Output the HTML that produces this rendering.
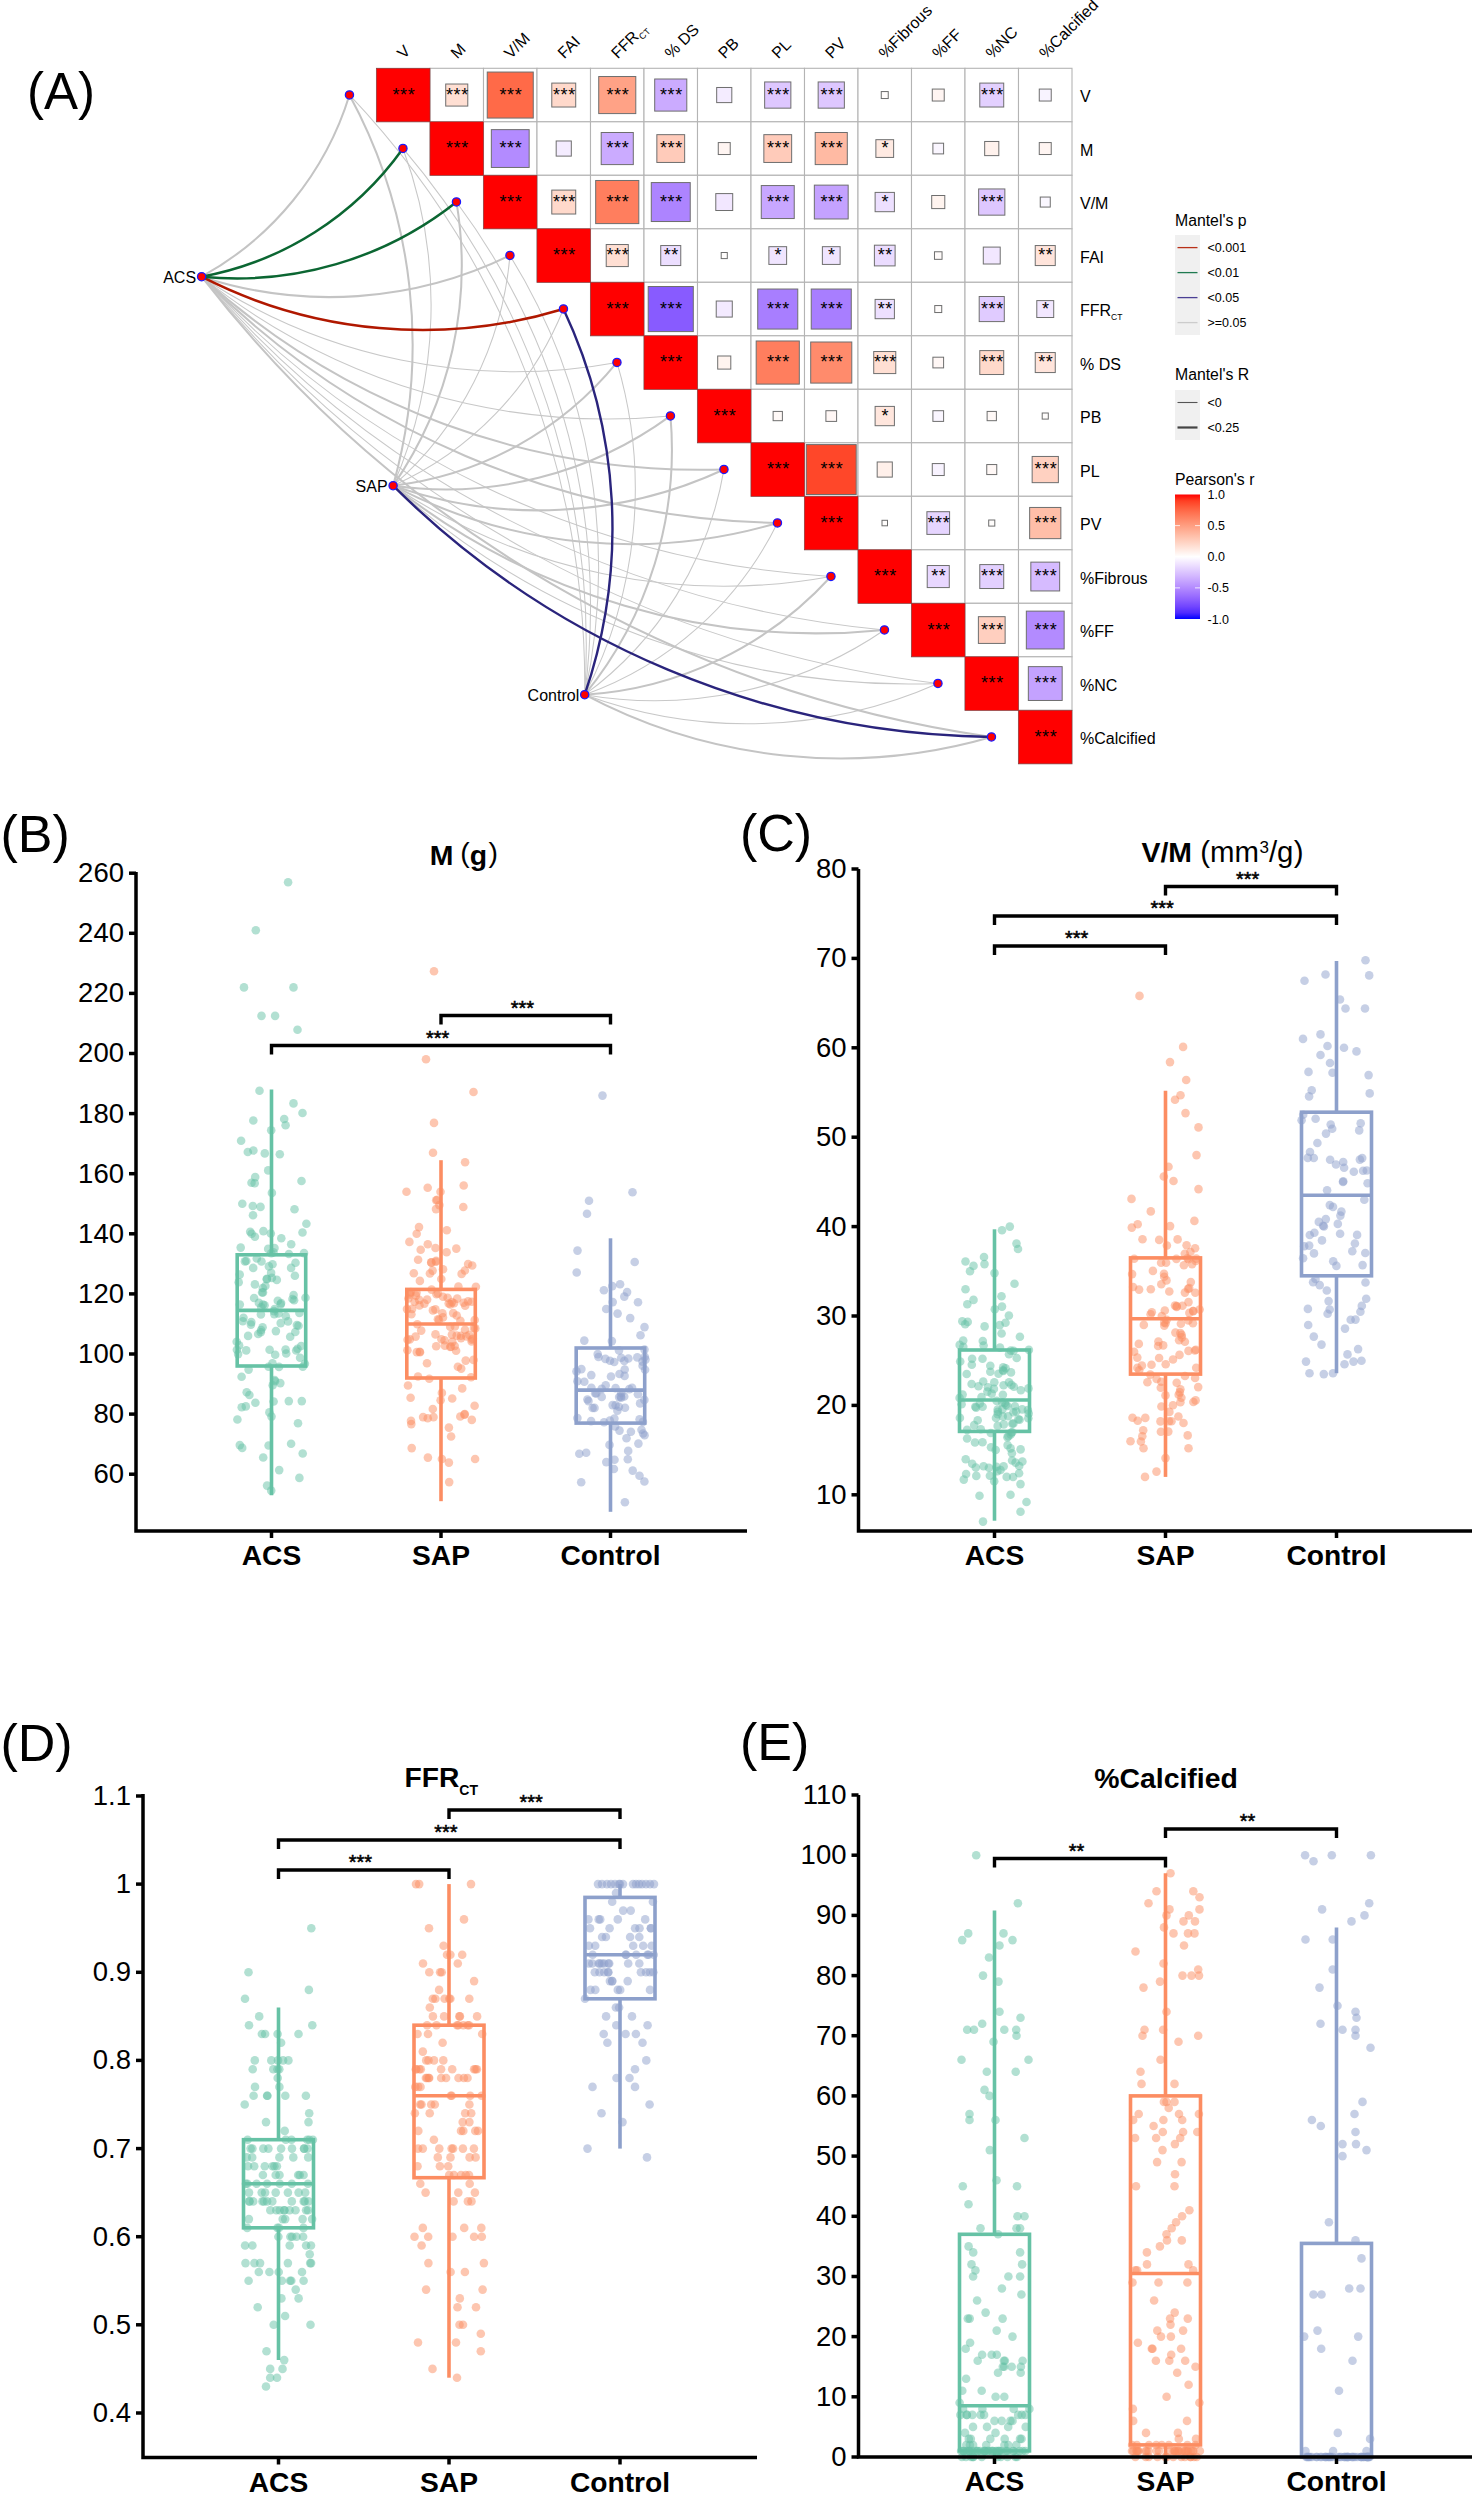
<!DOCTYPE html>
<html><head><meta charset="utf-8"><style>
html,body{margin:0;padding:0;background:#fff;width:1478px;height:2496px;overflow:hidden;}
svg{display:block;}
</style></head><body>
<svg width="1478" height="2496" viewBox="0 0 1478 2496">
<rect width="100%" height="100%" fill="#fff"/>
<g fill="none" stroke-linecap="butt">
<path d="M201.60,276.70 A564.49,564.49 0 0 0 616.95,362.45" stroke="#c8c8c8" stroke-width="1.05"/>
<path d="M201.60,276.70 A650.98,650.98 0 0 0 670.45,415.95" stroke="#c8c8c8" stroke-width="1.05"/>
<path d="M201.60,276.70 A927.82,927.82 0 0 0 830.95,576.45" stroke="#c8c8c8" stroke-width="1.05"/>
<path d="M201.60,276.70 A1023.29,1023.29 0 0 0 884.45,629.95" stroke="#c8c8c8" stroke-width="1.05"/>
<path d="M201.60,276.70 A1119.67,1119.67 0 0 0 937.95,683.45" stroke="#c8c8c8" stroke-width="1.05"/>
<path d="M393.10,485.70 A449.07,449.07 0 0 0 402.95,148.45" stroke="#c8c8c8" stroke-width="1.05"/>
<path d="M393.10,485.70 A343.67,343.67 0 0 0 509.95,255.45" stroke="#c8c8c8" stroke-width="1.05"/>
<path d="M393.10,485.70 A326.73,326.73 0 0 0 563.45,308.95" stroke="#c8c8c8" stroke-width="1.05"/>
<path d="M393.10,485.70 A595.16,595.16 0 0 0 830.95,576.45" stroke="#c8c8c8" stroke-width="1.05"/>
<path d="M393.10,485.70 A771.48,771.48 0 0 0 937.95,683.45" stroke="#c8c8c8" stroke-width="1.05"/>
<path d="M584.70,694.70 A857.48,857.48 0 0 0 349.45,94.95" stroke="#c8c8c8" stroke-width="1.05"/>
<path d="M584.70,694.70 A766.25,766.25 0 0 0 402.95,148.45" stroke="#c8c8c8" stroke-width="1.05"/>
<path d="M584.70,694.70 A677.70,677.70 0 0 0 456.45,201.95" stroke="#c8c8c8" stroke-width="1.05"/>
<path d="M584.70,694.70 A593.05,593.05 0 0 0 509.95,255.45" stroke="#c8c8c8" stroke-width="1.05"/>
<path d="M584.70,694.70 A444.30,444.30 0 0 0 616.95,362.45" stroke="#c8c8c8" stroke-width="1.05"/>
<path d="M584.70,694.70 A352.47,352.47 0 0 0 723.95,469.45" stroke="#c8c8c8" stroke-width="1.05"/>
<path d="M584.70,694.70 A343.62,343.62 0 0 0 777.45,522.95" stroke="#c8c8c8" stroke-width="1.05"/>
<path d="M584.70,694.70 A408.17,408.17 0 0 0 884.45,629.95" stroke="#c8c8c8" stroke-width="1.05"/>
<path d="M584.70,694.70 A470.41,470.41 0 0 0 937.95,683.45" stroke="#c8c8c8" stroke-width="1.05"/>
<path d="M201.60,276.70 A311.84,311.84 0 0 0 349.45,94.95" stroke="#c4c4c4" stroke-width="2.05"/>
<path d="M201.60,276.70 A411.39,411.39 0 0 0 509.95,255.45" stroke="#c4c4c4" stroke-width="2.05"/>
<path d="M201.60,276.70 A741.07,741.07 0 0 0 723.95,469.45" stroke="#c4c4c4" stroke-width="2.05"/>
<path d="M201.60,276.70 A833.60,833.60 0 0 0 777.45,522.95" stroke="#c4c4c4" stroke-width="2.05"/>
<path d="M201.60,276.70 A1216.75,1216.75 0 0 0 991.45,736.95" stroke="#c4c4c4" stroke-width="2.05"/>
<path d="M393.10,485.70 A523.32,523.32 0 0 0 349.45,94.95" stroke="#c4c4c4" stroke-width="2.05"/>
<path d="M393.10,485.70 A386.97,386.97 0 0 0 456.45,201.95" stroke="#c4c4c4" stroke-width="2.05"/>
<path d="M393.10,485.70 A340.12,340.12 0 0 0 616.95,362.45" stroke="#c4c4c4" stroke-width="2.05"/>
<path d="M393.10,485.70 A380.65,380.65 0 0 0 670.45,415.95" stroke="#c4c4c4" stroke-width="2.05"/>
<path d="M393.10,485.70 A440.89,440.89 0 0 0 723.95,469.45" stroke="#c4c4c4" stroke-width="2.05"/>
<path d="M393.10,485.70 A513.97,513.97 0 0 0 777.45,522.95" stroke="#c4c4c4" stroke-width="2.05"/>
<path d="M393.10,485.70 A681.59,681.59 0 0 0 884.45,629.95" stroke="#c4c4c4" stroke-width="2.05"/>
<path d="M584.70,694.70 A388.17,388.17 0 0 0 670.45,415.95" stroke="#c4c4c4" stroke-width="2.05"/>
<path d="M584.70,694.70 A363.59,363.59 0 0 0 830.95,576.45" stroke="#c4c4c4" stroke-width="2.05"/>
<path d="M584.70,694.70 A544.30,544.30 0 0 0 991.45,736.95" stroke="#c4c4c4" stroke-width="2.05"/>
<path d="M201.60,276.70 A483.53,483.53 0 0 0 563.45,308.95" stroke="#b01800" stroke-width="2.5"/>
<path d="M201.60,276.70 A317.74,317.74 0 0 0 402.95,148.45" stroke="#0b6632" stroke-width="2.5"/>
<path d="M201.60,276.70 A353.50,353.50 0 0 0 456.45,201.95" stroke="#0b6632" stroke-width="2.5"/>
<path d="M393.10,485.70 A863.77,863.77 0 0 0 991.45,736.95" stroke="#2a247c" stroke-width="2.4"/>
<path d="M584.70,694.70 A514.21,514.21 0 0 0 563.45,308.95" stroke="#2a247c" stroke-width="2.4"/>
</g>
<g>
<rect x="376.50" y="68.30" width="53.5" height="53.5" fill="#ffffff" stroke="#b4b4b4" stroke-width="1.1"/>
<rect x="430.00" y="68.30" width="53.5" height="53.5" fill="#ffffff" stroke="#b4b4b4" stroke-width="1.1"/>
<rect x="483.50" y="68.30" width="53.5" height="53.5" fill="#ffffff" stroke="#b4b4b4" stroke-width="1.1"/>
<rect x="537.00" y="68.30" width="53.5" height="53.5" fill="#ffffff" stroke="#b4b4b4" stroke-width="1.1"/>
<rect x="590.50" y="68.30" width="53.5" height="53.5" fill="#ffffff" stroke="#b4b4b4" stroke-width="1.1"/>
<rect x="644.00" y="68.30" width="53.5" height="53.5" fill="#ffffff" stroke="#b4b4b4" stroke-width="1.1"/>
<rect x="697.50" y="68.30" width="53.5" height="53.5" fill="#ffffff" stroke="#b4b4b4" stroke-width="1.1"/>
<rect x="751.00" y="68.30" width="53.5" height="53.5" fill="#ffffff" stroke="#b4b4b4" stroke-width="1.1"/>
<rect x="804.50" y="68.30" width="53.5" height="53.5" fill="#ffffff" stroke="#b4b4b4" stroke-width="1.1"/>
<rect x="858.00" y="68.30" width="53.5" height="53.5" fill="#ffffff" stroke="#b4b4b4" stroke-width="1.1"/>
<rect x="911.50" y="68.30" width="53.5" height="53.5" fill="#ffffff" stroke="#b4b4b4" stroke-width="1.1"/>
<rect x="965.00" y="68.30" width="53.5" height="53.5" fill="#ffffff" stroke="#b4b4b4" stroke-width="1.1"/>
<rect x="1018.50" y="68.30" width="53.5" height="53.5" fill="#ffffff" stroke="#b4b4b4" stroke-width="1.1"/>
<rect x="430.00" y="121.80" width="53.5" height="53.5" fill="#ffffff" stroke="#b4b4b4" stroke-width="1.1"/>
<rect x="483.50" y="121.80" width="53.5" height="53.5" fill="#ffffff" stroke="#b4b4b4" stroke-width="1.1"/>
<rect x="537.00" y="121.80" width="53.5" height="53.5" fill="#ffffff" stroke="#b4b4b4" stroke-width="1.1"/>
<rect x="590.50" y="121.80" width="53.5" height="53.5" fill="#ffffff" stroke="#b4b4b4" stroke-width="1.1"/>
<rect x="644.00" y="121.80" width="53.5" height="53.5" fill="#ffffff" stroke="#b4b4b4" stroke-width="1.1"/>
<rect x="697.50" y="121.80" width="53.5" height="53.5" fill="#ffffff" stroke="#b4b4b4" stroke-width="1.1"/>
<rect x="751.00" y="121.80" width="53.5" height="53.5" fill="#ffffff" stroke="#b4b4b4" stroke-width="1.1"/>
<rect x="804.50" y="121.80" width="53.5" height="53.5" fill="#ffffff" stroke="#b4b4b4" stroke-width="1.1"/>
<rect x="858.00" y="121.80" width="53.5" height="53.5" fill="#ffffff" stroke="#b4b4b4" stroke-width="1.1"/>
<rect x="911.50" y="121.80" width="53.5" height="53.5" fill="#ffffff" stroke="#b4b4b4" stroke-width="1.1"/>
<rect x="965.00" y="121.80" width="53.5" height="53.5" fill="#ffffff" stroke="#b4b4b4" stroke-width="1.1"/>
<rect x="1018.50" y="121.80" width="53.5" height="53.5" fill="#ffffff" stroke="#b4b4b4" stroke-width="1.1"/>
<rect x="483.50" y="175.30" width="53.5" height="53.5" fill="#ffffff" stroke="#b4b4b4" stroke-width="1.1"/>
<rect x="537.00" y="175.30" width="53.5" height="53.5" fill="#ffffff" stroke="#b4b4b4" stroke-width="1.1"/>
<rect x="590.50" y="175.30" width="53.5" height="53.5" fill="#ffffff" stroke="#b4b4b4" stroke-width="1.1"/>
<rect x="644.00" y="175.30" width="53.5" height="53.5" fill="#ffffff" stroke="#b4b4b4" stroke-width="1.1"/>
<rect x="697.50" y="175.30" width="53.5" height="53.5" fill="#ffffff" stroke="#b4b4b4" stroke-width="1.1"/>
<rect x="751.00" y="175.30" width="53.5" height="53.5" fill="#ffffff" stroke="#b4b4b4" stroke-width="1.1"/>
<rect x="804.50" y="175.30" width="53.5" height="53.5" fill="#ffffff" stroke="#b4b4b4" stroke-width="1.1"/>
<rect x="858.00" y="175.30" width="53.5" height="53.5" fill="#ffffff" stroke="#b4b4b4" stroke-width="1.1"/>
<rect x="911.50" y="175.30" width="53.5" height="53.5" fill="#ffffff" stroke="#b4b4b4" stroke-width="1.1"/>
<rect x="965.00" y="175.30" width="53.5" height="53.5" fill="#ffffff" stroke="#b4b4b4" stroke-width="1.1"/>
<rect x="1018.50" y="175.30" width="53.5" height="53.5" fill="#ffffff" stroke="#b4b4b4" stroke-width="1.1"/>
<rect x="537.00" y="228.80" width="53.5" height="53.5" fill="#ffffff" stroke="#b4b4b4" stroke-width="1.1"/>
<rect x="590.50" y="228.80" width="53.5" height="53.5" fill="#ffffff" stroke="#b4b4b4" stroke-width="1.1"/>
<rect x="644.00" y="228.80" width="53.5" height="53.5" fill="#ffffff" stroke="#b4b4b4" stroke-width="1.1"/>
<rect x="697.50" y="228.80" width="53.5" height="53.5" fill="#ffffff" stroke="#b4b4b4" stroke-width="1.1"/>
<rect x="751.00" y="228.80" width="53.5" height="53.5" fill="#ffffff" stroke="#b4b4b4" stroke-width="1.1"/>
<rect x="804.50" y="228.80" width="53.5" height="53.5" fill="#ffffff" stroke="#b4b4b4" stroke-width="1.1"/>
<rect x="858.00" y="228.80" width="53.5" height="53.5" fill="#ffffff" stroke="#b4b4b4" stroke-width="1.1"/>
<rect x="911.50" y="228.80" width="53.5" height="53.5" fill="#ffffff" stroke="#b4b4b4" stroke-width="1.1"/>
<rect x="965.00" y="228.80" width="53.5" height="53.5" fill="#ffffff" stroke="#b4b4b4" stroke-width="1.1"/>
<rect x="1018.50" y="228.80" width="53.5" height="53.5" fill="#ffffff" stroke="#b4b4b4" stroke-width="1.1"/>
<rect x="590.50" y="282.30" width="53.5" height="53.5" fill="#ffffff" stroke="#b4b4b4" stroke-width="1.1"/>
<rect x="644.00" y="282.30" width="53.5" height="53.5" fill="#ffffff" stroke="#b4b4b4" stroke-width="1.1"/>
<rect x="697.50" y="282.30" width="53.5" height="53.5" fill="#ffffff" stroke="#b4b4b4" stroke-width="1.1"/>
<rect x="751.00" y="282.30" width="53.5" height="53.5" fill="#ffffff" stroke="#b4b4b4" stroke-width="1.1"/>
<rect x="804.50" y="282.30" width="53.5" height="53.5" fill="#ffffff" stroke="#b4b4b4" stroke-width="1.1"/>
<rect x="858.00" y="282.30" width="53.5" height="53.5" fill="#ffffff" stroke="#b4b4b4" stroke-width="1.1"/>
<rect x="911.50" y="282.30" width="53.5" height="53.5" fill="#ffffff" stroke="#b4b4b4" stroke-width="1.1"/>
<rect x="965.00" y="282.30" width="53.5" height="53.5" fill="#ffffff" stroke="#b4b4b4" stroke-width="1.1"/>
<rect x="1018.50" y="282.30" width="53.5" height="53.5" fill="#ffffff" stroke="#b4b4b4" stroke-width="1.1"/>
<rect x="644.00" y="335.80" width="53.5" height="53.5" fill="#ffffff" stroke="#b4b4b4" stroke-width="1.1"/>
<rect x="697.50" y="335.80" width="53.5" height="53.5" fill="#ffffff" stroke="#b4b4b4" stroke-width="1.1"/>
<rect x="751.00" y="335.80" width="53.5" height="53.5" fill="#ffffff" stroke="#b4b4b4" stroke-width="1.1"/>
<rect x="804.50" y="335.80" width="53.5" height="53.5" fill="#ffffff" stroke="#b4b4b4" stroke-width="1.1"/>
<rect x="858.00" y="335.80" width="53.5" height="53.5" fill="#ffffff" stroke="#b4b4b4" stroke-width="1.1"/>
<rect x="911.50" y="335.80" width="53.5" height="53.5" fill="#ffffff" stroke="#b4b4b4" stroke-width="1.1"/>
<rect x="965.00" y="335.80" width="53.5" height="53.5" fill="#ffffff" stroke="#b4b4b4" stroke-width="1.1"/>
<rect x="1018.50" y="335.80" width="53.5" height="53.5" fill="#ffffff" stroke="#b4b4b4" stroke-width="1.1"/>
<rect x="697.50" y="389.30" width="53.5" height="53.5" fill="#ffffff" stroke="#b4b4b4" stroke-width="1.1"/>
<rect x="751.00" y="389.30" width="53.5" height="53.5" fill="#ffffff" stroke="#b4b4b4" stroke-width="1.1"/>
<rect x="804.50" y="389.30" width="53.5" height="53.5" fill="#ffffff" stroke="#b4b4b4" stroke-width="1.1"/>
<rect x="858.00" y="389.30" width="53.5" height="53.5" fill="#ffffff" stroke="#b4b4b4" stroke-width="1.1"/>
<rect x="911.50" y="389.30" width="53.5" height="53.5" fill="#ffffff" stroke="#b4b4b4" stroke-width="1.1"/>
<rect x="965.00" y="389.30" width="53.5" height="53.5" fill="#ffffff" stroke="#b4b4b4" stroke-width="1.1"/>
<rect x="1018.50" y="389.30" width="53.5" height="53.5" fill="#ffffff" stroke="#b4b4b4" stroke-width="1.1"/>
<rect x="751.00" y="442.80" width="53.5" height="53.5" fill="#ffffff" stroke="#b4b4b4" stroke-width="1.1"/>
<rect x="804.50" y="442.80" width="53.5" height="53.5" fill="#ffffff" stroke="#b4b4b4" stroke-width="1.1"/>
<rect x="858.00" y="442.80" width="53.5" height="53.5" fill="#ffffff" stroke="#b4b4b4" stroke-width="1.1"/>
<rect x="911.50" y="442.80" width="53.5" height="53.5" fill="#ffffff" stroke="#b4b4b4" stroke-width="1.1"/>
<rect x="965.00" y="442.80" width="53.5" height="53.5" fill="#ffffff" stroke="#b4b4b4" stroke-width="1.1"/>
<rect x="1018.50" y="442.80" width="53.5" height="53.5" fill="#ffffff" stroke="#b4b4b4" stroke-width="1.1"/>
<rect x="804.50" y="496.30" width="53.5" height="53.5" fill="#ffffff" stroke="#b4b4b4" stroke-width="1.1"/>
<rect x="858.00" y="496.30" width="53.5" height="53.5" fill="#ffffff" stroke="#b4b4b4" stroke-width="1.1"/>
<rect x="911.50" y="496.30" width="53.5" height="53.5" fill="#ffffff" stroke="#b4b4b4" stroke-width="1.1"/>
<rect x="965.00" y="496.30" width="53.5" height="53.5" fill="#ffffff" stroke="#b4b4b4" stroke-width="1.1"/>
<rect x="1018.50" y="496.30" width="53.5" height="53.5" fill="#ffffff" stroke="#b4b4b4" stroke-width="1.1"/>
<rect x="858.00" y="549.80" width="53.5" height="53.5" fill="#ffffff" stroke="#b4b4b4" stroke-width="1.1"/>
<rect x="911.50" y="549.80" width="53.5" height="53.5" fill="#ffffff" stroke="#b4b4b4" stroke-width="1.1"/>
<rect x="965.00" y="549.80" width="53.5" height="53.5" fill="#ffffff" stroke="#b4b4b4" stroke-width="1.1"/>
<rect x="1018.50" y="549.80" width="53.5" height="53.5" fill="#ffffff" stroke="#b4b4b4" stroke-width="1.1"/>
<rect x="911.50" y="603.30" width="53.5" height="53.5" fill="#ffffff" stroke="#b4b4b4" stroke-width="1.1"/>
<rect x="965.00" y="603.30" width="53.5" height="53.5" fill="#ffffff" stroke="#b4b4b4" stroke-width="1.1"/>
<rect x="1018.50" y="603.30" width="53.5" height="53.5" fill="#ffffff" stroke="#b4b4b4" stroke-width="1.1"/>
<rect x="965.00" y="656.80" width="53.5" height="53.5" fill="#ffffff" stroke="#b4b4b4" stroke-width="1.1"/>
<rect x="1018.50" y="656.80" width="53.5" height="53.5" fill="#ffffff" stroke="#b4b4b4" stroke-width="1.1"/>
<rect x="1018.50" y="710.30" width="53.5" height="53.5" fill="#ffffff" stroke="#b4b4b4" stroke-width="1.1"/>
<rect x="376.50" y="68.30" width="53.5" height="53.5" fill="#ff0000" stroke="#8a3a3a" stroke-width="0.6"/>
<rect x="445.72" y="84.02" width="22.06" height="22.06" fill="#ffdfd3" stroke="#6e6e6e" stroke-width="1"/>
<rect x="487.24" y="72.04" width="46.02" height="46.02" fill="#ff6a48" stroke="#6e6e6e" stroke-width="1"/>
<rect x="551.79" y="83.09" width="23.93" height="23.93" fill="#ffd9cb" stroke="#6e6e6e" stroke-width="1"/>
<rect x="598.72" y="76.52" width="37.07" height="37.07" fill="#ffa286" stroke="#6e6e6e" stroke-width="1"/>
<rect x="654.70" y="79.00" width="32.10" height="32.10" fill="#cbabff" stroke="#6e6e6e" stroke-width="1"/>
<rect x="716.68" y="87.48" width="15.13" height="15.13" fill="#f4ecff" stroke="#6e6e6e" stroke-width="1"/>
<rect x="764.65" y="81.95" width="26.21" height="26.21" fill="#dec7ff" stroke="#6e6e6e" stroke-width="1"/>
<rect x="818.15" y="81.95" width="26.21" height="26.21" fill="#dec7ff" stroke="#6e6e6e" stroke-width="1"/>
<rect x="881.26" y="91.56" width="6.98" height="6.98" fill="#fffcfb" stroke="#6e6e6e" stroke-width="1"/>
<rect x="932.27" y="89.07" width="11.96" height="11.96" fill="#fff5f2" stroke="#6e6e6e" stroke-width="1"/>
<rect x="979.79" y="83.09" width="23.93" height="23.93" fill="#e3d0ff" stroke="#6e6e6e" stroke-width="1"/>
<rect x="1039.27" y="89.07" width="11.96" height="11.96" fill="#f8f3ff" stroke="#6e6e6e" stroke-width="1"/>
<rect x="430.00" y="121.80" width="53.5" height="53.5" fill="#ff0000" stroke="#8a3a3a" stroke-width="0.6"/>
<rect x="491.33" y="129.63" width="37.83" height="37.83" fill="#b38bff" stroke="#6e6e6e" stroke-width="1"/>
<rect x="556.18" y="140.98" width="15.13" height="15.13" fill="#f4ecff" stroke="#6e6e6e" stroke-width="1"/>
<rect x="601.20" y="132.50" width="32.10" height="32.10" fill="#cbabff" stroke="#6e6e6e" stroke-width="1"/>
<rect x="656.85" y="134.65" width="27.80" height="27.80" fill="#ffcbba" stroke="#6e6e6e" stroke-width="1"/>
<rect x="718.27" y="142.57" width="11.96" height="11.96" fill="#fff5f2" stroke="#6e6e6e" stroke-width="1"/>
<rect x="763.85" y="134.65" width="27.80" height="27.80" fill="#ffcbba" stroke="#6e6e6e" stroke-width="1"/>
<rect x="815.20" y="132.50" width="32.10" height="32.10" fill="#ffbaa3" stroke="#6e6e6e" stroke-width="1"/>
<rect x="875.88" y="139.68" width="17.74" height="17.74" fill="#ffeae2" stroke="#6e6e6e" stroke-width="1"/>
<rect x="932.90" y="143.20" width="10.70" height="10.70" fill="#faf6ff" stroke="#6e6e6e" stroke-width="1"/>
<rect x="984.67" y="141.47" width="14.15" height="14.15" fill="#fff2ed" stroke="#6e6e6e" stroke-width="1"/>
<rect x="1039.27" y="142.57" width="11.96" height="11.96" fill="#fff5f2" stroke="#6e6e6e" stroke-width="1"/>
<rect x="483.50" y="175.30" width="53.5" height="53.5" fill="#ff0000" stroke="#8a3a3a" stroke-width="0.6"/>
<rect x="551.79" y="190.09" width="23.93" height="23.93" fill="#ffd9cb" stroke="#6e6e6e" stroke-width="1"/>
<rect x="595.68" y="180.48" width="43.13" height="43.13" fill="#ff7e5e" stroke="#6e6e6e" stroke-width="1"/>
<rect x="651.28" y="182.58" width="38.95" height="38.95" fill="#ad84ff" stroke="#6e6e6e" stroke-width="1"/>
<rect x="715.79" y="193.59" width="16.92" height="16.92" fill="#f2e7ff" stroke="#6e6e6e" stroke-width="1"/>
<rect x="761.26" y="185.56" width="32.98" height="32.98" fill="#c8a7ff" stroke="#6e6e6e" stroke-width="1"/>
<rect x="814.33" y="185.13" width="33.84" height="33.84" fill="#c4a2ff" stroke="#6e6e6e" stroke-width="1"/>
<rect x="875.11" y="192.41" width="19.29" height="19.29" fill="#ede0ff" stroke="#6e6e6e" stroke-width="1"/>
<rect x="931.70" y="195.50" width="13.10" height="13.10" fill="#fff4ef" stroke="#6e6e6e" stroke-width="1"/>
<rect x="978.65" y="188.95" width="26.21" height="26.21" fill="#dec7ff" stroke="#6e6e6e" stroke-width="1"/>
<rect x="1040.25" y="197.05" width="10.01" height="10.01" fill="#faf7ff" stroke="#6e6e6e" stroke-width="1"/>
<rect x="537.00" y="228.80" width="53.5" height="53.5" fill="#ff0000" stroke="#8a3a3a" stroke-width="0.6"/>
<rect x="606.22" y="244.52" width="22.06" height="22.06" fill="#ffdfd3" stroke="#6e6e6e" stroke-width="1"/>
<rect x="660.74" y="245.54" width="20.02" height="20.02" fill="#ecdeff" stroke="#6e6e6e" stroke-width="1"/>
<rect x="721.20" y="252.50" width="6.10" height="6.10" fill="#fffdfc" stroke="#6e6e6e" stroke-width="1"/>
<rect x="768.88" y="246.68" width="17.74" height="17.74" fill="#f0e5ff" stroke="#6e6e6e" stroke-width="1"/>
<rect x="822.38" y="246.68" width="17.74" height="17.74" fill="#f0e5ff" stroke="#6e6e6e" stroke-width="1"/>
<rect x="874.39" y="245.19" width="20.72" height="20.72" fill="#ebdcff" stroke="#6e6e6e" stroke-width="1"/>
<rect x="934.47" y="251.77" width="7.57" height="7.57" fill="#fffbfa" stroke="#6e6e6e" stroke-width="1"/>
<rect x="983.29" y="247.09" width="16.92" height="16.92" fill="#f2e7ff" stroke="#6e6e6e" stroke-width="1"/>
<rect x="1035.24" y="245.54" width="20.02" height="20.02" fill="#ffe4db" stroke="#6e6e6e" stroke-width="1"/>
<rect x="590.50" y="282.30" width="53.5" height="53.5" fill="#ff0000" stroke="#8a3a3a" stroke-width="0.6"/>
<rect x="648.21" y="286.51" width="45.08" height="45.08" fill="#885bff" stroke="#6e6e6e" stroke-width="1"/>
<rect x="716.23" y="301.03" width="16.05" height="16.05" fill="#f3eaff" stroke="#6e6e6e" stroke-width="1"/>
<rect x="757.73" y="289.03" width="40.04" height="40.04" fill="#a87eff" stroke="#6e6e6e" stroke-width="1"/>
<rect x="811.23" y="289.03" width="40.04" height="40.04" fill="#a87eff" stroke="#6e6e6e" stroke-width="1"/>
<rect x="875.11" y="299.41" width="19.29" height="19.29" fill="#ede0ff" stroke="#6e6e6e" stroke-width="1"/>
<rect x="934.76" y="305.56" width="6.98" height="6.98" fill="#fffcfb" stroke="#6e6e6e" stroke-width="1"/>
<rect x="979.20" y="296.50" width="25.09" height="25.09" fill="#e0cbff" stroke="#6e6e6e" stroke-width="1"/>
<rect x="1036.79" y="300.59" width="16.92" height="16.92" fill="#f2e7ff" stroke="#6e6e6e" stroke-width="1"/>
<rect x="644.00" y="335.80" width="53.5" height="53.5" fill="#ff0000" stroke="#8a3a3a" stroke-width="0.6"/>
<rect x="717.70" y="356.00" width="13.10" height="13.10" fill="#fff4ef" stroke="#6e6e6e" stroke-width="1"/>
<rect x="756.18" y="340.98" width="43.13" height="43.13" fill="#ff7e5e" stroke="#6e6e6e" stroke-width="1"/>
<rect x="810.70" y="342.00" width="41.09" height="41.09" fill="#ff8b6c" stroke="#6e6e6e" stroke-width="1"/>
<rect x="873.72" y="351.52" width="22.06" height="22.06" fill="#ffdfd3" stroke="#6e6e6e" stroke-width="1"/>
<rect x="932.90" y="357.20" width="10.70" height="10.70" fill="#fff7f5" stroke="#6e6e6e" stroke-width="1"/>
<rect x="979.79" y="350.59" width="23.93" height="23.93" fill="#ffd9cb" stroke="#6e6e6e" stroke-width="1"/>
<rect x="1035.24" y="352.54" width="20.02" height="20.02" fill="#ffe4db" stroke="#6e6e6e" stroke-width="1"/>
<rect x="697.50" y="389.30" width="53.5" height="53.5" fill="#ff0000" stroke="#8a3a3a" stroke-width="0.6"/>
<rect x="773.12" y="411.42" width="9.27" height="9.27" fill="#fff9f7" stroke="#6e6e6e" stroke-width="1"/>
<rect x="825.90" y="410.70" width="10.70" height="10.70" fill="#fff7f5" stroke="#6e6e6e" stroke-width="1"/>
<rect x="875.11" y="406.41" width="19.29" height="19.29" fill="#ffe6dd" stroke="#6e6e6e" stroke-width="1"/>
<rect x="932.90" y="410.70" width="10.70" height="10.70" fill="#faf6ff" stroke="#6e6e6e" stroke-width="1"/>
<rect x="987.12" y="411.42" width="9.27" height="9.27" fill="#fff9f7" stroke="#6e6e6e" stroke-width="1"/>
<rect x="1042.20" y="413.00" width="6.10" height="6.10" fill="#fffdfc" stroke="#6e6e6e" stroke-width="1"/>
<rect x="751.00" y="442.80" width="53.5" height="53.5" fill="#ff0000" stroke="#8a3a3a" stroke-width="0.6"/>
<rect x="806.30" y="444.60" width="49.90" height="49.90" fill="#ff4729" stroke="#6e6e6e" stroke-width="1"/>
<rect x="877.18" y="461.98" width="15.13" height="15.13" fill="#fff0ea" stroke="#6e6e6e" stroke-width="1"/>
<rect x="932.27" y="463.57" width="11.96" height="11.96" fill="#f8f3ff" stroke="#6e6e6e" stroke-width="1"/>
<rect x="986.75" y="464.55" width="10.01" height="10.01" fill="#fff8f6" stroke="#6e6e6e" stroke-width="1"/>
<rect x="1032.15" y="456.45" width="26.21" height="26.21" fill="#ffd1c1" stroke="#6e6e6e" stroke-width="1"/>
<rect x="804.50" y="496.30" width="53.5" height="53.5" fill="#ff0000" stroke="#8a3a3a" stroke-width="0.6"/>
<rect x="882.00" y="520.30" width="5.50" height="5.50" fill="#fffdfc" stroke="#6e6e6e" stroke-width="1"/>
<rect x="926.90" y="511.70" width="22.70" height="22.70" fill="#e6d5ff" stroke="#6e6e6e" stroke-width="1"/>
<rect x="988.70" y="520.00" width="6.10" height="6.10" fill="#fffdfc" stroke="#6e6e6e" stroke-width="1"/>
<rect x="1029.65" y="507.45" width="31.20" height="31.20" fill="#ffbea8" stroke="#6e6e6e" stroke-width="1"/>
<rect x="858.00" y="549.80" width="53.5" height="53.5" fill="#ff0000" stroke="#8a3a3a" stroke-width="0.6"/>
<rect x="927.22" y="565.52" width="22.06" height="22.06" fill="#e8d7ff" stroke="#6e6e6e" stroke-width="1"/>
<rect x="979.79" y="564.59" width="23.93" height="23.93" fill="#e3d0ff" stroke="#6e6e6e" stroke-width="1"/>
<rect x="1030.84" y="562.14" width="28.81" height="28.81" fill="#d6bbff" stroke="#6e6e6e" stroke-width="1"/>
<rect x="911.50" y="603.30" width="53.5" height="53.5" fill="#ff0000" stroke="#8a3a3a" stroke-width="0.6"/>
<rect x="978.38" y="616.67" width="26.75" height="26.75" fill="#ffcfbf" stroke="#6e6e6e" stroke-width="1"/>
<rect x="1026.33" y="611.13" width="37.83" height="37.83" fill="#b38bff" stroke="#6e6e6e" stroke-width="1"/>
<rect x="965.00" y="656.80" width="53.5" height="53.5" fill="#ff0000" stroke="#8a3a3a" stroke-width="0.6"/>
<rect x="1028.33" y="666.63" width="33.84" height="33.84" fill="#c4a2ff" stroke="#6e6e6e" stroke-width="1"/>
<rect x="1018.50" y="710.30" width="53.5" height="53.5" fill="#ff0000" stroke="#8a3a3a" stroke-width="0.6"/>
</g>
<g font-family='"Liberation Sans", sans-serif' font-size="18" fill="#000" text-anchor="middle">
<text x="403.85" y="100.85" letter-spacing="0.6">***</text>
<text x="457.35" y="100.85" letter-spacing="0.6">***</text>
<text x="510.85" y="100.85" letter-spacing="0.6">***</text>
<text x="564.35" y="100.85" letter-spacing="0.6">***</text>
<text x="617.85" y="100.85" letter-spacing="0.6">***</text>
<text x="671.35" y="100.85" letter-spacing="0.6">***</text>
<text x="778.35" y="100.85" letter-spacing="0.6">***</text>
<text x="831.85" y="100.85" letter-spacing="0.6">***</text>
<text x="992.35" y="100.85" letter-spacing="0.6">***</text>
<text x="457.35" y="154.35" letter-spacing="0.6">***</text>
<text x="510.85" y="154.35" letter-spacing="0.6">***</text>
<text x="617.85" y="154.35" letter-spacing="0.6">***</text>
<text x="671.35" y="154.35" letter-spacing="0.6">***</text>
<text x="778.35" y="154.35" letter-spacing="0.6">***</text>
<text x="831.85" y="154.35" letter-spacing="0.6">***</text>
<text x="885.35" y="154.35" letter-spacing="0.6">*</text>
<text x="510.85" y="207.85" letter-spacing="0.6">***</text>
<text x="564.35" y="207.85" letter-spacing="0.6">***</text>
<text x="617.85" y="207.85" letter-spacing="0.6">***</text>
<text x="671.35" y="207.85" letter-spacing="0.6">***</text>
<text x="778.35" y="207.85" letter-spacing="0.6">***</text>
<text x="831.85" y="207.85" letter-spacing="0.6">***</text>
<text x="885.35" y="207.85" letter-spacing="0.6">*</text>
<text x="992.35" y="207.85" letter-spacing="0.6">***</text>
<text x="564.35" y="261.35" letter-spacing="0.6">***</text>
<text x="617.85" y="261.35" letter-spacing="0.6">***</text>
<text x="671.35" y="261.35" letter-spacing="0.6">**</text>
<text x="778.35" y="261.35" letter-spacing="0.6">*</text>
<text x="831.85" y="261.35" letter-spacing="0.6">*</text>
<text x="885.35" y="261.35" letter-spacing="0.6">**</text>
<text x="1045.85" y="261.35" letter-spacing="0.6">**</text>
<text x="617.85" y="314.85" letter-spacing="0.6">***</text>
<text x="671.35" y="314.85" letter-spacing="0.6">***</text>
<text x="778.35" y="314.85" letter-spacing="0.6">***</text>
<text x="831.85" y="314.85" letter-spacing="0.6">***</text>
<text x="885.35" y="314.85" letter-spacing="0.6">**</text>
<text x="992.35" y="314.85" letter-spacing="0.6">***</text>
<text x="1045.85" y="314.85" letter-spacing="0.6">*</text>
<text x="671.35" y="368.35" letter-spacing="0.6">***</text>
<text x="778.35" y="368.35" letter-spacing="0.6">***</text>
<text x="831.85" y="368.35" letter-spacing="0.6">***</text>
<text x="885.35" y="368.35" letter-spacing="0.6">***</text>
<text x="992.35" y="368.35" letter-spacing="0.6">***</text>
<text x="1045.85" y="368.35" letter-spacing="0.6">**</text>
<text x="724.85" y="421.85" letter-spacing="0.6">***</text>
<text x="885.35" y="421.85" letter-spacing="0.6">*</text>
<text x="778.35" y="475.35" letter-spacing="0.6">***</text>
<text x="831.85" y="475.35" letter-spacing="0.6">***</text>
<text x="1045.85" y="475.35" letter-spacing="0.6">***</text>
<text x="831.85" y="528.85" letter-spacing="0.6">***</text>
<text x="938.85" y="528.85" letter-spacing="0.6">***</text>
<text x="1045.85" y="528.85" letter-spacing="0.6">***</text>
<text x="885.35" y="582.35" letter-spacing="0.6">***</text>
<text x="938.85" y="582.35" letter-spacing="0.6">**</text>
<text x="992.35" y="582.35" letter-spacing="0.6">***</text>
<text x="1045.85" y="582.35" letter-spacing="0.6">***</text>
<text x="938.85" y="635.85" letter-spacing="0.6">***</text>
<text x="992.35" y="635.85" letter-spacing="0.6">***</text>
<text x="1045.85" y="635.85" letter-spacing="0.6">***</text>
<text x="992.35" y="689.35" letter-spacing="0.6">***</text>
<text x="1045.85" y="689.35" letter-spacing="0.6">***</text>
<text x="1045.85" y="742.85" letter-spacing="0.6">***</text>
</g>
<circle cx="201.6" cy="276.7" r="4.1" fill="#ff0000" stroke="#1a1aff" stroke-width="1.3"/>
<circle cx="393.1" cy="485.7" r="4.1" fill="#ff0000" stroke="#1a1aff" stroke-width="1.3"/>
<circle cx="584.7" cy="694.7" r="4.1" fill="#ff0000" stroke="#1a1aff" stroke-width="1.3"/>
<circle cx="349.45" cy="94.95" r="4.1" fill="#ff0000" stroke="#1a1aff" stroke-width="1.3"/>
<circle cx="402.95" cy="148.45" r="4.1" fill="#ff0000" stroke="#1a1aff" stroke-width="1.3"/>
<circle cx="456.45" cy="201.95" r="4.1" fill="#ff0000" stroke="#1a1aff" stroke-width="1.3"/>
<circle cx="509.95" cy="255.45" r="4.1" fill="#ff0000" stroke="#1a1aff" stroke-width="1.3"/>
<circle cx="563.45" cy="308.95" r="4.1" fill="#ff0000" stroke="#1a1aff" stroke-width="1.3"/>
<circle cx="616.95" cy="362.45" r="4.1" fill="#ff0000" stroke="#1a1aff" stroke-width="1.3"/>
<circle cx="670.45" cy="415.95" r="4.1" fill="#ff0000" stroke="#1a1aff" stroke-width="1.3"/>
<circle cx="723.95" cy="469.45" r="4.1" fill="#ff0000" stroke="#1a1aff" stroke-width="1.3"/>
<circle cx="777.45" cy="522.95" r="4.1" fill="#ff0000" stroke="#1a1aff" stroke-width="1.3"/>
<circle cx="830.95" cy="576.45" r="4.1" fill="#ff0000" stroke="#1a1aff" stroke-width="1.3"/>
<circle cx="884.45" cy="629.95" r="4.1" fill="#ff0000" stroke="#1a1aff" stroke-width="1.3"/>
<circle cx="937.95" cy="683.45" r="4.1" fill="#ff0000" stroke="#1a1aff" stroke-width="1.3"/>
<circle cx="991.45" cy="736.95" r="4.1" fill="#ff0000" stroke="#1a1aff" stroke-width="1.3"/>
<g font-family='"Liberation Sans", sans-serif' font-size="16" fill="#000">
<text x="196.1" y="282.5" text-anchor="end">ACS</text>
<text x="387.6" y="491.5" text-anchor="end">SAP</text>
<text x="579.2" y="700.5" text-anchor="end">Control</text>
<text x="1080" y="102.35">V</text>
<text x="1080" y="155.85">M</text>
<text x="1080" y="209.35">V/M</text>
<text x="1080" y="262.85">FAI</text>
<text x="1080" y="316.35">FFR<tspan font-size="8.5" dy="3.5">CT</tspan></text>
<text x="1080" y="369.85">% DS</text>
<text x="1080" y="423.35">PB</text>
<text x="1080" y="476.85">PL</text>
<text x="1080" y="530.35">PV</text>
<text x="1080" y="583.85">%Fibrous</text>
<text x="1080" y="637.35">%FF</text>
<text x="1080" y="690.85">%NC</text>
<text x="1080" y="744.35">%Calcified</text>
<text transform="translate(403.75,59.5) rotate(-45)">V</text>
<text transform="translate(457.25,59.5) rotate(-45)">M</text>
<text transform="translate(510.75,59.5) rotate(-45)">V/M</text>
<text transform="translate(564.25,59.5) rotate(-45)">FAI</text>
<text transform="translate(617.75,59.5) rotate(-45)">FFR<tspan font-size="9" dy="4">CT</tspan></text>
<text transform="translate(671.25,59.5) rotate(-45)">% DS</text>
<text transform="translate(724.75,59.5) rotate(-45)">PB</text>
<text transform="translate(778.25,59.5) rotate(-45)">PL</text>
<text transform="translate(831.75,59.5) rotate(-45)">PV</text>
<text transform="translate(885.25,59.5) rotate(-45)">%Fibrous</text>
<text transform="translate(938.75,59.5) rotate(-45)">%FF</text>
<text transform="translate(992.25,59.5) rotate(-45)">%NC</text>
<text transform="translate(1045.75,59.5) rotate(-45)">%Calcified</text>
</g>
<text x="27" y="109" font-family='"Liberation Sans", sans-serif' font-size="51" fill="#000">(A)</text>
<g font-family='"Liberation Sans", sans-serif' fill="#000">
<text x="1175" y="225.8" font-size="15.8">Mantel's p</text>
<rect x="1175" y="235" width="25" height="100" fill="#f0f0f0"/>
<line x1="1177.5" y1="247.6" x2="1197.5" y2="247.6" stroke="#b83018" stroke-width="1.3"/>
<text x="1207.5" y="252.1" font-size="12.5">&lt;0.001</text>
<line x1="1177.5" y1="272.6" x2="1197.5" y2="272.6" stroke="#1f7a50" stroke-width="1.3"/>
<text x="1207.5" y="277.1" font-size="12.5">&lt;0.01</text>
<line x1="1177.5" y1="297.6" x2="1197.5" y2="297.6" stroke="#4a3f94" stroke-width="1.3"/>
<text x="1207.5" y="302.1" font-size="12.5">&lt;0.05</text>
<line x1="1177.5" y1="322.6" x2="1197.5" y2="322.6" stroke="#cccccc" stroke-width="1.3"/>
<text x="1207.5" y="327.1" font-size="12.5">&gt;=0.05</text>
<text x="1175" y="380.3" font-size="15.8">Mantel's R</text>
<rect x="1175" y="390" width="25" height="50" fill="#f0f0f0"/>
<line x1="1177.5" y1="402.5" x2="1197.5" y2="402.5" stroke="#555" stroke-width="1.1"/>
<text x="1207.5" y="407" font-size="12.5">&lt;0</text>
<line x1="1177.5" y1="427.5" x2="1197.5" y2="427.5" stroke="#444" stroke-width="2.2"/>
<text x="1207.5" y="432" font-size="12.5">&lt;0.25</text>
<text x="1175" y="484.5" font-size="15.8">Pearson's r</text>
</g>
<defs><linearGradient id="cb" x1="0" y1="0" x2="0" y2="1"><stop offset="0.000" stop-color="#ff0000"/><stop offset="0.050" stop-color="#ff3e22"/><stop offset="0.100" stop-color="#ff5b3a"/><stop offset="0.150" stop-color="#ff7352"/><stop offset="0.200" stop-color="#ff8969"/><stop offset="0.250" stop-color="#ff9e81"/><stop offset="0.300" stop-color="#ffb299"/><stop offset="0.350" stop-color="#ffc6b2"/><stop offset="0.400" stop-color="#ffd9cb"/><stop offset="0.450" stop-color="#ffece5"/><stop offset="0.500" stop-color="#ffffff"/><stop offset="0.550" stop-color="#f2e7ff"/><stop offset="0.600" stop-color="#e3d0ff"/><stop offset="0.650" stop-color="#d4b9ff"/><stop offset="0.700" stop-color="#c4a2ff"/><stop offset="0.750" stop-color="#b38bff"/><stop offset="0.800" stop-color="#a074ff"/><stop offset="0.850" stop-color="#8a5dff"/><stop offset="0.900" stop-color="#7145ff"/><stop offset="0.950" stop-color="#502bff"/><stop offset="1.000" stop-color="#0000ff"/></linearGradient></defs>
<rect x="1175" y="494.5" width="25" height="124.5" fill="url(#cb)"/>
<text x="1207.5" y="499.0" font-size="12.5" font-family='"Liberation Sans", sans-serif'>1.0</text>
<line x1="1175" y1="525.625" x2="1180" y2="525.625" stroke="#fff" stroke-width="0.8"/><line x1="1195" y1="525.625" x2="1200" y2="525.625" stroke="#fff" stroke-width="0.8"/>
<text x="1207.5" y="530.125" font-size="12.5" font-family='"Liberation Sans", sans-serif'>0.5</text>
<line x1="1175" y1="556.75" x2="1180" y2="556.75" stroke="#fff" stroke-width="0.8"/><line x1="1195" y1="556.75" x2="1200" y2="556.75" stroke="#fff" stroke-width="0.8"/>
<text x="1207.5" y="561.25" font-size="12.5" font-family='"Liberation Sans", sans-serif'>0.0</text>
<line x1="1175" y1="587.875" x2="1180" y2="587.875" stroke="#fff" stroke-width="0.8"/><line x1="1195" y1="587.875" x2="1200" y2="587.875" stroke="#fff" stroke-width="0.8"/>
<text x="1207.5" y="592.375" font-size="12.5" font-family='"Liberation Sans", sans-serif'>-0.5</text>
<text x="1207.5" y="623.5" font-size="12.5" font-family='"Liberation Sans", sans-serif'>-1.0</text>
<text x="0.5" y="851.5" font-family='"Liberation Sans", sans-serif' font-size="52" fill="#000">(B)</text>
<text x="429.7" y="865.2" font-family='"Liberation Sans", sans-serif' font-size="28.4" font-weight="bold">M <tspan font-weight="normal" dx="-1" dy="-3.5">(</tspan><tspan dy="3.5">g</tspan><tspan font-weight="normal" dx="1.5" dy="-3.5">)</tspan></text>
<g>
<circle cx="271.2" cy="1130.2" r="4.3" fill="#66c2a5" fill-opacity="0.5"/>
<circle cx="258.2" cy="1334.0" r="4.3" fill="#66c2a5" fill-opacity="0.5"/>
<circle cx="246.2" cy="1350.4" r="4.3" fill="#66c2a5" fill-opacity="0.5"/>
<circle cx="274.1" cy="1311.1" r="4.3" fill="#66c2a5" fill-opacity="0.5"/>
<circle cx="290.2" cy="1336.8" r="4.3" fill="#66c2a5" fill-opacity="0.5"/>
<circle cx="275.2" cy="1354.7" r="4.3" fill="#66c2a5" fill-opacity="0.5"/>
<circle cx="254.9" cy="1284.4" r="4.3" fill="#66c2a5" fill-opacity="0.5"/>
<circle cx="294.9" cy="1275.7" r="4.3" fill="#66c2a5" fill-opacity="0.5"/>
<circle cx="273.6" cy="1401.5" r="4.3" fill="#66c2a5" fill-opacity="0.5"/>
<circle cx="272.7" cy="1385.2" r="4.3" fill="#66c2a5" fill-opacity="0.5"/>
<circle cx="285.6" cy="1349.6" r="4.3" fill="#66c2a5" fill-opacity="0.5"/>
<circle cx="304.0" cy="1253.1" r="4.3" fill="#66c2a5" fill-opacity="0.5"/>
<circle cx="272.5" cy="1264.2" r="4.3" fill="#66c2a5" fill-opacity="0.5"/>
<circle cx="298.0" cy="1423.2" r="4.3" fill="#66c2a5" fill-opacity="0.5"/>
<circle cx="245.8" cy="1406.4" r="4.3" fill="#66c2a5" fill-opacity="0.5"/>
<circle cx="240.7" cy="1247.6" r="4.3" fill="#66c2a5" fill-opacity="0.5"/>
<circle cx="253.4" cy="1150.5" r="4.3" fill="#66c2a5" fill-opacity="0.5"/>
<circle cx="299.4" cy="1313.0" r="4.3" fill="#66c2a5" fill-opacity="0.5"/>
<circle cx="302.8" cy="1366.8" r="4.3" fill="#66c2a5" fill-opacity="0.5"/>
<circle cx="252.8" cy="1206.0" r="4.3" fill="#66c2a5" fill-opacity="0.5"/>
<circle cx="248.1" cy="1335.9" r="4.3" fill="#66c2a5" fill-opacity="0.5"/>
<circle cx="268.2" cy="1248.9" r="4.3" fill="#66c2a5" fill-opacity="0.5"/>
<circle cx="264.8" cy="1153.4" r="4.3" fill="#66c2a5" fill-opacity="0.5"/>
<circle cx="256.8" cy="1258.5" r="4.3" fill="#66c2a5" fill-opacity="0.5"/>
<circle cx="280.6" cy="1304.4" r="4.3" fill="#66c2a5" fill-opacity="0.5"/>
<circle cx="274.5" cy="1248.1" r="4.3" fill="#66c2a5" fill-opacity="0.5"/>
<circle cx="272.5" cy="1363.4" r="4.3" fill="#66c2a5" fill-opacity="0.5"/>
<circle cx="296.9" cy="1325.1" r="4.3" fill="#66c2a5" fill-opacity="0.5"/>
<circle cx="300.1" cy="1357.7" r="4.3" fill="#66c2a5" fill-opacity="0.5"/>
<circle cx="262.6" cy="1327.3" r="4.3" fill="#66c2a5" fill-opacity="0.5"/>
<circle cx="296.2" cy="1350.5" r="4.3" fill="#66c2a5" fill-opacity="0.5"/>
<circle cx="298.5" cy="1325.7" r="4.3" fill="#66c2a5" fill-opacity="0.5"/>
<circle cx="236.7" cy="1341.8" r="4.3" fill="#66c2a5" fill-opacity="0.5"/>
<circle cx="281.1" cy="1303.1" r="4.3" fill="#66c2a5" fill-opacity="0.5"/>
<circle cx="264.6" cy="1305.2" r="4.3" fill="#66c2a5" fill-opacity="0.5"/>
<circle cx="265.4" cy="1286.0" r="4.3" fill="#66c2a5" fill-opacity="0.5"/>
<circle cx="268.2" cy="1170.4" r="4.3" fill="#66c2a5" fill-opacity="0.5"/>
<circle cx="239.8" cy="1445.1" r="4.3" fill="#66c2a5" fill-opacity="0.5"/>
<circle cx="251.5" cy="1182.8" r="4.3" fill="#66c2a5" fill-opacity="0.5"/>
<circle cx="261.1" cy="1330.0" r="4.3" fill="#66c2a5" fill-opacity="0.5"/>
<circle cx="271.5" cy="1416.6" r="4.3" fill="#66c2a5" fill-opacity="0.5"/>
<circle cx="250.9" cy="1324.6" r="4.3" fill="#66c2a5" fill-opacity="0.5"/>
<circle cx="258.9" cy="1302.9" r="4.3" fill="#66c2a5" fill-opacity="0.5"/>
<circle cx="294.5" cy="1209.3" r="4.3" fill="#66c2a5" fill-opacity="0.5"/>
<circle cx="301.8" cy="1401.1" r="4.3" fill="#66c2a5" fill-opacity="0.5"/>
<circle cx="262.1" cy="1292.5" r="4.3" fill="#66c2a5" fill-opacity="0.5"/>
<circle cx="277.8" cy="1300.7" r="4.3" fill="#66c2a5" fill-opacity="0.5"/>
<circle cx="263.2" cy="1457.5" r="4.3" fill="#66c2a5" fill-opacity="0.5"/>
<circle cx="269.4" cy="1412.4" r="4.3" fill="#66c2a5" fill-opacity="0.5"/>
<circle cx="246.3" cy="1261.0" r="4.3" fill="#66c2a5" fill-opacity="0.5"/>
<circle cx="273.4" cy="1252.4" r="4.3" fill="#66c2a5" fill-opacity="0.5"/>
<circle cx="260.5" cy="1206.9" r="4.3" fill="#66c2a5" fill-opacity="0.5"/>
<circle cx="268.9" cy="1266.4" r="4.3" fill="#66c2a5" fill-opacity="0.5"/>
<circle cx="271.9" cy="1277.9" r="4.3" fill="#66c2a5" fill-opacity="0.5"/>
<circle cx="294.1" cy="1300.3" r="4.3" fill="#66c2a5" fill-opacity="0.5"/>
<circle cx="271.9" cy="1192.9" r="4.3" fill="#66c2a5" fill-opacity="0.5"/>
<circle cx="275.1" cy="1381.3" r="4.3" fill="#66c2a5" fill-opacity="0.5"/>
<circle cx="251.3" cy="1322.1" r="4.3" fill="#66c2a5" fill-opacity="0.5"/>
<circle cx="266.9" cy="1278.7" r="4.3" fill="#66c2a5" fill-opacity="0.5"/>
<circle cx="242.2" cy="1447.9" r="4.3" fill="#66c2a5" fill-opacity="0.5"/>
<circle cx="301.5" cy="1181.0" r="4.3" fill="#66c2a5" fill-opacity="0.5"/>
<circle cx="241.6" cy="1376.7" r="4.3" fill="#66c2a5" fill-opacity="0.5"/>
<circle cx="285.8" cy="1316.3" r="4.3" fill="#66c2a5" fill-opacity="0.5"/>
<circle cx="274.6" cy="1380.1" r="4.3" fill="#66c2a5" fill-opacity="0.5"/>
<circle cx="238.1" cy="1354.1" r="4.3" fill="#66c2a5" fill-opacity="0.5"/>
<circle cx="247.8" cy="1152.0" r="4.3" fill="#66c2a5" fill-opacity="0.5"/>
<circle cx="255.4" cy="1402.8" r="4.3" fill="#66c2a5" fill-opacity="0.5"/>
<circle cx="301.2" cy="1346.0" r="4.3" fill="#66c2a5" fill-opacity="0.5"/>
<circle cx="253.2" cy="1267.9" r="4.3" fill="#66c2a5" fill-opacity="0.5"/>
<circle cx="271.1" cy="1272.9" r="4.3" fill="#66c2a5" fill-opacity="0.5"/>
<circle cx="261.5" cy="1261.5" r="4.3" fill="#66c2a5" fill-opacity="0.5"/>
<circle cx="276.8" cy="1279.9" r="4.3" fill="#66c2a5" fill-opacity="0.5"/>
<circle cx="255.2" cy="1177.1" r="4.3" fill="#66c2a5" fill-opacity="0.5"/>
<circle cx="253.0" cy="1215.2" r="4.3" fill="#66c2a5" fill-opacity="0.5"/>
<circle cx="244.9" cy="1261.4" r="4.3" fill="#66c2a5" fill-opacity="0.5"/>
<circle cx="268.6" cy="1366.8" r="4.3" fill="#66c2a5" fill-opacity="0.5"/>
<circle cx="248.6" cy="1369.6" r="4.3" fill="#66c2a5" fill-opacity="0.5"/>
<circle cx="299.4" cy="1477.9" r="4.3" fill="#66c2a5" fill-opacity="0.5"/>
<circle cx="271.2" cy="1253.3" r="4.3" fill="#66c2a5" fill-opacity="0.5"/>
<circle cx="279.2" cy="1470.1" r="4.3" fill="#66c2a5" fill-opacity="0.5"/>
<circle cx="263.4" cy="1231.1" r="4.3" fill="#66c2a5" fill-opacity="0.5"/>
<circle cx="284.2" cy="1119.0" r="4.3" fill="#66c2a5" fill-opacity="0.5"/>
<circle cx="288.8" cy="1401.1" r="4.3" fill="#66c2a5" fill-opacity="0.5"/>
<circle cx="279.0" cy="1366.9" r="4.3" fill="#66c2a5" fill-opacity="0.5"/>
<circle cx="236.9" cy="1349.7" r="4.3" fill="#66c2a5" fill-opacity="0.5"/>
<circle cx="254.9" cy="1236.8" r="4.3" fill="#66c2a5" fill-opacity="0.5"/>
<circle cx="280.3" cy="1383.1" r="4.3" fill="#66c2a5" fill-opacity="0.5"/>
<circle cx="242.8" cy="1321.2" r="4.3" fill="#66c2a5" fill-opacity="0.5"/>
<circle cx="286.2" cy="1353.5" r="4.3" fill="#66c2a5" fill-opacity="0.5"/>
<circle cx="275.9" cy="1331.1" r="4.3" fill="#66c2a5" fill-opacity="0.5"/>
<circle cx="254.7" cy="1183.3" r="4.3" fill="#66c2a5" fill-opacity="0.5"/>
<circle cx="246.7" cy="1392.3" r="4.3" fill="#66c2a5" fill-opacity="0.5"/>
<circle cx="263.0" cy="1304.5" r="4.3" fill="#66c2a5" fill-opacity="0.5"/>
<circle cx="262.8" cy="1288.0" r="4.3" fill="#66c2a5" fill-opacity="0.5"/>
<circle cx="270.8" cy="1233.5" r="4.3" fill="#66c2a5" fill-opacity="0.5"/>
<circle cx="237.4" cy="1419.5" r="4.3" fill="#66c2a5" fill-opacity="0.5"/>
<circle cx="242.3" cy="1203.8" r="4.3" fill="#66c2a5" fill-opacity="0.5"/>
<circle cx="239.7" cy="1274.6" r="4.3" fill="#66c2a5" fill-opacity="0.5"/>
<circle cx="250.2" cy="1231.7" r="4.3" fill="#66c2a5" fill-opacity="0.5"/>
<circle cx="239.8" cy="1304.5" r="4.3" fill="#66c2a5" fill-opacity="0.5"/>
<circle cx="302.7" cy="1453.5" r="4.3" fill="#66c2a5" fill-opacity="0.5"/>
<circle cx="304.9" cy="1363.8" r="4.3" fill="#66c2a5" fill-opacity="0.5"/>
<circle cx="281.3" cy="1238.2" r="4.3" fill="#66c2a5" fill-opacity="0.5"/>
<circle cx="261.3" cy="1307.4" r="4.3" fill="#66c2a5" fill-opacity="0.5"/>
<circle cx="260.9" cy="1314.4" r="4.3" fill="#66c2a5" fill-opacity="0.5"/>
<circle cx="285.6" cy="1125.3" r="4.3" fill="#66c2a5" fill-opacity="0.5"/>
<circle cx="278.5" cy="1313.5" r="4.3" fill="#66c2a5" fill-opacity="0.5"/>
<circle cx="267.1" cy="1485.6" r="4.3" fill="#66c2a5" fill-opacity="0.5"/>
<circle cx="271.2" cy="1490.6" r="4.3" fill="#66c2a5" fill-opacity="0.5"/>
<circle cx="302.5" cy="1232.5" r="4.3" fill="#66c2a5" fill-opacity="0.5"/>
<circle cx="295.3" cy="1332.0" r="4.3" fill="#66c2a5" fill-opacity="0.5"/>
<circle cx="295.5" cy="1262.7" r="4.3" fill="#66c2a5" fill-opacity="0.5"/>
<circle cx="291.1" cy="1267.9" r="4.3" fill="#66c2a5" fill-opacity="0.5"/>
<circle cx="243.5" cy="1317.8" r="4.3" fill="#66c2a5" fill-opacity="0.5"/>
<circle cx="288.9" cy="1254.0" r="4.3" fill="#66c2a5" fill-opacity="0.5"/>
<circle cx="254.1" cy="1298.0" r="4.3" fill="#66c2a5" fill-opacity="0.5"/>
<circle cx="291.1" cy="1443.8" r="4.3" fill="#66c2a5" fill-opacity="0.5"/>
<circle cx="263.0" cy="1292.4" r="4.3" fill="#66c2a5" fill-opacity="0.5"/>
<circle cx="293.6" cy="1295.1" r="4.3" fill="#66c2a5" fill-opacity="0.5"/>
<circle cx="253.3" cy="1120.5" r="4.3" fill="#66c2a5" fill-opacity="0.5"/>
<circle cx="241.7" cy="1407.2" r="4.3" fill="#66c2a5" fill-opacity="0.5"/>
<circle cx="274.6" cy="1309.0" r="4.3" fill="#66c2a5" fill-opacity="0.5"/>
<circle cx="239.1" cy="1345.4" r="4.3" fill="#66c2a5" fill-opacity="0.5"/>
<circle cx="288.1" cy="1321.4" r="4.3" fill="#66c2a5" fill-opacity="0.5"/>
<circle cx="241.1" cy="1140.7" r="4.3" fill="#66c2a5" fill-opacity="0.5"/>
<circle cx="266.8" cy="1279.2" r="4.3" fill="#66c2a5" fill-opacity="0.5"/>
<circle cx="297.5" cy="1348.7" r="4.3" fill="#66c2a5" fill-opacity="0.5"/>
<circle cx="305.5" cy="1297.7" r="4.3" fill="#66c2a5" fill-opacity="0.5"/>
<circle cx="291.2" cy="1244.2" r="4.3" fill="#66c2a5" fill-opacity="0.5"/>
<circle cx="249.4" cy="1395.0" r="4.3" fill="#66c2a5" fill-opacity="0.5"/>
<circle cx="260.8" cy="1332.2" r="4.3" fill="#66c2a5" fill-opacity="0.5"/>
<circle cx="279.8" cy="1154.2" r="4.3" fill="#66c2a5" fill-opacity="0.5"/>
<circle cx="251.6" cy="1233.8" r="4.3" fill="#66c2a5" fill-opacity="0.5"/>
<circle cx="274.3" cy="1314.1" r="4.3" fill="#66c2a5" fill-opacity="0.5"/>
<circle cx="269.6" cy="1349.8" r="4.3" fill="#66c2a5" fill-opacity="0.5"/>
<circle cx="280.7" cy="1323.1" r="4.3" fill="#66c2a5" fill-opacity="0.5"/>
<circle cx="268.6" cy="1445.5" r="4.3" fill="#66c2a5" fill-opacity="0.5"/>
<circle cx="306.4" cy="1223.7" r="4.3" fill="#66c2a5" fill-opacity="0.5"/>
<circle cx="238.7" cy="1282.3" r="4.3" fill="#66c2a5" fill-opacity="0.5"/>
<circle cx="292.5" cy="1299.0" r="4.3" fill="#66c2a5" fill-opacity="0.5"/>
<circle cx="288.1" cy="882.2" r="4.3" fill="#66c2a5" fill-opacity="0.5"/>
<circle cx="255.8" cy="930.3" r="4.3" fill="#66c2a5" fill-opacity="0.5"/>
<circle cx="244.0" cy="987.4" r="4.3" fill="#66c2a5" fill-opacity="0.5"/>
<circle cx="293.5" cy="987.4" r="4.3" fill="#66c2a5" fill-opacity="0.5"/>
<circle cx="261.5" cy="1015.9" r="4.3" fill="#66c2a5" fill-opacity="0.5"/>
<circle cx="275.1" cy="1015.9" r="4.3" fill="#66c2a5" fill-opacity="0.5"/>
<circle cx="297.5" cy="1029.8" r="4.3" fill="#66c2a5" fill-opacity="0.5"/>
<circle cx="259.5" cy="1090.8" r="4.3" fill="#66c2a5" fill-opacity="0.5"/>
<circle cx="293.5" cy="1103.4" r="4.3" fill="#66c2a5" fill-opacity="0.5"/>
<circle cx="302.5" cy="1113.0" r="4.3" fill="#66c2a5" fill-opacity="0.5"/>
<circle cx="439.0" cy="1319.9" r="4.3" fill="#fc8d62" fill-opacity="0.5"/>
<circle cx="449.2" cy="1482.1" r="4.3" fill="#fc8d62" fill-opacity="0.5"/>
<circle cx="460.9" cy="1335.7" r="4.3" fill="#fc8d62" fill-opacity="0.5"/>
<circle cx="472.2" cy="1265.5" r="4.3" fill="#fc8d62" fill-opacity="0.5"/>
<circle cx="451.0" cy="1346.6" r="4.3" fill="#fc8d62" fill-opacity="0.5"/>
<circle cx="452.2" cy="1398.5" r="4.3" fill="#fc8d62" fill-opacity="0.5"/>
<circle cx="465.1" cy="1162.3" r="4.3" fill="#fc8d62" fill-opacity="0.5"/>
<circle cx="431.4" cy="1262.6" r="4.3" fill="#fc8d62" fill-opacity="0.5"/>
<circle cx="454.7" cy="1346.0" r="4.3" fill="#fc8d62" fill-opacity="0.5"/>
<circle cx="452.0" cy="1302.1" r="4.3" fill="#fc8d62" fill-opacity="0.5"/>
<circle cx="468.1" cy="1264.0" r="4.3" fill="#fc8d62" fill-opacity="0.5"/>
<circle cx="475.1" cy="1459.0" r="4.3" fill="#fc8d62" fill-opacity="0.5"/>
<circle cx="432.9" cy="1310.4" r="4.3" fill="#fc8d62" fill-opacity="0.5"/>
<circle cx="432.6" cy="1270.6" r="4.3" fill="#fc8d62" fill-opacity="0.5"/>
<circle cx="436.2" cy="1200.3" r="4.3" fill="#fc8d62" fill-opacity="0.5"/>
<circle cx="446.8" cy="1230.3" r="4.3" fill="#fc8d62" fill-opacity="0.5"/>
<circle cx="460.3" cy="1416.5" r="4.3" fill="#fc8d62" fill-opacity="0.5"/>
<circle cx="432.8" cy="1409.0" r="4.3" fill="#fc8d62" fill-opacity="0.5"/>
<circle cx="471.6" cy="1341.4" r="4.3" fill="#fc8d62" fill-opacity="0.5"/>
<circle cx="421.2" cy="1330.6" r="4.3" fill="#fc8d62" fill-opacity="0.5"/>
<circle cx="468.1" cy="1301.4" r="4.3" fill="#fc8d62" fill-opacity="0.5"/>
<circle cx="411.7" cy="1448.1" r="4.3" fill="#fc8d62" fill-opacity="0.5"/>
<circle cx="419.7" cy="1351.8" r="4.3" fill="#fc8d62" fill-opacity="0.5"/>
<circle cx="469.2" cy="1334.9" r="4.3" fill="#fc8d62" fill-opacity="0.5"/>
<circle cx="420.0" cy="1352.2" r="4.3" fill="#fc8d62" fill-opacity="0.5"/>
<circle cx="436.5" cy="1294.2" r="4.3" fill="#fc8d62" fill-opacity="0.5"/>
<circle cx="444.6" cy="1340.2" r="4.3" fill="#fc8d62" fill-opacity="0.5"/>
<circle cx="438.0" cy="1293.5" r="4.3" fill="#fc8d62" fill-opacity="0.5"/>
<circle cx="450.4" cy="1304.4" r="4.3" fill="#fc8d62" fill-opacity="0.5"/>
<circle cx="456.1" cy="1350.8" r="4.3" fill="#fc8d62" fill-opacity="0.5"/>
<circle cx="436.2" cy="1346.2" r="4.3" fill="#fc8d62" fill-opacity="0.5"/>
<circle cx="463.3" cy="1207.0" r="4.3" fill="#fc8d62" fill-opacity="0.5"/>
<circle cx="471.8" cy="1419.9" r="4.3" fill="#fc8d62" fill-opacity="0.5"/>
<circle cx="440.6" cy="1400.3" r="4.3" fill="#fc8d62" fill-opacity="0.5"/>
<circle cx="443.0" cy="1317.4" r="4.3" fill="#fc8d62" fill-opacity="0.5"/>
<circle cx="419.0" cy="1227.1" r="4.3" fill="#fc8d62" fill-opacity="0.5"/>
<circle cx="452.3" cy="1341.9" r="4.3" fill="#fc8d62" fill-opacity="0.5"/>
<circle cx="464.8" cy="1414.1" r="4.3" fill="#fc8d62" fill-opacity="0.5"/>
<circle cx="450.2" cy="1326.7" r="4.3" fill="#fc8d62" fill-opacity="0.5"/>
<circle cx="448.9" cy="1427.6" r="4.3" fill="#fc8d62" fill-opacity="0.5"/>
<circle cx="433.5" cy="1417.1" r="4.3" fill="#fc8d62" fill-opacity="0.5"/>
<circle cx="443.0" cy="1296.8" r="4.3" fill="#fc8d62" fill-opacity="0.5"/>
<circle cx="474.6" cy="1405.7" r="4.3" fill="#fc8d62" fill-opacity="0.5"/>
<circle cx="458.4" cy="1286.6" r="4.3" fill="#fc8d62" fill-opacity="0.5"/>
<circle cx="443.0" cy="1269.2" r="4.3" fill="#fc8d62" fill-opacity="0.5"/>
<circle cx="465.0" cy="1329.7" r="4.3" fill="#fc8d62" fill-opacity="0.5"/>
<circle cx="461.2" cy="1368.6" r="4.3" fill="#fc8d62" fill-opacity="0.5"/>
<circle cx="431.6" cy="1289.6" r="4.3" fill="#fc8d62" fill-opacity="0.5"/>
<circle cx="411.3" cy="1424.1" r="4.3" fill="#fc8d62" fill-opacity="0.5"/>
<circle cx="408.4" cy="1298.5" r="4.3" fill="#fc8d62" fill-opacity="0.5"/>
<circle cx="409.4" cy="1241.9" r="4.3" fill="#fc8d62" fill-opacity="0.5"/>
<circle cx="456.7" cy="1315.5" r="4.3" fill="#fc8d62" fill-opacity="0.5"/>
<circle cx="453.2" cy="1313.1" r="4.3" fill="#fc8d62" fill-opacity="0.5"/>
<circle cx="462.2" cy="1388.4" r="4.3" fill="#fc8d62" fill-opacity="0.5"/>
<circle cx="464.4" cy="1414.6" r="4.3" fill="#fc8d62" fill-opacity="0.5"/>
<circle cx="435.4" cy="1309.4" r="4.3" fill="#fc8d62" fill-opacity="0.5"/>
<circle cx="427.7" cy="1418.3" r="4.3" fill="#fc8d62" fill-opacity="0.5"/>
<circle cx="441.9" cy="1459.0" r="4.3" fill="#fc8d62" fill-opacity="0.5"/>
<circle cx="471.1" cy="1377.3" r="4.3" fill="#fc8d62" fill-opacity="0.5"/>
<circle cx="472.8" cy="1338.8" r="4.3" fill="#fc8d62" fill-opacity="0.5"/>
<circle cx="429.9" cy="1273.5" r="4.3" fill="#fc8d62" fill-opacity="0.5"/>
<circle cx="461.0" cy="1338.1" r="4.3" fill="#fc8d62" fill-opacity="0.5"/>
<circle cx="408.0" cy="1385.5" r="4.3" fill="#fc8d62" fill-opacity="0.5"/>
<circle cx="407.0" cy="1309.1" r="4.3" fill="#fc8d62" fill-opacity="0.5"/>
<circle cx="466.4" cy="1336.4" r="4.3" fill="#fc8d62" fill-opacity="0.5"/>
<circle cx="410.1" cy="1294.8" r="4.3" fill="#fc8d62" fill-opacity="0.5"/>
<circle cx="418.0" cy="1376.5" r="4.3" fill="#fc8d62" fill-opacity="0.5"/>
<circle cx="450.2" cy="1346.9" r="4.3" fill="#fc8d62" fill-opacity="0.5"/>
<circle cx="416.5" cy="1292.7" r="4.3" fill="#fc8d62" fill-opacity="0.5"/>
<circle cx="473.9" cy="1328.0" r="4.3" fill="#fc8d62" fill-opacity="0.5"/>
<circle cx="448.9" cy="1462.6" r="4.3" fill="#fc8d62" fill-opacity="0.5"/>
<circle cx="423.1" cy="1417.1" r="4.3" fill="#fc8d62" fill-opacity="0.5"/>
<circle cx="461.6" cy="1273.9" r="4.3" fill="#fc8d62" fill-opacity="0.5"/>
<circle cx="475.3" cy="1328.4" r="4.3" fill="#fc8d62" fill-opacity="0.5"/>
<circle cx="475.9" cy="1286.8" r="4.3" fill="#fc8d62" fill-opacity="0.5"/>
<circle cx="416.8" cy="1352.1" r="4.3" fill="#fc8d62" fill-opacity="0.5"/>
<circle cx="409.8" cy="1339.4" r="4.3" fill="#fc8d62" fill-opacity="0.5"/>
<circle cx="436.0" cy="1209.1" r="4.3" fill="#fc8d62" fill-opacity="0.5"/>
<circle cx="439.4" cy="1205.1" r="4.3" fill="#fc8d62" fill-opacity="0.5"/>
<circle cx="415.6" cy="1336.6" r="4.3" fill="#fc8d62" fill-opacity="0.5"/>
<circle cx="419.2" cy="1299.9" r="4.3" fill="#fc8d62" fill-opacity="0.5"/>
<circle cx="464.9" cy="1270.5" r="4.3" fill="#fc8d62" fill-opacity="0.5"/>
<circle cx="427.1" cy="1299.6" r="4.3" fill="#fc8d62" fill-opacity="0.5"/>
<circle cx="463.7" cy="1185.5" r="4.3" fill="#fc8d62" fill-opacity="0.5"/>
<circle cx="454.0" cy="1303.2" r="4.3" fill="#fc8d62" fill-opacity="0.5"/>
<circle cx="407.4" cy="1350.2" r="4.3" fill="#fc8d62" fill-opacity="0.5"/>
<circle cx="412.1" cy="1308.9" r="4.3" fill="#fc8d62" fill-opacity="0.5"/>
<circle cx="442.4" cy="1313.2" r="4.3" fill="#fc8d62" fill-opacity="0.5"/>
<circle cx="419.5" cy="1305.4" r="4.3" fill="#fc8d62" fill-opacity="0.5"/>
<circle cx="436.1" cy="1260.9" r="4.3" fill="#fc8d62" fill-opacity="0.5"/>
<circle cx="411.4" cy="1314.2" r="4.3" fill="#fc8d62" fill-opacity="0.5"/>
<circle cx="424.4" cy="1303.6" r="4.3" fill="#fc8d62" fill-opacity="0.5"/>
<circle cx="444.8" cy="1345.6" r="4.3" fill="#fc8d62" fill-opacity="0.5"/>
<circle cx="454.9" cy="1326.5" r="4.3" fill="#fc8d62" fill-opacity="0.5"/>
<circle cx="418.1" cy="1259.8" r="4.3" fill="#fc8d62" fill-opacity="0.5"/>
<circle cx="416.7" cy="1233.8" r="4.3" fill="#fc8d62" fill-opacity="0.5"/>
<circle cx="473.5" cy="1359.9" r="4.3" fill="#fc8d62" fill-opacity="0.5"/>
<circle cx="440.5" cy="1191.8" r="4.3" fill="#fc8d62" fill-opacity="0.5"/>
<circle cx="465.2" cy="1305.7" r="4.3" fill="#fc8d62" fill-opacity="0.5"/>
<circle cx="413.8" cy="1273.3" r="4.3" fill="#fc8d62" fill-opacity="0.5"/>
<circle cx="417.3" cy="1324.3" r="4.3" fill="#fc8d62" fill-opacity="0.5"/>
<circle cx="437.9" cy="1319.3" r="4.3" fill="#fc8d62" fill-opacity="0.5"/>
<circle cx="474.7" cy="1320.0" r="4.3" fill="#fc8d62" fill-opacity="0.5"/>
<circle cx="457.2" cy="1298.6" r="4.3" fill="#fc8d62" fill-opacity="0.5"/>
<circle cx="407.6" cy="1339.8" r="4.3" fill="#fc8d62" fill-opacity="0.5"/>
<circle cx="447.6" cy="1297.7" r="4.3" fill="#fc8d62" fill-opacity="0.5"/>
<circle cx="463.7" cy="1302.8" r="4.3" fill="#fc8d62" fill-opacity="0.5"/>
<circle cx="465.7" cy="1360.6" r="4.3" fill="#fc8d62" fill-opacity="0.5"/>
<circle cx="435.5" cy="1334.4" r="4.3" fill="#fc8d62" fill-opacity="0.5"/>
<circle cx="457.9" cy="1366.7" r="4.3" fill="#fc8d62" fill-opacity="0.5"/>
<circle cx="415.9" cy="1295.6" r="4.3" fill="#fc8d62" fill-opacity="0.5"/>
<circle cx="419.9" cy="1280.9" r="4.3" fill="#fc8d62" fill-opacity="0.5"/>
<circle cx="456.3" cy="1248.6" r="4.3" fill="#fc8d62" fill-opacity="0.5"/>
<circle cx="471.9" cy="1339.6" r="4.3" fill="#fc8d62" fill-opacity="0.5"/>
<circle cx="471.8" cy="1301.8" r="4.3" fill="#fc8d62" fill-opacity="0.5"/>
<circle cx="409.7" cy="1293.3" r="4.3" fill="#fc8d62" fill-opacity="0.5"/>
<circle cx="431.2" cy="1262.4" r="4.3" fill="#fc8d62" fill-opacity="0.5"/>
<circle cx="414.6" cy="1301.7" r="4.3" fill="#fc8d62" fill-opacity="0.5"/>
<circle cx="411.0" cy="1420.9" r="4.3" fill="#fc8d62" fill-opacity="0.5"/>
<circle cx="410.8" cy="1292.0" r="4.3" fill="#fc8d62" fill-opacity="0.5"/>
<circle cx="437.2" cy="1199.9" r="4.3" fill="#fc8d62" fill-opacity="0.5"/>
<circle cx="448.7" cy="1303.5" r="4.3" fill="#fc8d62" fill-opacity="0.5"/>
<circle cx="460.4" cy="1320.7" r="4.3" fill="#fc8d62" fill-opacity="0.5"/>
<circle cx="451.1" cy="1436.5" r="4.3" fill="#fc8d62" fill-opacity="0.5"/>
<circle cx="451.9" cy="1334.6" r="4.3" fill="#fc8d62" fill-opacity="0.5"/>
<circle cx="429.3" cy="1378.7" r="4.3" fill="#fc8d62" fill-opacity="0.5"/>
<circle cx="441.3" cy="1279.0" r="4.3" fill="#fc8d62" fill-opacity="0.5"/>
<circle cx="435.9" cy="1261.7" r="4.3" fill="#fc8d62" fill-opacity="0.5"/>
<circle cx="446.6" cy="1252.2" r="4.3" fill="#fc8d62" fill-opacity="0.5"/>
<circle cx="441.9" cy="1392.9" r="4.3" fill="#fc8d62" fill-opacity="0.5"/>
<circle cx="456.7" cy="1335.6" r="4.3" fill="#fc8d62" fill-opacity="0.5"/>
<circle cx="410.6" cy="1397.8" r="4.3" fill="#fc8d62" fill-opacity="0.5"/>
<circle cx="427.0" cy="1363.3" r="4.3" fill="#fc8d62" fill-opacity="0.5"/>
<circle cx="427.8" cy="1244.3" r="4.3" fill="#fc8d62" fill-opacity="0.5"/>
<circle cx="427.9" cy="1457.6" r="4.3" fill="#fc8d62" fill-opacity="0.5"/>
<circle cx="420.7" cy="1249.7" r="4.3" fill="#fc8d62" fill-opacity="0.5"/>
<circle cx="427.7" cy="1187.8" r="4.3" fill="#fc8d62" fill-opacity="0.5"/>
<circle cx="435.5" cy="1248.0" r="4.3" fill="#fc8d62" fill-opacity="0.5"/>
<circle cx="406.5" cy="1191.7" r="4.3" fill="#fc8d62" fill-opacity="0.5"/>
<circle cx="441.4" cy="1339.2" r="4.3" fill="#fc8d62" fill-opacity="0.5"/>
<circle cx="434.0" cy="971.2" r="4.3" fill="#fc8d62" fill-opacity="0.5"/>
<circle cx="426.0" cy="1059.2" r="4.3" fill="#fc8d62" fill-opacity="0.5"/>
<circle cx="473.5" cy="1092.0" r="4.3" fill="#fc8d62" fill-opacity="0.5"/>
<circle cx="434.0" cy="1122.9" r="4.3" fill="#fc8d62" fill-opacity="0.5"/>
<circle cx="433.0" cy="1152.7" r="4.3" fill="#fc8d62" fill-opacity="0.5"/>
<circle cx="615.6" cy="1388.1" r="4.3" fill="#8da0cb" fill-opacity="0.5"/>
<circle cx="624.9" cy="1502.2" r="4.3" fill="#8da0cb" fill-opacity="0.5"/>
<circle cx="624.2" cy="1396.5" r="4.3" fill="#8da0cb" fill-opacity="0.5"/>
<circle cx="587.4" cy="1399.5" r="4.3" fill="#8da0cb" fill-opacity="0.5"/>
<circle cx="581.2" cy="1482.2" r="4.3" fill="#8da0cb" fill-opacity="0.5"/>
<circle cx="640.1" cy="1403.4" r="4.3" fill="#8da0cb" fill-opacity="0.5"/>
<circle cx="628.2" cy="1450.9" r="4.3" fill="#8da0cb" fill-opacity="0.5"/>
<circle cx="584.3" cy="1381.7" r="4.3" fill="#8da0cb" fill-opacity="0.5"/>
<circle cx="614.5" cy="1459.8" r="4.3" fill="#8da0cb" fill-opacity="0.5"/>
<circle cx="591.3" cy="1375.1" r="4.3" fill="#8da0cb" fill-opacity="0.5"/>
<circle cx="645.5" cy="1359.6" r="4.3" fill="#8da0cb" fill-opacity="0.5"/>
<circle cx="606.3" cy="1462.1" r="4.3" fill="#8da0cb" fill-opacity="0.5"/>
<circle cx="604.1" cy="1422.2" r="4.3" fill="#8da0cb" fill-opacity="0.5"/>
<circle cx="609.5" cy="1444.9" r="4.3" fill="#8da0cb" fill-opacity="0.5"/>
<circle cx="638.4" cy="1443.6" r="4.3" fill="#8da0cb" fill-opacity="0.5"/>
<circle cx="579.3" cy="1453.8" r="4.3" fill="#8da0cb" fill-opacity="0.5"/>
<circle cx="611.9" cy="1341.1" r="4.3" fill="#8da0cb" fill-opacity="0.5"/>
<circle cx="620.1" cy="1284.3" r="4.3" fill="#8da0cb" fill-opacity="0.5"/>
<circle cx="627.1" cy="1292.1" r="4.3" fill="#8da0cb" fill-opacity="0.5"/>
<circle cx="641.5" cy="1429.7" r="4.3" fill="#8da0cb" fill-opacity="0.5"/>
<circle cx="644.4" cy="1399.9" r="4.3" fill="#8da0cb" fill-opacity="0.5"/>
<circle cx="637.3" cy="1357.4" r="4.3" fill="#8da0cb" fill-opacity="0.5"/>
<circle cx="576.5" cy="1371.4" r="4.3" fill="#8da0cb" fill-opacity="0.5"/>
<circle cx="615.6" cy="1405.3" r="4.3" fill="#8da0cb" fill-opacity="0.5"/>
<circle cx="614.2" cy="1362.0" r="4.3" fill="#8da0cb" fill-opacity="0.5"/>
<circle cx="581.4" cy="1369.1" r="4.3" fill="#8da0cb" fill-opacity="0.5"/>
<circle cx="621.2" cy="1357.7" r="4.3" fill="#8da0cb" fill-opacity="0.5"/>
<circle cx="632.1" cy="1387.9" r="4.3" fill="#8da0cb" fill-opacity="0.5"/>
<circle cx="642.5" cy="1361.6" r="4.3" fill="#8da0cb" fill-opacity="0.5"/>
<circle cx="639.5" cy="1475.7" r="4.3" fill="#8da0cb" fill-opacity="0.5"/>
<circle cx="644.5" cy="1349.6" r="4.3" fill="#8da0cb" fill-opacity="0.5"/>
<circle cx="621.3" cy="1392.9" r="4.3" fill="#8da0cb" fill-opacity="0.5"/>
<circle cx="624.6" cy="1375.9" r="4.3" fill="#8da0cb" fill-opacity="0.5"/>
<circle cx="591.1" cy="1421.1" r="4.3" fill="#8da0cb" fill-opacity="0.5"/>
<circle cx="597.7" cy="1354.1" r="4.3" fill="#8da0cb" fill-opacity="0.5"/>
<circle cx="628.4" cy="1358.5" r="4.3" fill="#8da0cb" fill-opacity="0.5"/>
<circle cx="630.9" cy="1431.7" r="4.3" fill="#8da0cb" fill-opacity="0.5"/>
<circle cx="605.7" cy="1385.2" r="4.3" fill="#8da0cb" fill-opacity="0.5"/>
<circle cx="610.0" cy="1360.8" r="4.3" fill="#8da0cb" fill-opacity="0.5"/>
<circle cx="612.3" cy="1286.1" r="4.3" fill="#8da0cb" fill-opacity="0.5"/>
<circle cx="630.2" cy="1318.1" r="4.3" fill="#8da0cb" fill-opacity="0.5"/>
<circle cx="592.6" cy="1408.0" r="4.3" fill="#8da0cb" fill-opacity="0.5"/>
<circle cx="619.5" cy="1374.0" r="4.3" fill="#8da0cb" fill-opacity="0.5"/>
<circle cx="644.6" cy="1435.2" r="4.3" fill="#8da0cb" fill-opacity="0.5"/>
<circle cx="601.7" cy="1396.9" r="4.3" fill="#8da0cb" fill-opacity="0.5"/>
<circle cx="576.7" cy="1272.5" r="4.3" fill="#8da0cb" fill-opacity="0.5"/>
<circle cx="611.0" cy="1376.5" r="4.3" fill="#8da0cb" fill-opacity="0.5"/>
<circle cx="637.9" cy="1394.2" r="4.3" fill="#8da0cb" fill-opacity="0.5"/>
<circle cx="642.6" cy="1365.7" r="4.3" fill="#8da0cb" fill-opacity="0.5"/>
<circle cx="619.1" cy="1397.1" r="4.3" fill="#8da0cb" fill-opacity="0.5"/>
<circle cx="586.2" cy="1452.8" r="4.3" fill="#8da0cb" fill-opacity="0.5"/>
<circle cx="645.1" cy="1369.7" r="4.3" fill="#8da0cb" fill-opacity="0.5"/>
<circle cx="617.4" cy="1410.7" r="4.3" fill="#8da0cb" fill-opacity="0.5"/>
<circle cx="612.7" cy="1302.1" r="4.3" fill="#8da0cb" fill-opacity="0.5"/>
<circle cx="642.9" cy="1421.9" r="4.3" fill="#8da0cb" fill-opacity="0.5"/>
<circle cx="598.5" cy="1357.0" r="4.3" fill="#8da0cb" fill-opacity="0.5"/>
<circle cx="609.9" cy="1420.6" r="4.3" fill="#8da0cb" fill-opacity="0.5"/>
<circle cx="596.3" cy="1393.5" r="4.3" fill="#8da0cb" fill-opacity="0.5"/>
<circle cx="644.5" cy="1327.1" r="4.3" fill="#8da0cb" fill-opacity="0.5"/>
<circle cx="624.3" cy="1296.6" r="4.3" fill="#8da0cb" fill-opacity="0.5"/>
<circle cx="624.7" cy="1369.5" r="4.3" fill="#8da0cb" fill-opacity="0.5"/>
<circle cx="621.2" cy="1397.7" r="4.3" fill="#8da0cb" fill-opacity="0.5"/>
<circle cx="615.1" cy="1426.4" r="4.3" fill="#8da0cb" fill-opacity="0.5"/>
<circle cx="620.8" cy="1396.4" r="4.3" fill="#8da0cb" fill-opacity="0.5"/>
<circle cx="584.3" cy="1340.6" r="4.3" fill="#8da0cb" fill-opacity="0.5"/>
<circle cx="595.2" cy="1393.2" r="4.3" fill="#8da0cb" fill-opacity="0.5"/>
<circle cx="613.9" cy="1469.0" r="4.3" fill="#8da0cb" fill-opacity="0.5"/>
<circle cx="577.5" cy="1250.6" r="4.3" fill="#8da0cb" fill-opacity="0.5"/>
<circle cx="619.0" cy="1350.4" r="4.3" fill="#8da0cb" fill-opacity="0.5"/>
<circle cx="614.4" cy="1418.6" r="4.3" fill="#8da0cb" fill-opacity="0.5"/>
<circle cx="601.7" cy="1388.9" r="4.3" fill="#8da0cb" fill-opacity="0.5"/>
<circle cx="594.5" cy="1407.9" r="4.3" fill="#8da0cb" fill-opacity="0.5"/>
<circle cx="617.6" cy="1313.6" r="4.3" fill="#8da0cb" fill-opacity="0.5"/>
<circle cx="634.7" cy="1262.0" r="4.3" fill="#8da0cb" fill-opacity="0.5"/>
<circle cx="619.5" cy="1430.6" r="4.3" fill="#8da0cb" fill-opacity="0.5"/>
<circle cx="603.9" cy="1290.3" r="4.3" fill="#8da0cb" fill-opacity="0.5"/>
<circle cx="629.3" cy="1389.1" r="4.3" fill="#8da0cb" fill-opacity="0.5"/>
<circle cx="626.5" cy="1438.2" r="4.3" fill="#8da0cb" fill-opacity="0.5"/>
<circle cx="644.8" cy="1356.8" r="4.3" fill="#8da0cb" fill-opacity="0.5"/>
<circle cx="591.4" cy="1387.8" r="4.3" fill="#8da0cb" fill-opacity="0.5"/>
<circle cx="605.4" cy="1358.9" r="4.3" fill="#8da0cb" fill-opacity="0.5"/>
<circle cx="644.4" cy="1481.5" r="4.3" fill="#8da0cb" fill-opacity="0.5"/>
<circle cx="640.5" cy="1335.3" r="4.3" fill="#8da0cb" fill-opacity="0.5"/>
<circle cx="577.4" cy="1381.3" r="4.3" fill="#8da0cb" fill-opacity="0.5"/>
<circle cx="588.5" cy="1401.1" r="4.3" fill="#8da0cb" fill-opacity="0.5"/>
<circle cx="638.0" cy="1302.2" r="4.3" fill="#8da0cb" fill-opacity="0.5"/>
<circle cx="577.4" cy="1418.1" r="4.3" fill="#8da0cb" fill-opacity="0.5"/>
<circle cx="625.0" cy="1407.8" r="4.3" fill="#8da0cb" fill-opacity="0.5"/>
<circle cx="606.2" cy="1309.0" r="4.3" fill="#8da0cb" fill-opacity="0.5"/>
<circle cx="632.7" cy="1470.6" r="4.3" fill="#8da0cb" fill-opacity="0.5"/>
<circle cx="612.6" cy="1405.1" r="4.3" fill="#8da0cb" fill-opacity="0.5"/>
<circle cx="627.8" cy="1459.2" r="4.3" fill="#8da0cb" fill-opacity="0.5"/>
<circle cx="643.1" cy="1433.5" r="4.3" fill="#8da0cb" fill-opacity="0.5"/>
<circle cx="639.6" cy="1419.3" r="4.3" fill="#8da0cb" fill-opacity="0.5"/>
<circle cx="624.3" cy="1360.9" r="4.3" fill="#8da0cb" fill-opacity="0.5"/>
<circle cx="618.9" cy="1406.8" r="4.3" fill="#8da0cb" fill-opacity="0.5"/>
<circle cx="602.5" cy="1095.6" r="4.3" fill="#8da0cb" fill-opacity="0.5"/>
<circle cx="589.0" cy="1200.7" r="4.3" fill="#8da0cb" fill-opacity="0.5"/>
<circle cx="587.0" cy="1213.7" r="4.3" fill="#8da0cb" fill-opacity="0.5"/>
<circle cx="632.5" cy="1192.3" r="4.3" fill="#8da0cb" fill-opacity="0.5"/>
</g>
<g stroke="#66c2a5" stroke-width="3.6" fill="none">
<line x1="271.5" y1="1089.6" x2="271.5" y2="1254.8"/>
<line x1="271.5" y1="1366.0" x2="271.5" y2="1495.2"/>
<rect x="237.2" y="1254.8" width="68.5" height="111.2"/>
<line x1="237.2" y1="1310.4" x2="305.8" y2="1310.4"/>
</g>
<g stroke="#fc8d62" stroke-width="3.6" fill="none">
<line x1="441" y1="1160.2" x2="441" y2="1289.4"/>
<line x1="441" y1="1378.0" x2="441" y2="1501.2"/>
<rect x="406.8" y="1289.4" width="68.5" height="88.6"/>
<line x1="406.8" y1="1324.0" x2="475.2" y2="1324.0"/>
</g>
<g stroke="#8da0cb" stroke-width="3.6" fill="none">
<line x1="610.5" y1="1238.3" x2="610.5" y2="1348.0"/>
<line x1="610.5" y1="1423.1" x2="610.5" y2="1511.8"/>
<rect x="576.2" y="1348.0" width="68.5" height="75.1"/>
<line x1="576.2" y1="1390.1" x2="644.8" y2="1390.1"/>
</g>
<g stroke="#000" stroke-width="3.5" fill="none">
<path d="M136,872 L136,1531 L747,1531"/>
<line x1="129" y1="1474.2" x2="136" y2="1474.2"/>
<line x1="129" y1="1414.1" x2="136" y2="1414.1"/>
<line x1="129" y1="1354.0" x2="136" y2="1354.0"/>
<line x1="129" y1="1293.9" x2="136" y2="1293.9"/>
<line x1="129" y1="1233.8" x2="136" y2="1233.8"/>
<line x1="129" y1="1173.7" x2="136" y2="1173.7"/>
<line x1="129" y1="1113.6" x2="136" y2="1113.6"/>
<line x1="129" y1="1053.5" x2="136" y2="1053.5"/>
<line x1="129" y1="993.4" x2="136" y2="993.4"/>
<line x1="129" y1="933.3" x2="136" y2="933.3"/>
<line x1="129" y1="873.2" x2="136" y2="873.2"/>
<line x1="271.5" y1="1531" x2="271.5" y2="1538"/>
<line x1="441" y1="1531" x2="441" y2="1538"/>
<line x1="610.5" y1="1531" x2="610.5" y2="1538"/>
</g>
<g font-family='"Liberation Sans", sans-serif' font-size="27.5" fill="#000" text-anchor="end">
<text x="124" y="1483.1">60</text>
<text x="124" y="1423.0">80</text>
<text x="124" y="1362.9">100</text>
<text x="124" y="1302.8">120</text>
<text x="124" y="1242.7">140</text>
<text x="124" y="1182.6">160</text>
<text x="124" y="1122.5">180</text>
<text x="124" y="1062.4">200</text>
<text x="124" y="1002.3">220</text>
<text x="124" y="942.2">240</text>
<text x="124" y="882.1">260</text>
</g>
<g font-family='"Liberation Sans", sans-serif' font-size="28.2" font-weight="bold" fill="#000" text-anchor="middle">
<text x="271.5" y="1565">ACS</text>
<text x="441" y="1565">SAP</text>
<text x="610.5" y="1565">Control</text>
</g>
<path d="M441,1024.5 L441,1015.5 L610.5,1015.5 L610.5,1024.5" stroke="#000" stroke-width="3.4" fill="none"/>
<text x="522.35" y="1014.5" font-family='"Liberation Sans", sans-serif' font-size="20" text-anchor="middle" fill="#000" stroke="#000" stroke-width="0.5">***</text>
<path d="M271.5,1054.5 L271.5,1045.5 L610.5,1045.5 L610.5,1054.5" stroke="#000" stroke-width="3.4" fill="none"/>
<text x="437.6" y="1044.5" font-family='"Liberation Sans", sans-serif' font-size="20" text-anchor="middle" fill="#000" stroke="#000" stroke-width="0.5">***</text>
<text x="740" y="851" font-family='"Liberation Sans", sans-serif' font-size="52" fill="#000">(C)</text>
<text x="1141.5" y="861.5" font-family='"Liberation Sans", sans-serif' font-size="28.4" font-weight="bold">V/M<tspan font-weight="normal" font-size="29.4"> (mm</tspan><tspan font-weight="normal" font-size="17" dy="-8.5" dx="0.5">3</tspan><tspan font-weight="normal" font-size="29.4" dy="8.5">/g</tspan><tspan font-weight="normal" font-size="29.4" dx="0.4">)</tspan></text>
<g>
<circle cx="967.7" cy="1321.9" r="4.3" fill="#66c2a5" fill-opacity="0.5"/>
<circle cx="1010.8" cy="1350.6" r="4.3" fill="#66c2a5" fill-opacity="0.5"/>
<circle cx="963.3" cy="1346.7" r="4.3" fill="#66c2a5" fill-opacity="0.5"/>
<circle cx="1007.6" cy="1445.1" r="4.3" fill="#66c2a5" fill-opacity="0.5"/>
<circle cx="1012.3" cy="1423.7" r="4.3" fill="#66c2a5" fill-opacity="0.5"/>
<circle cx="1020.6" cy="1449.4" r="4.3" fill="#66c2a5" fill-opacity="0.5"/>
<circle cx="1003.0" cy="1370.2" r="4.3" fill="#66c2a5" fill-opacity="0.5"/>
<circle cx="1013.1" cy="1477.0" r="4.3" fill="#66c2a5" fill-opacity="0.5"/>
<circle cx="963.2" cy="1340.6" r="4.3" fill="#66c2a5" fill-opacity="0.5"/>
<circle cx="994.2" cy="1481.2" r="4.3" fill="#66c2a5" fill-opacity="0.5"/>
<circle cx="1008.9" cy="1315.5" r="4.3" fill="#66c2a5" fill-opacity="0.5"/>
<circle cx="1013.4" cy="1412.3" r="4.3" fill="#66c2a5" fill-opacity="0.5"/>
<circle cx="999.7" cy="1325.1" r="4.3" fill="#66c2a5" fill-opacity="0.5"/>
<circle cx="981.5" cy="1397.1" r="4.3" fill="#66c2a5" fill-opacity="0.5"/>
<circle cx="1012.1" cy="1460.5" r="4.3" fill="#66c2a5" fill-opacity="0.5"/>
<circle cx="1011.4" cy="1432.5" r="4.3" fill="#66c2a5" fill-opacity="0.5"/>
<circle cx="1000.0" cy="1347.6" r="4.3" fill="#66c2a5" fill-opacity="0.5"/>
<circle cx="959.9" cy="1417.9" r="4.3" fill="#66c2a5" fill-opacity="0.5"/>
<circle cx="997.8" cy="1411.8" r="4.3" fill="#66c2a5" fill-opacity="0.5"/>
<circle cx="991.0" cy="1447.2" r="4.3" fill="#66c2a5" fill-opacity="0.5"/>
<circle cx="1005.9" cy="1405.0" r="4.3" fill="#66c2a5" fill-opacity="0.5"/>
<circle cx="1011.0" cy="1372.4" r="4.3" fill="#66c2a5" fill-opacity="0.5"/>
<circle cx="1020.8" cy="1390.3" r="4.3" fill="#66c2a5" fill-opacity="0.5"/>
<circle cx="1028.5" cy="1388.4" r="4.3" fill="#66c2a5" fill-opacity="0.5"/>
<circle cx="1002.0" cy="1306.6" r="4.3" fill="#66c2a5" fill-opacity="0.5"/>
<circle cx="1022.2" cy="1409.4" r="4.3" fill="#66c2a5" fill-opacity="0.5"/>
<circle cx="997.7" cy="1409.5" r="4.3" fill="#66c2a5" fill-opacity="0.5"/>
<circle cx="961.6" cy="1404.3" r="4.3" fill="#66c2a5" fill-opacity="0.5"/>
<circle cx="972.1" cy="1358.7" r="4.3" fill="#66c2a5" fill-opacity="0.5"/>
<circle cx="987.4" cy="1391.6" r="4.3" fill="#66c2a5" fill-opacity="0.5"/>
<circle cx="1028.7" cy="1413.5" r="4.3" fill="#66c2a5" fill-opacity="0.5"/>
<circle cx="962.3" cy="1321.2" r="4.3" fill="#66c2a5" fill-opacity="0.5"/>
<circle cx="966.7" cy="1374.0" r="4.3" fill="#66c2a5" fill-opacity="0.5"/>
<circle cx="1016.2" cy="1411.5" r="4.3" fill="#66c2a5" fill-opacity="0.5"/>
<circle cx="1007.4" cy="1437.3" r="4.3" fill="#66c2a5" fill-opacity="0.5"/>
<circle cx="984.6" cy="1326.4" r="4.3" fill="#66c2a5" fill-opacity="0.5"/>
<circle cx="982.5" cy="1442.2" r="4.3" fill="#66c2a5" fill-opacity="0.5"/>
<circle cx="1002.9" cy="1394.8" r="4.3" fill="#66c2a5" fill-opacity="0.5"/>
<circle cx="1003.2" cy="1367.2" r="4.3" fill="#66c2a5" fill-opacity="0.5"/>
<circle cx="1001.6" cy="1333.5" r="4.3" fill="#66c2a5" fill-opacity="0.5"/>
<circle cx="997.7" cy="1414.2" r="4.3" fill="#66c2a5" fill-opacity="0.5"/>
<circle cx="994.8" cy="1309.2" r="4.3" fill="#66c2a5" fill-opacity="0.5"/>
<circle cx="982.8" cy="1341.0" r="4.3" fill="#66c2a5" fill-opacity="0.5"/>
<circle cx="1018.3" cy="1419.3" r="4.3" fill="#66c2a5" fill-opacity="0.5"/>
<circle cx="971.6" cy="1384.0" r="4.3" fill="#66c2a5" fill-opacity="0.5"/>
<circle cx="1002.7" cy="1416.4" r="4.3" fill="#66c2a5" fill-opacity="0.5"/>
<circle cx="1012.2" cy="1432.3" r="4.3" fill="#66c2a5" fill-opacity="0.5"/>
<circle cx="974.2" cy="1425.1" r="4.3" fill="#66c2a5" fill-opacity="0.5"/>
<circle cx="1003.4" cy="1371.0" r="4.3" fill="#66c2a5" fill-opacity="0.5"/>
<circle cx="1005.5" cy="1322.8" r="4.3" fill="#66c2a5" fill-opacity="0.5"/>
<circle cx="959.6" cy="1397.9" r="4.3" fill="#66c2a5" fill-opacity="0.5"/>
<circle cx="1004.8" cy="1403.0" r="4.3" fill="#66c2a5" fill-opacity="0.5"/>
<circle cx="990.3" cy="1371.7" r="4.3" fill="#66c2a5" fill-opacity="0.5"/>
<circle cx="1009.0" cy="1354.3" r="4.3" fill="#66c2a5" fill-opacity="0.5"/>
<circle cx="991.7" cy="1393.6" r="4.3" fill="#66c2a5" fill-opacity="0.5"/>
<circle cx="979.8" cy="1403.5" r="4.3" fill="#66c2a5" fill-opacity="0.5"/>
<circle cx="1019.1" cy="1473.3" r="4.3" fill="#66c2a5" fill-opacity="0.5"/>
<circle cx="997.7" cy="1425.9" r="4.3" fill="#66c2a5" fill-opacity="0.5"/>
<circle cx="1016.7" cy="1358.0" r="4.3" fill="#66c2a5" fill-opacity="0.5"/>
<circle cx="1019.6" cy="1419.8" r="4.3" fill="#66c2a5" fill-opacity="0.5"/>
<circle cx="971.8" cy="1364.8" r="4.3" fill="#66c2a5" fill-opacity="0.5"/>
<circle cx="1003.8" cy="1424.4" r="4.3" fill="#66c2a5" fill-opacity="0.5"/>
<circle cx="1006.7" cy="1476.9" r="4.3" fill="#66c2a5" fill-opacity="0.5"/>
<circle cx="1003.6" cy="1466.4" r="4.3" fill="#66c2a5" fill-opacity="0.5"/>
<circle cx="989.9" cy="1475.7" r="4.3" fill="#66c2a5" fill-opacity="0.5"/>
<circle cx="962.6" cy="1394.6" r="4.3" fill="#66c2a5" fill-opacity="0.5"/>
<circle cx="990.8" cy="1433.0" r="4.3" fill="#66c2a5" fill-opacity="0.5"/>
<circle cx="1013.4" cy="1423.5" r="4.3" fill="#66c2a5" fill-opacity="0.5"/>
<circle cx="994.3" cy="1382.2" r="4.3" fill="#66c2a5" fill-opacity="0.5"/>
<circle cx="993.9" cy="1388.9" r="4.3" fill="#66c2a5" fill-opacity="0.5"/>
<circle cx="1028.3" cy="1418.3" r="4.3" fill="#66c2a5" fill-opacity="0.5"/>
<circle cx="977.7" cy="1420.2" r="4.3" fill="#66c2a5" fill-opacity="0.5"/>
<circle cx="976.1" cy="1407.6" r="4.3" fill="#66c2a5" fill-opacity="0.5"/>
<circle cx="983.2" cy="1381.5" r="4.3" fill="#66c2a5" fill-opacity="0.5"/>
<circle cx="990.3" cy="1365.8" r="4.3" fill="#66c2a5" fill-opacity="0.5"/>
<circle cx="988.0" cy="1387.2" r="4.3" fill="#66c2a5" fill-opacity="0.5"/>
<circle cx="959.7" cy="1344.9" r="4.3" fill="#66c2a5" fill-opacity="0.5"/>
<circle cx="996.4" cy="1466.8" r="4.3" fill="#66c2a5" fill-opacity="0.5"/>
<circle cx="975.8" cy="1467.5" r="4.3" fill="#66c2a5" fill-opacity="0.5"/>
<circle cx="996.7" cy="1400.9" r="4.3" fill="#66c2a5" fill-opacity="0.5"/>
<circle cx="972.2" cy="1463.8" r="4.3" fill="#66c2a5" fill-opacity="0.5"/>
<circle cx="1009.0" cy="1382.3" r="4.3" fill="#66c2a5" fill-opacity="0.5"/>
<circle cx="998.5" cy="1373.8" r="4.3" fill="#66c2a5" fill-opacity="0.5"/>
<circle cx="1007.4" cy="1406.0" r="4.3" fill="#66c2a5" fill-opacity="0.5"/>
<circle cx="963.8" cy="1479.6" r="4.3" fill="#66c2a5" fill-opacity="0.5"/>
<circle cx="976.3" cy="1475.9" r="4.3" fill="#66c2a5" fill-opacity="0.5"/>
<circle cx="997.4" cy="1471.1" r="4.3" fill="#66c2a5" fill-opacity="0.5"/>
<circle cx="983.6" cy="1345.5" r="4.3" fill="#66c2a5" fill-opacity="0.5"/>
<circle cx="1003.6" cy="1385.2" r="4.3" fill="#66c2a5" fill-opacity="0.5"/>
<circle cx="1019.9" cy="1336.8" r="4.3" fill="#66c2a5" fill-opacity="0.5"/>
<circle cx="978.5" cy="1386.3" r="4.3" fill="#66c2a5" fill-opacity="0.5"/>
<circle cx="982.5" cy="1358.7" r="4.3" fill="#66c2a5" fill-opacity="0.5"/>
<circle cx="967.1" cy="1438.5" r="4.3" fill="#66c2a5" fill-opacity="0.5"/>
<circle cx="967.1" cy="1429.9" r="4.3" fill="#66c2a5" fill-opacity="0.5"/>
<circle cx="975.3" cy="1406.7" r="4.3" fill="#66c2a5" fill-opacity="0.5"/>
<circle cx="1013.9" cy="1386.8" r="4.3" fill="#66c2a5" fill-opacity="0.5"/>
<circle cx="1002.1" cy="1402.5" r="4.3" fill="#66c2a5" fill-opacity="0.5"/>
<circle cx="982.6" cy="1406.8" r="4.3" fill="#66c2a5" fill-opacity="0.5"/>
<circle cx="1005.6" cy="1368.3" r="4.3" fill="#66c2a5" fill-opacity="0.5"/>
<circle cx="996.0" cy="1418.0" r="4.3" fill="#66c2a5" fill-opacity="0.5"/>
<circle cx="1010.7" cy="1434.5" r="4.3" fill="#66c2a5" fill-opacity="0.5"/>
<circle cx="1015.6" cy="1462.6" r="4.3" fill="#66c2a5" fill-opacity="0.5"/>
<circle cx="995.7" cy="1450.0" r="4.3" fill="#66c2a5" fill-opacity="0.5"/>
<circle cx="983.6" cy="1466.3" r="4.3" fill="#66c2a5" fill-opacity="0.5"/>
<circle cx="1013.6" cy="1350.8" r="4.3" fill="#66c2a5" fill-opacity="0.5"/>
<circle cx="1022.4" cy="1461.5" r="4.3" fill="#66c2a5" fill-opacity="0.5"/>
<circle cx="965.2" cy="1324.3" r="4.3" fill="#66c2a5" fill-opacity="0.5"/>
<circle cx="975.0" cy="1442.5" r="4.3" fill="#66c2a5" fill-opacity="0.5"/>
<circle cx="1010.6" cy="1448.4" r="4.3" fill="#66c2a5" fill-opacity="0.5"/>
<circle cx="1019.2" cy="1466.0" r="4.3" fill="#66c2a5" fill-opacity="0.5"/>
<circle cx="965.7" cy="1459.3" r="4.3" fill="#66c2a5" fill-opacity="0.5"/>
<circle cx="980.8" cy="1429.2" r="4.3" fill="#66c2a5" fill-opacity="0.5"/>
<circle cx="1014.9" cy="1406.2" r="4.3" fill="#66c2a5" fill-opacity="0.5"/>
<circle cx="1011.4" cy="1384.9" r="4.3" fill="#66c2a5" fill-opacity="0.5"/>
<circle cx="966.1" cy="1474.0" r="4.3" fill="#66c2a5" fill-opacity="0.5"/>
<circle cx="1011.9" cy="1453.3" r="4.3" fill="#66c2a5" fill-opacity="0.5"/>
<circle cx="988.9" cy="1467.7" r="4.3" fill="#66c2a5" fill-opacity="0.5"/>
<circle cx="967.3" cy="1304.3" r="4.3" fill="#66c2a5" fill-opacity="0.5"/>
<circle cx="1008.4" cy="1436.3" r="4.3" fill="#66c2a5" fill-opacity="0.5"/>
<circle cx="1008.1" cy="1416.3" r="4.3" fill="#66c2a5" fill-opacity="0.5"/>
<circle cx="1027.9" cy="1410.0" r="4.3" fill="#66c2a5" fill-opacity="0.5"/>
<circle cx="1000.5" cy="1470.0" r="4.3" fill="#66c2a5" fill-opacity="0.5"/>
<circle cx="1002.4" cy="1409.4" r="4.3" fill="#66c2a5" fill-opacity="0.5"/>
<circle cx="960.2" cy="1361.5" r="4.3" fill="#66c2a5" fill-opacity="0.5"/>
<circle cx="1028.9" cy="1349.9" r="4.3" fill="#66c2a5" fill-opacity="0.5"/>
<circle cx="1009.8" cy="1226.6" r="4.3" fill="#66c2a5" fill-opacity="0.5"/>
<circle cx="1002.0" cy="1230.2" r="4.3" fill="#66c2a5" fill-opacity="0.5"/>
<circle cx="1016.5" cy="1243.6" r="4.3" fill="#66c2a5" fill-opacity="0.5"/>
<circle cx="1018.0" cy="1249.0" r="4.3" fill="#66c2a5" fill-opacity="0.5"/>
<circle cx="965.5" cy="1261.5" r="4.3" fill="#66c2a5" fill-opacity="0.5"/>
<circle cx="984.0" cy="1257.0" r="4.3" fill="#66c2a5" fill-opacity="0.5"/>
<circle cx="973.5" cy="1265.9" r="4.3" fill="#66c2a5" fill-opacity="0.5"/>
<circle cx="984.5" cy="1264.1" r="4.3" fill="#66c2a5" fill-opacity="0.5"/>
<circle cx="970.0" cy="1271.3" r="4.3" fill="#66c2a5" fill-opacity="0.5"/>
<circle cx="994.5" cy="1273.1" r="4.3" fill="#66c2a5" fill-opacity="0.5"/>
<circle cx="1014.5" cy="1283.8" r="4.3" fill="#66c2a5" fill-opacity="0.5"/>
<circle cx="965.5" cy="1289.2" r="4.3" fill="#66c2a5" fill-opacity="0.5"/>
<circle cx="1001.5" cy="1296.3" r="4.3" fill="#66c2a5" fill-opacity="0.5"/>
<circle cx="973.5" cy="1299.9" r="4.3" fill="#66c2a5" fill-opacity="0.5"/>
<circle cx="983.0" cy="1521.6" r="4.3" fill="#66c2a5" fill-opacity="0.5"/>
<circle cx="1020.5" cy="1511.8" r="4.3" fill="#66c2a5" fill-opacity="0.5"/>
<circle cx="1026.5" cy="1502.0" r="4.3" fill="#66c2a5" fill-opacity="0.5"/>
<circle cx="979.5" cy="1495.7" r="4.3" fill="#66c2a5" fill-opacity="0.5"/>
<circle cx="1010.5" cy="1494.8" r="4.3" fill="#66c2a5" fill-opacity="0.5"/>
<circle cx="1020.5" cy="1484.1" r="4.3" fill="#66c2a5" fill-opacity="0.5"/>
<circle cx="1188.5" cy="1350.9" r="4.3" fill="#fc8d62" fill-opacity="0.5"/>
<circle cx="1183.5" cy="1423.0" r="4.3" fill="#fc8d62" fill-opacity="0.5"/>
<circle cx="1195.1" cy="1248.3" r="4.3" fill="#fc8d62" fill-opacity="0.5"/>
<circle cx="1180.4" cy="1389.3" r="4.3" fill="#fc8d62" fill-opacity="0.5"/>
<circle cx="1160.8" cy="1387.7" r="4.3" fill="#fc8d62" fill-opacity="0.5"/>
<circle cx="1169.4" cy="1411.9" r="4.3" fill="#fc8d62" fill-opacity="0.5"/>
<circle cx="1152.9" cy="1270.9" r="4.3" fill="#fc8d62" fill-opacity="0.5"/>
<circle cx="1150.8" cy="1211.4" r="4.3" fill="#fc8d62" fill-opacity="0.5"/>
<circle cx="1193.1" cy="1311.0" r="4.3" fill="#fc8d62" fill-opacity="0.5"/>
<circle cx="1199.6" cy="1309.5" r="4.3" fill="#fc8d62" fill-opacity="0.5"/>
<circle cx="1183.9" cy="1265.2" r="4.3" fill="#fc8d62" fill-opacity="0.5"/>
<circle cx="1161.1" cy="1262.7" r="4.3" fill="#fc8d62" fill-opacity="0.5"/>
<circle cx="1195.8" cy="1261.0" r="4.3" fill="#fc8d62" fill-opacity="0.5"/>
<circle cx="1139.2" cy="1370.3" r="4.3" fill="#fc8d62" fill-opacity="0.5"/>
<circle cx="1188.6" cy="1259.2" r="4.3" fill="#fc8d62" fill-opacity="0.5"/>
<circle cx="1150.6" cy="1314.2" r="4.3" fill="#fc8d62" fill-opacity="0.5"/>
<circle cx="1138.8" cy="1343.9" r="4.3" fill="#fc8d62" fill-opacity="0.5"/>
<circle cx="1194.4" cy="1220.9" r="4.3" fill="#fc8d62" fill-opacity="0.5"/>
<circle cx="1176.8" cy="1306.1" r="4.3" fill="#fc8d62" fill-opacity="0.5"/>
<circle cx="1195.3" cy="1292.8" r="4.3" fill="#fc8d62" fill-opacity="0.5"/>
<circle cx="1169.0" cy="1421.3" r="4.3" fill="#fc8d62" fill-opacity="0.5"/>
<circle cx="1184.9" cy="1341.8" r="4.3" fill="#fc8d62" fill-opacity="0.5"/>
<circle cx="1142.3" cy="1436.3" r="4.3" fill="#fc8d62" fill-opacity="0.5"/>
<circle cx="1186.6" cy="1245.3" r="4.3" fill="#fc8d62" fill-opacity="0.5"/>
<circle cx="1168.3" cy="1431.6" r="4.3" fill="#fc8d62" fill-opacity="0.5"/>
<circle cx="1179.1" cy="1340.3" r="4.3" fill="#fc8d62" fill-opacity="0.5"/>
<circle cx="1137.7" cy="1420.7" r="4.3" fill="#fc8d62" fill-opacity="0.5"/>
<circle cx="1171.5" cy="1421.2" r="4.3" fill="#fc8d62" fill-opacity="0.5"/>
<circle cx="1160.5" cy="1421.4" r="4.3" fill="#fc8d62" fill-opacity="0.5"/>
<circle cx="1164.8" cy="1310.5" r="4.3" fill="#fc8d62" fill-opacity="0.5"/>
<circle cx="1147.4" cy="1382.2" r="4.3" fill="#fc8d62" fill-opacity="0.5"/>
<circle cx="1161.4" cy="1406.5" r="4.3" fill="#fc8d62" fill-opacity="0.5"/>
<circle cx="1161.3" cy="1284.2" r="4.3" fill="#fc8d62" fill-opacity="0.5"/>
<circle cx="1178.4" cy="1416.5" r="4.3" fill="#fc8d62" fill-opacity="0.5"/>
<circle cx="1194.9" cy="1350.5" r="4.3" fill="#fc8d62" fill-opacity="0.5"/>
<circle cx="1137.3" cy="1357.6" r="4.3" fill="#fc8d62" fill-opacity="0.5"/>
<circle cx="1164.3" cy="1325.6" r="4.3" fill="#fc8d62" fill-opacity="0.5"/>
<circle cx="1181.6" cy="1334.9" r="4.3" fill="#fc8d62" fill-opacity="0.5"/>
<circle cx="1137.4" cy="1367.9" r="4.3" fill="#fc8d62" fill-opacity="0.5"/>
<circle cx="1161.3" cy="1381.8" r="4.3" fill="#fc8d62" fill-opacity="0.5"/>
<circle cx="1187.4" cy="1258.2" r="4.3" fill="#fc8d62" fill-opacity="0.5"/>
<circle cx="1184.8" cy="1253.8" r="4.3" fill="#fc8d62" fill-opacity="0.5"/>
<circle cx="1130.5" cy="1441.3" r="4.3" fill="#fc8d62" fill-opacity="0.5"/>
<circle cx="1143.2" cy="1430.3" r="4.3" fill="#fc8d62" fill-opacity="0.5"/>
<circle cx="1175.0" cy="1305.6" r="4.3" fill="#fc8d62" fill-opacity="0.5"/>
<circle cx="1143.8" cy="1324.9" r="4.3" fill="#fc8d62" fill-opacity="0.5"/>
<circle cx="1179.8" cy="1392.4" r="4.3" fill="#fc8d62" fill-opacity="0.5"/>
<circle cx="1188.1" cy="1288.9" r="4.3" fill="#fc8d62" fill-opacity="0.5"/>
<circle cx="1188.4" cy="1320.4" r="4.3" fill="#fc8d62" fill-opacity="0.5"/>
<circle cx="1176.7" cy="1382.7" r="4.3" fill="#fc8d62" fill-opacity="0.5"/>
<circle cx="1133.1" cy="1287.0" r="4.3" fill="#fc8d62" fill-opacity="0.5"/>
<circle cx="1137.7" cy="1224.3" r="4.3" fill="#fc8d62" fill-opacity="0.5"/>
<circle cx="1159.2" cy="1239.9" r="4.3" fill="#fc8d62" fill-opacity="0.5"/>
<circle cx="1173.0" cy="1359.5" r="4.3" fill="#fc8d62" fill-opacity="0.5"/>
<circle cx="1181.8" cy="1337.4" r="4.3" fill="#fc8d62" fill-opacity="0.5"/>
<circle cx="1175.4" cy="1332.6" r="4.3" fill="#fc8d62" fill-opacity="0.5"/>
<circle cx="1165.5" cy="1395.4" r="4.3" fill="#fc8d62" fill-opacity="0.5"/>
<circle cx="1180.9" cy="1323.7" r="4.3" fill="#fc8d62" fill-opacity="0.5"/>
<circle cx="1196.2" cy="1367.7" r="4.3" fill="#fc8d62" fill-opacity="0.5"/>
<circle cx="1192.9" cy="1323.2" r="4.3" fill="#fc8d62" fill-opacity="0.5"/>
<circle cx="1166.5" cy="1280.4" r="4.3" fill="#fc8d62" fill-opacity="0.5"/>
<circle cx="1173.0" cy="1405.3" r="4.3" fill="#fc8d62" fill-opacity="0.5"/>
<circle cx="1198.2" cy="1387.1" r="4.3" fill="#fc8d62" fill-opacity="0.5"/>
<circle cx="1170.1" cy="1226.1" r="4.3" fill="#fc8d62" fill-opacity="0.5"/>
<circle cx="1141.9" cy="1365.6" r="4.3" fill="#fc8d62" fill-opacity="0.5"/>
<circle cx="1161.8" cy="1316.1" r="4.3" fill="#fc8d62" fill-opacity="0.5"/>
<circle cx="1131.8" cy="1227.6" r="4.3" fill="#fc8d62" fill-opacity="0.5"/>
<circle cx="1195.1" cy="1378.0" r="4.3" fill="#fc8d62" fill-opacity="0.5"/>
<circle cx="1190.4" cy="1252.0" r="4.3" fill="#fc8d62" fill-opacity="0.5"/>
<circle cx="1195.6" cy="1400.4" r="4.3" fill="#fc8d62" fill-opacity="0.5"/>
<circle cx="1166.9" cy="1245.5" r="4.3" fill="#fc8d62" fill-opacity="0.5"/>
<circle cx="1180.4" cy="1402.3" r="4.3" fill="#fc8d62" fill-opacity="0.5"/>
<circle cx="1195.9" cy="1349.7" r="4.3" fill="#fc8d62" fill-opacity="0.5"/>
<circle cx="1134.1" cy="1351.7" r="4.3" fill="#fc8d62" fill-opacity="0.5"/>
<circle cx="1181.4" cy="1397.7" r="4.3" fill="#fc8d62" fill-opacity="0.5"/>
<circle cx="1180.4" cy="1333.1" r="4.3" fill="#fc8d62" fill-opacity="0.5"/>
<circle cx="1158.4" cy="1341.6" r="4.3" fill="#fc8d62" fill-opacity="0.5"/>
<circle cx="1134.2" cy="1258.8" r="4.3" fill="#fc8d62" fill-opacity="0.5"/>
<circle cx="1145.3" cy="1417.9" r="4.3" fill="#fc8d62" fill-opacity="0.5"/>
<circle cx="1182.5" cy="1305.8" r="4.3" fill="#fc8d62" fill-opacity="0.5"/>
<circle cx="1176.4" cy="1258.9" r="4.3" fill="#fc8d62" fill-opacity="0.5"/>
<circle cx="1150.8" cy="1289.3" r="4.3" fill="#fc8d62" fill-opacity="0.5"/>
<circle cx="1132.1" cy="1274.1" r="4.3" fill="#fc8d62" fill-opacity="0.5"/>
<circle cx="1169.3" cy="1291.5" r="4.3" fill="#fc8d62" fill-opacity="0.5"/>
<circle cx="1164.2" cy="1276.7" r="4.3" fill="#fc8d62" fill-opacity="0.5"/>
<circle cx="1160.9" cy="1431.8" r="4.3" fill="#fc8d62" fill-opacity="0.5"/>
<circle cx="1189.4" cy="1312.9" r="4.3" fill="#fc8d62" fill-opacity="0.5"/>
<circle cx="1156.6" cy="1379.0" r="4.3" fill="#fc8d62" fill-opacity="0.5"/>
<circle cx="1187.7" cy="1435.4" r="4.3" fill="#fc8d62" fill-opacity="0.5"/>
<circle cx="1164.0" cy="1273.7" r="4.3" fill="#fc8d62" fill-opacity="0.5"/>
<circle cx="1151.8" cy="1312.3" r="4.3" fill="#fc8d62" fill-opacity="0.5"/>
<circle cx="1193.3" cy="1311.1" r="4.3" fill="#fc8d62" fill-opacity="0.5"/>
<circle cx="1166.1" cy="1262.7" r="4.3" fill="#fc8d62" fill-opacity="0.5"/>
<circle cx="1165.6" cy="1323.2" r="4.3" fill="#fc8d62" fill-opacity="0.5"/>
<circle cx="1192.1" cy="1264.1" r="4.3" fill="#fc8d62" fill-opacity="0.5"/>
<circle cx="1150.3" cy="1374.6" r="4.3" fill="#fc8d62" fill-opacity="0.5"/>
<circle cx="1193.4" cy="1402.0" r="4.3" fill="#fc8d62" fill-opacity="0.5"/>
<circle cx="1178.7" cy="1394.7" r="4.3" fill="#fc8d62" fill-opacity="0.5"/>
<circle cx="1188.5" cy="1302.1" r="4.3" fill="#fc8d62" fill-opacity="0.5"/>
<circle cx="1159.1" cy="1358.0" r="4.3" fill="#fc8d62" fill-opacity="0.5"/>
<circle cx="1132.5" cy="1417.7" r="4.3" fill="#fc8d62" fill-opacity="0.5"/>
<circle cx="1165.7" cy="1364.3" r="4.3" fill="#fc8d62" fill-opacity="0.5"/>
<circle cx="1176.6" cy="1306.9" r="4.3" fill="#fc8d62" fill-opacity="0.5"/>
<circle cx="1139.1" cy="1289.6" r="4.3" fill="#fc8d62" fill-opacity="0.5"/>
<circle cx="1151.5" cy="1364.8" r="4.3" fill="#fc8d62" fill-opacity="0.5"/>
<circle cx="1196.3" cy="1258.6" r="4.3" fill="#fc8d62" fill-opacity="0.5"/>
<circle cx="1177.6" cy="1239.4" r="4.3" fill="#fc8d62" fill-opacity="0.5"/>
<circle cx="1190.8" cy="1282.1" r="4.3" fill="#fc8d62" fill-opacity="0.5"/>
<circle cx="1166.7" cy="1319.8" r="4.3" fill="#fc8d62" fill-opacity="0.5"/>
<circle cx="1140.9" cy="1441.5" r="4.3" fill="#fc8d62" fill-opacity="0.5"/>
<circle cx="1179.5" cy="1354.9" r="4.3" fill="#fc8d62" fill-opacity="0.5"/>
<circle cx="1158.1" cy="1346.0" r="4.3" fill="#fc8d62" fill-opacity="0.5"/>
<circle cx="1189.2" cy="1288.1" r="4.3" fill="#fc8d62" fill-opacity="0.5"/>
<circle cx="1164.2" cy="1322.4" r="4.3" fill="#fc8d62" fill-opacity="0.5"/>
<circle cx="1185.0" cy="1376.0" r="4.3" fill="#fc8d62" fill-opacity="0.5"/>
<circle cx="1184.9" cy="1292.6" r="4.3" fill="#fc8d62" fill-opacity="0.5"/>
<circle cx="1163.2" cy="1345.4" r="4.3" fill="#fc8d62" fill-opacity="0.5"/>
<circle cx="1142.5" cy="1239.3" r="4.3" fill="#fc8d62" fill-opacity="0.5"/>
<circle cx="1139.5" cy="995.9" r="4.3" fill="#fc8d62" fill-opacity="0.5"/>
<circle cx="1183.1" cy="1046.9" r="4.3" fill="#fc8d62" fill-opacity="0.5"/>
<circle cx="1170.0" cy="1062.1" r="4.3" fill="#fc8d62" fill-opacity="0.5"/>
<circle cx="1186.2" cy="1080.0" r="4.3" fill="#fc8d62" fill-opacity="0.5"/>
<circle cx="1180.5" cy="1095.2" r="4.3" fill="#fc8d62" fill-opacity="0.5"/>
<circle cx="1175.0" cy="1099.7" r="4.3" fill="#fc8d62" fill-opacity="0.5"/>
<circle cx="1185.5" cy="1113.1" r="4.3" fill="#fc8d62" fill-opacity="0.5"/>
<circle cx="1198.5" cy="1127.4" r="4.3" fill="#fc8d62" fill-opacity="0.5"/>
<circle cx="1196.5" cy="1155.1" r="4.3" fill="#fc8d62" fill-opacity="0.5"/>
<circle cx="1168.5" cy="1166.7" r="4.3" fill="#fc8d62" fill-opacity="0.5"/>
<circle cx="1163.8" cy="1176.5" r="4.3" fill="#fc8d62" fill-opacity="0.5"/>
<circle cx="1173.5" cy="1181.0" r="4.3" fill="#fc8d62" fill-opacity="0.5"/>
<circle cx="1198.5" cy="1189.1" r="4.3" fill="#fc8d62" fill-opacity="0.5"/>
<circle cx="1131.5" cy="1198.9" r="4.3" fill="#fc8d62" fill-opacity="0.5"/>
<circle cx="1145.0" cy="1476.9" r="4.3" fill="#fc8d62" fill-opacity="0.5"/>
<circle cx="1156.5" cy="1471.6" r="4.3" fill="#fc8d62" fill-opacity="0.5"/>
<circle cx="1165.5" cy="1458.1" r="4.3" fill="#fc8d62" fill-opacity="0.5"/>
<circle cx="1143.5" cy="1448.3" r="4.3" fill="#fc8d62" fill-opacity="0.5"/>
<circle cx="1188.5" cy="1448.3" r="4.3" fill="#fc8d62" fill-opacity="0.5"/>
<circle cx="1340.4" cy="1215.6" r="4.3" fill="#8da0cb" fill-opacity="0.5"/>
<circle cx="1366.8" cy="1170.5" r="4.3" fill="#8da0cb" fill-opacity="0.5"/>
<circle cx="1314.0" cy="1253.4" r="4.3" fill="#8da0cb" fill-opacity="0.5"/>
<circle cx="1309.1" cy="1096.4" r="4.3" fill="#8da0cb" fill-opacity="0.5"/>
<circle cx="1337.8" cy="1223.9" r="4.3" fill="#8da0cb" fill-opacity="0.5"/>
<circle cx="1319.7" cy="1285.1" r="4.3" fill="#8da0cb" fill-opacity="0.5"/>
<circle cx="1303.1" cy="1258.3" r="4.3" fill="#8da0cb" fill-opacity="0.5"/>
<circle cx="1323.1" cy="1225.7" r="4.3" fill="#8da0cb" fill-opacity="0.5"/>
<circle cx="1330.1" cy="1159.7" r="4.3" fill="#8da0cb" fill-opacity="0.5"/>
<circle cx="1359.9" cy="1159.6" r="4.3" fill="#8da0cb" fill-opacity="0.5"/>
<circle cx="1341.4" cy="1211.6" r="4.3" fill="#8da0cb" fill-opacity="0.5"/>
<circle cx="1328.6" cy="1301.1" r="4.3" fill="#8da0cb" fill-opacity="0.5"/>
<circle cx="1329.7" cy="1309.5" r="4.3" fill="#8da0cb" fill-opacity="0.5"/>
<circle cx="1303.2" cy="1114.7" r="4.3" fill="#8da0cb" fill-opacity="0.5"/>
<circle cx="1369.7" cy="1093.4" r="4.3" fill="#8da0cb" fill-opacity="0.5"/>
<circle cx="1365.3" cy="1253.0" r="4.3" fill="#8da0cb" fill-opacity="0.5"/>
<circle cx="1326.8" cy="1290.5" r="4.3" fill="#8da0cb" fill-opacity="0.5"/>
<circle cx="1336.4" cy="1265.9" r="4.3" fill="#8da0cb" fill-opacity="0.5"/>
<circle cx="1365.5" cy="1282.5" r="4.3" fill="#8da0cb" fill-opacity="0.5"/>
<circle cx="1359.2" cy="1130.4" r="4.3" fill="#8da0cb" fill-opacity="0.5"/>
<circle cx="1327.6" cy="1313.8" r="4.3" fill="#8da0cb" fill-opacity="0.5"/>
<circle cx="1310.0" cy="1152.0" r="4.3" fill="#8da0cb" fill-opacity="0.5"/>
<circle cx="1345.0" cy="1328.6" r="4.3" fill="#8da0cb" fill-opacity="0.5"/>
<circle cx="1360.4" cy="1311.7" r="4.3" fill="#8da0cb" fill-opacity="0.5"/>
<circle cx="1327.1" cy="1190.2" r="4.3" fill="#8da0cb" fill-opacity="0.5"/>
<circle cx="1352.3" cy="1251.3" r="4.3" fill="#8da0cb" fill-opacity="0.5"/>
<circle cx="1368.6" cy="1075.1" r="4.3" fill="#8da0cb" fill-opacity="0.5"/>
<circle cx="1333.0" cy="1206.9" r="4.3" fill="#8da0cb" fill-opacity="0.5"/>
<circle cx="1325.8" cy="1219.1" r="4.3" fill="#8da0cb" fill-opacity="0.5"/>
<circle cx="1343.2" cy="1181.2" r="4.3" fill="#8da0cb" fill-opacity="0.5"/>
<circle cx="1333.2" cy="1261.2" r="4.3" fill="#8da0cb" fill-opacity="0.5"/>
<circle cx="1343.2" cy="1162.0" r="4.3" fill="#8da0cb" fill-opacity="0.5"/>
<circle cx="1364.3" cy="1199.8" r="4.3" fill="#8da0cb" fill-opacity="0.5"/>
<circle cx="1336.0" cy="1164.5" r="4.3" fill="#8da0cb" fill-opacity="0.5"/>
<circle cx="1309.8" cy="1235.0" r="4.3" fill="#8da0cb" fill-opacity="0.5"/>
<circle cx="1367.6" cy="1183.3" r="4.3" fill="#8da0cb" fill-opacity="0.5"/>
<circle cx="1323.9" cy="1226.5" r="4.3" fill="#8da0cb" fill-opacity="0.5"/>
<circle cx="1357.1" cy="1234.9" r="4.3" fill="#8da0cb" fill-opacity="0.5"/>
<circle cx="1361.8" cy="1305.9" r="4.3" fill="#8da0cb" fill-opacity="0.5"/>
<circle cx="1343.0" cy="1182.0" r="4.3" fill="#8da0cb" fill-opacity="0.5"/>
<circle cx="1330.7" cy="1124.5" r="4.3" fill="#8da0cb" fill-opacity="0.5"/>
<circle cx="1354.9" cy="1243.5" r="4.3" fill="#8da0cb" fill-opacity="0.5"/>
<circle cx="1317.4" cy="1143.0" r="4.3" fill="#8da0cb" fill-opacity="0.5"/>
<circle cx="1322.0" cy="1240.4" r="4.3" fill="#8da0cb" fill-opacity="0.5"/>
<circle cx="1362.6" cy="1265.1" r="4.3" fill="#8da0cb" fill-opacity="0.5"/>
<circle cx="1313.8" cy="1158.0" r="4.3" fill="#8da0cb" fill-opacity="0.5"/>
<circle cx="1344.1" cy="1167.7" r="4.3" fill="#8da0cb" fill-opacity="0.5"/>
<circle cx="1307.8" cy="1157.9" r="4.3" fill="#8da0cb" fill-opacity="0.5"/>
<circle cx="1332.2" cy="1128.7" r="4.3" fill="#8da0cb" fill-opacity="0.5"/>
<circle cx="1313.1" cy="1282.3" r="4.3" fill="#8da0cb" fill-opacity="0.5"/>
<circle cx="1304.2" cy="1246.3" r="4.3" fill="#8da0cb" fill-opacity="0.5"/>
<circle cx="1363.1" cy="1170.8" r="4.3" fill="#8da0cb" fill-opacity="0.5"/>
<circle cx="1314.4" cy="1232.8" r="4.3" fill="#8da0cb" fill-opacity="0.5"/>
<circle cx="1329.8" cy="1205.1" r="4.3" fill="#8da0cb" fill-opacity="0.5"/>
<circle cx="1326.0" cy="1133.6" r="4.3" fill="#8da0cb" fill-opacity="0.5"/>
<circle cx="1350.7" cy="1319.7" r="4.3" fill="#8da0cb" fill-opacity="0.5"/>
<circle cx="1353.8" cy="1171.8" r="4.3" fill="#8da0cb" fill-opacity="0.5"/>
<circle cx="1318.8" cy="1221.9" r="4.3" fill="#8da0cb" fill-opacity="0.5"/>
<circle cx="1311.7" cy="1090.2" r="4.3" fill="#8da0cb" fill-opacity="0.5"/>
<circle cx="1309.2" cy="1245.6" r="4.3" fill="#8da0cb" fill-opacity="0.5"/>
<circle cx="1307.9" cy="1308.9" r="4.3" fill="#8da0cb" fill-opacity="0.5"/>
<circle cx="1366.2" cy="1298.8" r="4.3" fill="#8da0cb" fill-opacity="0.5"/>
<circle cx="1360.7" cy="1123.2" r="4.3" fill="#8da0cb" fill-opacity="0.5"/>
<circle cx="1362.2" cy="1158.1" r="4.3" fill="#8da0cb" fill-opacity="0.5"/>
<circle cx="1301.6" cy="1120.3" r="4.3" fill="#8da0cb" fill-opacity="0.5"/>
<circle cx="1315.5" cy="1279.0" r="4.3" fill="#8da0cb" fill-opacity="0.5"/>
<circle cx="1340.1" cy="1233.7" r="4.3" fill="#8da0cb" fill-opacity="0.5"/>
<circle cx="1308.2" cy="1325.0" r="4.3" fill="#8da0cb" fill-opacity="0.5"/>
<circle cx="1355.5" cy="1319.6" r="4.3" fill="#8da0cb" fill-opacity="0.5"/>
<circle cx="1315.6" cy="1118.7" r="4.3" fill="#8da0cb" fill-opacity="0.5"/>
<circle cx="1365.5" cy="960.2" r="4.3" fill="#8da0cb" fill-opacity="0.5"/>
<circle cx="1325.5" cy="974.5" r="4.3" fill="#8da0cb" fill-opacity="0.5"/>
<circle cx="1369.2" cy="975.4" r="4.3" fill="#8da0cb" fill-opacity="0.5"/>
<circle cx="1304.5" cy="980.8" r="4.3" fill="#8da0cb" fill-opacity="0.5"/>
<circle cx="1340.0" cy="999.5" r="4.3" fill="#8da0cb" fill-opacity="0.5"/>
<circle cx="1345.5" cy="1008.5" r="4.3" fill="#8da0cb" fill-opacity="0.5"/>
<circle cx="1365.0" cy="1008.5" r="4.3" fill="#8da0cb" fill-opacity="0.5"/>
<circle cx="1303.0" cy="1038.9" r="4.3" fill="#8da0cb" fill-opacity="0.5"/>
<circle cx="1320.5" cy="1034.4" r="4.3" fill="#8da0cb" fill-opacity="0.5"/>
<circle cx="1327.5" cy="1046.0" r="4.3" fill="#8da0cb" fill-opacity="0.5"/>
<circle cx="1344.0" cy="1047.8" r="4.3" fill="#8da0cb" fill-opacity="0.5"/>
<circle cx="1356.5" cy="1051.4" r="4.3" fill="#8da0cb" fill-opacity="0.5"/>
<circle cx="1320.5" cy="1055.0" r="4.3" fill="#8da0cb" fill-opacity="0.5"/>
<circle cx="1330.0" cy="1063.0" r="4.3" fill="#8da0cb" fill-opacity="0.5"/>
<circle cx="1308.5" cy="1071.9" r="4.3" fill="#8da0cb" fill-opacity="0.5"/>
<circle cx="1332.5" cy="1072.8" r="4.3" fill="#8da0cb" fill-opacity="0.5"/>
<circle cx="1309.5" cy="1373.2" r="4.3" fill="#8da0cb" fill-opacity="0.5"/>
<circle cx="1323.8" cy="1374.1" r="4.3" fill="#8da0cb" fill-opacity="0.5"/>
<circle cx="1333.0" cy="1373.2" r="4.3" fill="#8da0cb" fill-opacity="0.5"/>
<circle cx="1306.0" cy="1361.6" r="4.3" fill="#8da0cb" fill-opacity="0.5"/>
<circle cx="1344.5" cy="1364.3" r="4.3" fill="#8da0cb" fill-opacity="0.5"/>
<circle cx="1353.5" cy="1361.6" r="4.3" fill="#8da0cb" fill-opacity="0.5"/>
<circle cx="1361.5" cy="1360.7" r="4.3" fill="#8da0cb" fill-opacity="0.5"/>
<circle cx="1347.5" cy="1354.4" r="4.3" fill="#8da0cb" fill-opacity="0.5"/>
<circle cx="1358.1" cy="1349.1" r="4.3" fill="#8da0cb" fill-opacity="0.5"/>
<circle cx="1321.5" cy="1344.6" r="4.3" fill="#8da0cb" fill-opacity="0.5"/>
<circle cx="1313.8" cy="1336.6" r="4.3" fill="#8da0cb" fill-opacity="0.5"/>
</g>
<g stroke="#66c2a5" stroke-width="3.6" fill="none">
<line x1="994.5" y1="1229.3" x2="994.5" y2="1350.0"/>
<line x1="994.5" y1="1431.3" x2="994.5" y2="1520.7"/>
<rect x="959.5" y="1350.0" width="70" height="81.4"/>
<line x1="959.5" y1="1400.0" x2="1029.5" y2="1400.0"/>
</g>
<g stroke="#fc8d62" stroke-width="3.6" fill="none">
<line x1="1165.5" y1="1090.7" x2="1165.5" y2="1257.9"/>
<line x1="1165.5" y1="1374.1" x2="1165.5" y2="1476.9"/>
<rect x="1130.5" y="1257.9" width="70" height="116.2"/>
<line x1="1130.5" y1="1318.7" x2="1200.5" y2="1318.7"/>
</g>
<g stroke="#8da0cb" stroke-width="3.6" fill="none">
<line x1="1336.5" y1="961.1" x2="1336.5" y2="1112.2"/>
<line x1="1336.5" y1="1275.8" x2="1336.5" y2="1373.2"/>
<rect x="1301.5" y="1112.2" width="70" height="163.6"/>
<line x1="1301.5" y1="1195.3" x2="1371.5" y2="1195.3"/>
</g>
<g stroke="#000" stroke-width="3.5" fill="none">
<path d="M858.5,869 L858.5,1531 L1472,1531"/>
<line x1="851.5" y1="1494.8" x2="858.5" y2="1494.8"/>
<line x1="851.5" y1="1405.4" x2="858.5" y2="1405.4"/>
<line x1="851.5" y1="1316.0" x2="858.5" y2="1316.0"/>
<line x1="851.5" y1="1226.6" x2="858.5" y2="1226.6"/>
<line x1="851.5" y1="1137.2" x2="858.5" y2="1137.2"/>
<line x1="851.5" y1="1047.8" x2="858.5" y2="1047.8"/>
<line x1="851.5" y1="958.4" x2="858.5" y2="958.4"/>
<line x1="851.5" y1="869.0" x2="858.5" y2="869.0"/>
<line x1="994.5" y1="1531" x2="994.5" y2="1538"/>
<line x1="1165.5" y1="1531" x2="1165.5" y2="1538"/>
<line x1="1336.5" y1="1531" x2="1336.5" y2="1538"/>
</g>
<g font-family='"Liberation Sans", sans-serif' font-size="27.5" fill="#000" text-anchor="end">
<text x="846.5" y="1503.7">10</text>
<text x="846.5" y="1414.3">20</text>
<text x="846.5" y="1324.9">30</text>
<text x="846.5" y="1235.5">40</text>
<text x="846.5" y="1146.1">50</text>
<text x="846.5" y="1056.7">60</text>
<text x="846.5" y="967.3">70</text>
<text x="846.5" y="877.9">80</text>
</g>
<g font-family='"Liberation Sans", sans-serif' font-size="28.2" font-weight="bold" fill="#000" text-anchor="middle">
<text x="994.5" y="1565">ACS</text>
<text x="1165.5" y="1565">SAP</text>
<text x="1336.5" y="1565">Control</text>
</g>
<path d="M1165.5,895.5 L1165.5,886.5 L1336.5,886.5 L1336.5,895.5" stroke="#000" stroke-width="3.4" fill="none"/>
<text x="1247.6" y="885.5" font-family='"Liberation Sans", sans-serif' font-size="20" text-anchor="middle" fill="#000" stroke="#000" stroke-width="0.5">***</text>
<path d="M994.5,925 L994.5,916 L1336.5,916 L1336.5,925" stroke="#000" stroke-width="3.4" fill="none"/>
<text x="1162.1" y="915" font-family='"Liberation Sans", sans-serif' font-size="20" text-anchor="middle" fill="#000" stroke="#000" stroke-width="0.5">***</text>
<path d="M994.5,955 L994.5,946 L1165.5,946 L1165.5,955" stroke="#000" stroke-width="3.4" fill="none"/>
<text x="1076.6" y="945" font-family='"Liberation Sans", sans-serif' font-size="20" text-anchor="middle" fill="#000" stroke="#000" stroke-width="0.5">***</text>
<text x="0.5" y="1760.5" font-family='"Liberation Sans", sans-serif' font-size="52" fill="#000">(D)</text>
<text x="404.5" y="1787" font-family='"Liberation Sans", sans-serif' font-size="28.2" font-weight="bold">FFR<tspan font-size="14" dy="7.8">CT</tspan></text>
<g>
<circle cx="306.1" cy="2245.5" r="4.3" fill="#66c2a5" fill-opacity="0.5"/>
<circle cx="291.5" cy="2139.7" r="4.3" fill="#66c2a5" fill-opacity="0.5"/>
<circle cx="283.1" cy="2060.4" r="4.3" fill="#66c2a5" fill-opacity="0.5"/>
<circle cx="279.7" cy="2210.3" r="4.3" fill="#66c2a5" fill-opacity="0.5"/>
<circle cx="279.3" cy="2069.2" r="4.3" fill="#66c2a5" fill-opacity="0.5"/>
<circle cx="296.5" cy="2236.7" r="4.3" fill="#66c2a5" fill-opacity="0.5"/>
<circle cx="291.3" cy="2280.8" r="4.3" fill="#66c2a5" fill-opacity="0.5"/>
<circle cx="244.7" cy="2104.5" r="4.3" fill="#66c2a5" fill-opacity="0.5"/>
<circle cx="309.3" cy="2139.7" r="4.3" fill="#66c2a5" fill-opacity="0.5"/>
<circle cx="262.5" cy="2201.4" r="4.3" fill="#66c2a5" fill-opacity="0.5"/>
<circle cx="254.4" cy="2263.1" r="4.3" fill="#66c2a5" fill-opacity="0.5"/>
<circle cx="303.5" cy="2227.9" r="4.3" fill="#66c2a5" fill-opacity="0.5"/>
<circle cx="271.3" cy="2060.4" r="4.3" fill="#66c2a5" fill-opacity="0.5"/>
<circle cx="303.6" cy="2280.8" r="4.3" fill="#66c2a5" fill-opacity="0.5"/>
<circle cx="302.0" cy="2272.0" r="4.3" fill="#66c2a5" fill-opacity="0.5"/>
<circle cx="304.8" cy="2201.4" r="4.3" fill="#66c2a5" fill-opacity="0.5"/>
<circle cx="289.7" cy="2245.5" r="4.3" fill="#66c2a5" fill-opacity="0.5"/>
<circle cx="303.6" cy="2175.0" r="4.3" fill="#66c2a5" fill-opacity="0.5"/>
<circle cx="305.9" cy="2095.7" r="4.3" fill="#66c2a5" fill-opacity="0.5"/>
<circle cx="267.1" cy="2095.7" r="4.3" fill="#66c2a5" fill-opacity="0.5"/>
<circle cx="252.7" cy="2069.2" r="4.3" fill="#66c2a5" fill-opacity="0.5"/>
<circle cx="291.8" cy="2201.4" r="4.3" fill="#66c2a5" fill-opacity="0.5"/>
<circle cx="265.1" cy="2034.0" r="4.3" fill="#66c2a5" fill-opacity="0.5"/>
<circle cx="291.8" cy="2183.8" r="4.3" fill="#66c2a5" fill-opacity="0.5"/>
<circle cx="305.2" cy="2192.6" r="4.3" fill="#66c2a5" fill-opacity="0.5"/>
<circle cx="284.4" cy="2210.3" r="4.3" fill="#66c2a5" fill-opacity="0.5"/>
<circle cx="245.1" cy="2245.5" r="4.3" fill="#66c2a5" fill-opacity="0.5"/>
<circle cx="247.2" cy="2227.9" r="4.3" fill="#66c2a5" fill-opacity="0.5"/>
<circle cx="298.6" cy="2192.6" r="4.3" fill="#66c2a5" fill-opacity="0.5"/>
<circle cx="247.4" cy="2183.8" r="4.3" fill="#66c2a5" fill-opacity="0.5"/>
<circle cx="299.7" cy="2175.0" r="4.3" fill="#66c2a5" fill-opacity="0.5"/>
<circle cx="307.2" cy="2139.7" r="4.3" fill="#66c2a5" fill-opacity="0.5"/>
<circle cx="298.5" cy="2034.0" r="4.3" fill="#66c2a5" fill-opacity="0.5"/>
<circle cx="312.1" cy="2219.1" r="4.3" fill="#66c2a5" fill-opacity="0.5"/>
<circle cx="312.3" cy="2025.2" r="4.3" fill="#66c2a5" fill-opacity="0.5"/>
<circle cx="260.1" cy="2263.1" r="4.3" fill="#66c2a5" fill-opacity="0.5"/>
<circle cx="298.2" cy="2175.0" r="4.3" fill="#66c2a5" fill-opacity="0.5"/>
<circle cx="282.7" cy="2219.1" r="4.3" fill="#66c2a5" fill-opacity="0.5"/>
<circle cx="273.3" cy="2069.2" r="4.3" fill="#66c2a5" fill-opacity="0.5"/>
<circle cx="281.1" cy="2148.6" r="4.3" fill="#66c2a5" fill-opacity="0.5"/>
<circle cx="285.1" cy="2316.0" r="4.3" fill="#66c2a5" fill-opacity="0.5"/>
<circle cx="249.0" cy="2192.6" r="4.3" fill="#66c2a5" fill-opacity="0.5"/>
<circle cx="308.2" cy="2157.4" r="4.3" fill="#66c2a5" fill-opacity="0.5"/>
<circle cx="264.0" cy="2201.4" r="4.3" fill="#66c2a5" fill-opacity="0.5"/>
<circle cx="302.6" cy="2219.1" r="4.3" fill="#66c2a5" fill-opacity="0.5"/>
<circle cx="277.5" cy="2069.2" r="4.3" fill="#66c2a5" fill-opacity="0.5"/>
<circle cx="267.4" cy="2095.7" r="4.3" fill="#66c2a5" fill-opacity="0.5"/>
<circle cx="290.1" cy="2280.8" r="4.3" fill="#66c2a5" fill-opacity="0.5"/>
<circle cx="270.3" cy="2210.3" r="4.3" fill="#66c2a5" fill-opacity="0.5"/>
<circle cx="246.7" cy="2157.4" r="4.3" fill="#66c2a5" fill-opacity="0.5"/>
<circle cx="308.5" cy="2122.1" r="4.3" fill="#66c2a5" fill-opacity="0.5"/>
<circle cx="281.1" cy="2042.8" r="4.3" fill="#66c2a5" fill-opacity="0.5"/>
<circle cx="309.7" cy="2254.3" r="4.3" fill="#66c2a5" fill-opacity="0.5"/>
<circle cx="245.5" cy="2263.1" r="4.3" fill="#66c2a5" fill-opacity="0.5"/>
<circle cx="309.2" cy="2113.3" r="4.3" fill="#66c2a5" fill-opacity="0.5"/>
<circle cx="252.4" cy="2245.5" r="4.3" fill="#66c2a5" fill-opacity="0.5"/>
<circle cx="272.6" cy="2166.2" r="4.3" fill="#66c2a5" fill-opacity="0.5"/>
<circle cx="292.2" cy="2236.7" r="4.3" fill="#66c2a5" fill-opacity="0.5"/>
<circle cx="292.0" cy="2148.6" r="4.3" fill="#66c2a5" fill-opacity="0.5"/>
<circle cx="261.7" cy="2192.6" r="4.3" fill="#66c2a5" fill-opacity="0.5"/>
<circle cx="272.3" cy="2201.4" r="4.3" fill="#66c2a5" fill-opacity="0.5"/>
<circle cx="278.7" cy="2272.0" r="4.3" fill="#66c2a5" fill-opacity="0.5"/>
<circle cx="281.4" cy="2298.4" r="4.3" fill="#66c2a5" fill-opacity="0.5"/>
<circle cx="287.9" cy="2263.1" r="4.3" fill="#66c2a5" fill-opacity="0.5"/>
<circle cx="279.4" cy="2157.4" r="4.3" fill="#66c2a5" fill-opacity="0.5"/>
<circle cx="308.0" cy="2183.8" r="4.3" fill="#66c2a5" fill-opacity="0.5"/>
<circle cx="248.0" cy="2166.2" r="4.3" fill="#66c2a5" fill-opacity="0.5"/>
<circle cx="278.4" cy="2236.7" r="4.3" fill="#66c2a5" fill-opacity="0.5"/>
<circle cx="306.1" cy="2210.3" r="4.3" fill="#66c2a5" fill-opacity="0.5"/>
<circle cx="303.1" cy="2236.7" r="4.3" fill="#66c2a5" fill-opacity="0.5"/>
<circle cx="262.9" cy="2175.0" r="4.3" fill="#66c2a5" fill-opacity="0.5"/>
<circle cx="254.8" cy="2060.4" r="4.3" fill="#66c2a5" fill-opacity="0.5"/>
<circle cx="278.0" cy="2060.4" r="4.3" fill="#66c2a5" fill-opacity="0.5"/>
<circle cx="311.0" cy="2245.5" r="4.3" fill="#66c2a5" fill-opacity="0.5"/>
<circle cx="312.9" cy="2139.7" r="4.3" fill="#66c2a5" fill-opacity="0.5"/>
<circle cx="275.7" cy="2192.6" r="4.3" fill="#66c2a5" fill-opacity="0.5"/>
<circle cx="263.3" cy="2148.6" r="4.3" fill="#66c2a5" fill-opacity="0.5"/>
<circle cx="267.1" cy="2201.4" r="4.3" fill="#66c2a5" fill-opacity="0.5"/>
<circle cx="310.2" cy="2263.1" r="4.3" fill="#66c2a5" fill-opacity="0.5"/>
<circle cx="253.6" cy="2095.7" r="4.3" fill="#66c2a5" fill-opacity="0.5"/>
<circle cx="247.6" cy="2139.7" r="4.3" fill="#66c2a5" fill-opacity="0.5"/>
<circle cx="304.2" cy="2148.6" r="4.3" fill="#66c2a5" fill-opacity="0.5"/>
<circle cx="267.1" cy="2183.8" r="4.3" fill="#66c2a5" fill-opacity="0.5"/>
<circle cx="275.7" cy="2175.0" r="4.3" fill="#66c2a5" fill-opacity="0.5"/>
<circle cx="288.4" cy="2060.4" r="4.3" fill="#66c2a5" fill-opacity="0.5"/>
<circle cx="257.7" cy="2307.2" r="4.3" fill="#66c2a5" fill-opacity="0.5"/>
<circle cx="298.6" cy="2298.4" r="4.3" fill="#66c2a5" fill-opacity="0.5"/>
<circle cx="279.8" cy="2183.8" r="4.3" fill="#66c2a5" fill-opacity="0.5"/>
<circle cx="258.8" cy="2272.0" r="4.3" fill="#66c2a5" fill-opacity="0.5"/>
<circle cx="248.9" cy="2219.1" r="4.3" fill="#66c2a5" fill-opacity="0.5"/>
<circle cx="254.2" cy="2166.2" r="4.3" fill="#66c2a5" fill-opacity="0.5"/>
<circle cx="249.4" cy="2201.4" r="4.3" fill="#66c2a5" fill-opacity="0.5"/>
<circle cx="276.3" cy="2210.3" r="4.3" fill="#66c2a5" fill-opacity="0.5"/>
<circle cx="295.5" cy="2210.3" r="4.3" fill="#66c2a5" fill-opacity="0.5"/>
<circle cx="277.6" cy="2034.0" r="4.3" fill="#66c2a5" fill-opacity="0.5"/>
<circle cx="279.0" cy="2227.9" r="4.3" fill="#66c2a5" fill-opacity="0.5"/>
<circle cx="303.7" cy="2201.4" r="4.3" fill="#66c2a5" fill-opacity="0.5"/>
<circle cx="311.1" cy="2263.1" r="4.3" fill="#66c2a5" fill-opacity="0.5"/>
<circle cx="284.2" cy="2210.3" r="4.3" fill="#66c2a5" fill-opacity="0.5"/>
<circle cx="269.4" cy="2272.0" r="4.3" fill="#66c2a5" fill-opacity="0.5"/>
<circle cx="276.9" cy="2166.2" r="4.3" fill="#66c2a5" fill-opacity="0.5"/>
<circle cx="249.0" cy="2025.2" r="4.3" fill="#66c2a5" fill-opacity="0.5"/>
<circle cx="252.4" cy="2148.6" r="4.3" fill="#66c2a5" fill-opacity="0.5"/>
<circle cx="307.5" cy="2148.6" r="4.3" fill="#66c2a5" fill-opacity="0.5"/>
<circle cx="253.2" cy="2201.4" r="4.3" fill="#66c2a5" fill-opacity="0.5"/>
<circle cx="281.9" cy="2280.8" r="4.3" fill="#66c2a5" fill-opacity="0.5"/>
<circle cx="290.4" cy="2236.7" r="4.3" fill="#66c2a5" fill-opacity="0.5"/>
<circle cx="287.9" cy="2192.6" r="4.3" fill="#66c2a5" fill-opacity="0.5"/>
<circle cx="277.7" cy="2078.0" r="4.3" fill="#66c2a5" fill-opacity="0.5"/>
<circle cx="248.6" cy="2280.8" r="4.3" fill="#66c2a5" fill-opacity="0.5"/>
<circle cx="274.4" cy="2166.2" r="4.3" fill="#66c2a5" fill-opacity="0.5"/>
<circle cx="295.7" cy="2289.6" r="4.3" fill="#66c2a5" fill-opacity="0.5"/>
<circle cx="256.6" cy="2183.8" r="4.3" fill="#66c2a5" fill-opacity="0.5"/>
<circle cx="285.8" cy="2139.7" r="4.3" fill="#66c2a5" fill-opacity="0.5"/>
<circle cx="304.0" cy="2148.6" r="4.3" fill="#66c2a5" fill-opacity="0.5"/>
<circle cx="264.8" cy="2166.2" r="4.3" fill="#66c2a5" fill-opacity="0.5"/>
<circle cx="245.9" cy="2183.8" r="4.3" fill="#66c2a5" fill-opacity="0.5"/>
<circle cx="289.6" cy="2210.3" r="4.3" fill="#66c2a5" fill-opacity="0.5"/>
<circle cx="308.5" cy="2201.4" r="4.3" fill="#66c2a5" fill-opacity="0.5"/>
<circle cx="293.3" cy="2157.4" r="4.3" fill="#66c2a5" fill-opacity="0.5"/>
<circle cx="285.3" cy="2095.7" r="4.3" fill="#66c2a5" fill-opacity="0.5"/>
<circle cx="249.4" cy="2201.4" r="4.3" fill="#66c2a5" fill-opacity="0.5"/>
<circle cx="268.4" cy="2148.6" r="4.3" fill="#66c2a5" fill-opacity="0.5"/>
<circle cx="285.2" cy="2219.1" r="4.3" fill="#66c2a5" fill-opacity="0.5"/>
<circle cx="252.2" cy="2157.4" r="4.3" fill="#66c2a5" fill-opacity="0.5"/>
<circle cx="284.7" cy="2130.9" r="4.3" fill="#66c2a5" fill-opacity="0.5"/>
<circle cx="261.9" cy="2034.0" r="4.3" fill="#66c2a5" fill-opacity="0.5"/>
<circle cx="277.4" cy="2227.9" r="4.3" fill="#66c2a5" fill-opacity="0.5"/>
<circle cx="308.0" cy="2210.3" r="4.3" fill="#66c2a5" fill-opacity="0.5"/>
<circle cx="255.0" cy="2086.9" r="4.3" fill="#66c2a5" fill-opacity="0.5"/>
<circle cx="250.6" cy="2148.6" r="4.3" fill="#66c2a5" fill-opacity="0.5"/>
<circle cx="279.5" cy="2175.0" r="4.3" fill="#66c2a5" fill-opacity="0.5"/>
<circle cx="266.0" cy="2122.1" r="4.3" fill="#66c2a5" fill-opacity="0.5"/>
<circle cx="279.4" cy="2086.9" r="4.3" fill="#66c2a5" fill-opacity="0.5"/>
<circle cx="265.1" cy="2192.6" r="4.3" fill="#66c2a5" fill-opacity="0.5"/>
<circle cx="311.3" cy="1928.2" r="4.3" fill="#66c2a5" fill-opacity="0.5"/>
<circle cx="248.5" cy="1972.3" r="4.3" fill="#66c2a5" fill-opacity="0.5"/>
<circle cx="308.9" cy="1989.9" r="4.3" fill="#66c2a5" fill-opacity="0.5"/>
<circle cx="245.0" cy="1998.7" r="4.3" fill="#66c2a5" fill-opacity="0.5"/>
<circle cx="259.2" cy="2016.4" r="4.3" fill="#66c2a5" fill-opacity="0.5"/>
<circle cx="266.0" cy="2386.5" r="4.3" fill="#66c2a5" fill-opacity="0.5"/>
<circle cx="270.2" cy="2377.7" r="4.3" fill="#66c2a5" fill-opacity="0.5"/>
<circle cx="277.0" cy="2377.7" r="4.3" fill="#66c2a5" fill-opacity="0.5"/>
<circle cx="270.2" cy="2368.9" r="4.3" fill="#66c2a5" fill-opacity="0.5"/>
<circle cx="282.5" cy="2368.9" r="4.3" fill="#66c2a5" fill-opacity="0.5"/>
<circle cx="284.2" cy="2360.1" r="4.3" fill="#66c2a5" fill-opacity="0.5"/>
<circle cx="266.5" cy="2351.3" r="4.3" fill="#66c2a5" fill-opacity="0.5"/>
<circle cx="273.7" cy="2324.8" r="4.3" fill="#66c2a5" fill-opacity="0.5"/>
<circle cx="310.5" cy="2324.8" r="4.3" fill="#66c2a5" fill-opacity="0.5"/>
<circle cx="481.6" cy="2095.7" r="4.3" fill="#fc8d62" fill-opacity="0.5"/>
<circle cx="475.6" cy="2157.4" r="4.3" fill="#fc8d62" fill-opacity="0.5"/>
<circle cx="422.8" cy="2051.6" r="4.3" fill="#fc8d62" fill-opacity="0.5"/>
<circle cx="453.9" cy="2175.0" r="4.3" fill="#fc8d62" fill-opacity="0.5"/>
<circle cx="474.1" cy="1981.1" r="4.3" fill="#fc8d62" fill-opacity="0.5"/>
<circle cx="417.5" cy="2166.2" r="4.3" fill="#fc8d62" fill-opacity="0.5"/>
<circle cx="467.5" cy="2078.0" r="4.3" fill="#fc8d62" fill-opacity="0.5"/>
<circle cx="473.9" cy="2148.6" r="4.3" fill="#fc8d62" fill-opacity="0.5"/>
<circle cx="448.2" cy="2166.2" r="4.3" fill="#fc8d62" fill-opacity="0.5"/>
<circle cx="470.2" cy="2095.7" r="4.3" fill="#fc8d62" fill-opacity="0.5"/>
<circle cx="416.3" cy="2069.2" r="4.3" fill="#fc8d62" fill-opacity="0.5"/>
<circle cx="465.2" cy="2113.3" r="4.3" fill="#fc8d62" fill-opacity="0.5"/>
<circle cx="427.1" cy="2025.2" r="4.3" fill="#fc8d62" fill-opacity="0.5"/>
<circle cx="420.8" cy="2069.2" r="4.3" fill="#fc8d62" fill-opacity="0.5"/>
<circle cx="419.3" cy="2069.2" r="4.3" fill="#fc8d62" fill-opacity="0.5"/>
<circle cx="481.8" cy="2236.7" r="4.3" fill="#fc8d62" fill-opacity="0.5"/>
<circle cx="461.0" cy="2175.0" r="4.3" fill="#fc8d62" fill-opacity="0.5"/>
<circle cx="449.3" cy="1998.7" r="4.3" fill="#fc8d62" fill-opacity="0.5"/>
<circle cx="450.8" cy="2095.7" r="4.3" fill="#fc8d62" fill-opacity="0.5"/>
<circle cx="482.6" cy="2289.6" r="4.3" fill="#fc8d62" fill-opacity="0.5"/>
<circle cx="449.2" cy="2175.0" r="4.3" fill="#fc8d62" fill-opacity="0.5"/>
<circle cx="461.0" cy="2130.9" r="4.3" fill="#fc8d62" fill-opacity="0.5"/>
<circle cx="421.6" cy="2245.5" r="4.3" fill="#fc8d62" fill-opacity="0.5"/>
<circle cx="482.2" cy="2034.0" r="4.3" fill="#fc8d62" fill-opacity="0.5"/>
<circle cx="434.0" cy="2060.4" r="4.3" fill="#fc8d62" fill-opacity="0.5"/>
<circle cx="476.9" cy="2069.2" r="4.3" fill="#fc8d62" fill-opacity="0.5"/>
<circle cx="425.9" cy="2078.0" r="4.3" fill="#fc8d62" fill-opacity="0.5"/>
<circle cx="443.3" cy="2060.4" r="4.3" fill="#fc8d62" fill-opacity="0.5"/>
<circle cx="417.5" cy="2034.0" r="4.3" fill="#fc8d62" fill-opacity="0.5"/>
<circle cx="458.3" cy="2192.6" r="4.3" fill="#fc8d62" fill-opacity="0.5"/>
<circle cx="446.1" cy="2078.0" r="4.3" fill="#fc8d62" fill-opacity="0.5"/>
<circle cx="444.1" cy="2016.4" r="4.3" fill="#fc8d62" fill-opacity="0.5"/>
<circle cx="483.9" cy="2263.1" r="4.3" fill="#fc8d62" fill-opacity="0.5"/>
<circle cx="426.2" cy="2060.4" r="4.3" fill="#fc8d62" fill-opacity="0.5"/>
<circle cx="418.1" cy="2148.6" r="4.3" fill="#fc8d62" fill-opacity="0.5"/>
<circle cx="415.8" cy="2069.2" r="4.3" fill="#fc8d62" fill-opacity="0.5"/>
<circle cx="437.8" cy="2157.4" r="4.3" fill="#fc8d62" fill-opacity="0.5"/>
<circle cx="459.4" cy="2016.4" r="4.3" fill="#fc8d62" fill-opacity="0.5"/>
<circle cx="420.5" cy="2086.9" r="4.3" fill="#fc8d62" fill-opacity="0.5"/>
<circle cx="436.5" cy="2025.2" r="4.3" fill="#fc8d62" fill-opacity="0.5"/>
<circle cx="465.7" cy="2175.0" r="4.3" fill="#fc8d62" fill-opacity="0.5"/>
<circle cx="414.9" cy="2113.3" r="4.3" fill="#fc8d62" fill-opacity="0.5"/>
<circle cx="451.6" cy="2148.6" r="4.3" fill="#fc8d62" fill-opacity="0.5"/>
<circle cx="464.9" cy="2272.0" r="4.3" fill="#fc8d62" fill-opacity="0.5"/>
<circle cx="462.7" cy="2122.1" r="4.3" fill="#fc8d62" fill-opacity="0.5"/>
<circle cx="415.3" cy="2086.9" r="4.3" fill="#fc8d62" fill-opacity="0.5"/>
<circle cx="426.1" cy="2289.6" r="4.3" fill="#fc8d62" fill-opacity="0.5"/>
<circle cx="474.1" cy="2069.2" r="4.3" fill="#fc8d62" fill-opacity="0.5"/>
<circle cx="463.3" cy="2130.9" r="4.3" fill="#fc8d62" fill-opacity="0.5"/>
<circle cx="469.0" cy="2175.0" r="4.3" fill="#fc8d62" fill-opacity="0.5"/>
<circle cx="463.3" cy="2025.2" r="4.3" fill="#fc8d62" fill-opacity="0.5"/>
<circle cx="450.5" cy="2157.4" r="4.3" fill="#fc8d62" fill-opacity="0.5"/>
<circle cx="471.2" cy="2113.3" r="4.3" fill="#fc8d62" fill-opacity="0.5"/>
<circle cx="439.3" cy="2148.6" r="4.3" fill="#fc8d62" fill-opacity="0.5"/>
<circle cx="418.1" cy="2086.9" r="4.3" fill="#fc8d62" fill-opacity="0.5"/>
<circle cx="425.6" cy="2192.6" r="4.3" fill="#fc8d62" fill-opacity="0.5"/>
<circle cx="469.1" cy="2025.2" r="4.3" fill="#fc8d62" fill-opacity="0.5"/>
<circle cx="450.4" cy="1998.7" r="4.3" fill="#fc8d62" fill-opacity="0.5"/>
<circle cx="422.8" cy="2148.6" r="4.3" fill="#fc8d62" fill-opacity="0.5"/>
<circle cx="441.7" cy="1972.3" r="4.3" fill="#fc8d62" fill-opacity="0.5"/>
<circle cx="452.5" cy="2236.7" r="4.3" fill="#fc8d62" fill-opacity="0.5"/>
<circle cx="414.5" cy="2236.7" r="4.3" fill="#fc8d62" fill-opacity="0.5"/>
<circle cx="464.2" cy="2227.9" r="4.3" fill="#fc8d62" fill-opacity="0.5"/>
<circle cx="458.3" cy="2025.2" r="4.3" fill="#fc8d62" fill-opacity="0.5"/>
<circle cx="420.3" cy="2183.8" r="4.3" fill="#fc8d62" fill-opacity="0.5"/>
<circle cx="471.5" cy="2201.4" r="4.3" fill="#fc8d62" fill-opacity="0.5"/>
<circle cx="467.7" cy="2025.2" r="4.3" fill="#fc8d62" fill-opacity="0.5"/>
<circle cx="474.1" cy="2236.7" r="4.3" fill="#fc8d62" fill-opacity="0.5"/>
<circle cx="442.6" cy="2042.8" r="4.3" fill="#fc8d62" fill-opacity="0.5"/>
<circle cx="439.9" cy="2166.2" r="4.3" fill="#fc8d62" fill-opacity="0.5"/>
<circle cx="429.3" cy="1972.3" r="4.3" fill="#fc8d62" fill-opacity="0.5"/>
<circle cx="439.1" cy="1989.9" r="4.3" fill="#fc8d62" fill-opacity="0.5"/>
<circle cx="451.7" cy="2095.7" r="4.3" fill="#fc8d62" fill-opacity="0.5"/>
<circle cx="440.1" cy="1972.3" r="4.3" fill="#fc8d62" fill-opacity="0.5"/>
<circle cx="477.1" cy="2016.4" r="4.3" fill="#fc8d62" fill-opacity="0.5"/>
<circle cx="459.9" cy="2016.4" r="4.3" fill="#fc8d62" fill-opacity="0.5"/>
<circle cx="453.1" cy="2148.6" r="4.3" fill="#fc8d62" fill-opacity="0.5"/>
<circle cx="420.2" cy="2104.5" r="4.3" fill="#fc8d62" fill-opacity="0.5"/>
<circle cx="462.9" cy="2148.6" r="4.3" fill="#fc8d62" fill-opacity="0.5"/>
<circle cx="431.2" cy="2104.5" r="4.3" fill="#fc8d62" fill-opacity="0.5"/>
<circle cx="463.9" cy="2078.0" r="4.3" fill="#fc8d62" fill-opacity="0.5"/>
<circle cx="452.2" cy="2069.2" r="4.3" fill="#fc8d62" fill-opacity="0.5"/>
<circle cx="478.0" cy="2130.9" r="4.3" fill="#fc8d62" fill-opacity="0.5"/>
<circle cx="428.0" cy="2034.0" r="4.3" fill="#fc8d62" fill-opacity="0.5"/>
<circle cx="429.2" cy="2078.0" r="4.3" fill="#fc8d62" fill-opacity="0.5"/>
<circle cx="418.3" cy="2130.9" r="4.3" fill="#fc8d62" fill-opacity="0.5"/>
<circle cx="432.9" cy="2016.4" r="4.3" fill="#fc8d62" fill-opacity="0.5"/>
<circle cx="428.7" cy="2078.0" r="4.3" fill="#fc8d62" fill-opacity="0.5"/>
<circle cx="428.2" cy="2236.7" r="4.3" fill="#fc8d62" fill-opacity="0.5"/>
<circle cx="433.9" cy="2139.7" r="4.3" fill="#fc8d62" fill-opacity="0.5"/>
<circle cx="422.8" cy="2227.9" r="4.3" fill="#fc8d62" fill-opacity="0.5"/>
<circle cx="427.0" cy="2078.0" r="4.3" fill="#fc8d62" fill-opacity="0.5"/>
<circle cx="475.3" cy="2130.9" r="4.3" fill="#fc8d62" fill-opacity="0.5"/>
<circle cx="474.9" cy="2192.6" r="4.3" fill="#fc8d62" fill-opacity="0.5"/>
<circle cx="421.5" cy="2104.5" r="4.3" fill="#fc8d62" fill-opacity="0.5"/>
<circle cx="469.6" cy="2157.4" r="4.3" fill="#fc8d62" fill-opacity="0.5"/>
<circle cx="429.8" cy="2007.5" r="4.3" fill="#fc8d62" fill-opacity="0.5"/>
<circle cx="434.8" cy="2104.5" r="4.3" fill="#fc8d62" fill-opacity="0.5"/>
<circle cx="469.3" cy="1998.7" r="4.3" fill="#fc8d62" fill-opacity="0.5"/>
<circle cx="444.6" cy="1998.7" r="4.3" fill="#fc8d62" fill-opacity="0.5"/>
<circle cx="441.1" cy="2069.2" r="4.3" fill="#fc8d62" fill-opacity="0.5"/>
<circle cx="453.6" cy="2201.4" r="4.3" fill="#fc8d62" fill-opacity="0.5"/>
<circle cx="469.7" cy="2183.8" r="4.3" fill="#fc8d62" fill-opacity="0.5"/>
<circle cx="481.3" cy="2227.9" r="4.3" fill="#fc8d62" fill-opacity="0.5"/>
<circle cx="429.7" cy="2113.3" r="4.3" fill="#fc8d62" fill-opacity="0.5"/>
<circle cx="459.8" cy="2298.4" r="4.3" fill="#fc8d62" fill-opacity="0.5"/>
<circle cx="432.8" cy="1998.7" r="4.3" fill="#fc8d62" fill-opacity="0.5"/>
<circle cx="435.4" cy="1998.7" r="4.3" fill="#fc8d62" fill-opacity="0.5"/>
<circle cx="475.5" cy="2069.2" r="4.3" fill="#fc8d62" fill-opacity="0.5"/>
<circle cx="469.4" cy="2122.1" r="4.3" fill="#fc8d62" fill-opacity="0.5"/>
<circle cx="458.5" cy="2078.0" r="4.3" fill="#fc8d62" fill-opacity="0.5"/>
<circle cx="457.1" cy="2025.2" r="4.3" fill="#fc8d62" fill-opacity="0.5"/>
<circle cx="428.5" cy="2060.4" r="4.3" fill="#fc8d62" fill-opacity="0.5"/>
<circle cx="467.9" cy="2201.4" r="4.3" fill="#fc8d62" fill-opacity="0.5"/>
<circle cx="428.4" cy="2263.1" r="4.3" fill="#fc8d62" fill-opacity="0.5"/>
<circle cx="450.6" cy="2272.0" r="4.3" fill="#fc8d62" fill-opacity="0.5"/>
<circle cx="469.4" cy="2104.5" r="4.3" fill="#fc8d62" fill-opacity="0.5"/>
<circle cx="441.2" cy="2078.0" r="4.3" fill="#fc8d62" fill-opacity="0.5"/>
<circle cx="416.0" cy="1884.1" r="4.3" fill="#fc8d62" fill-opacity="0.5"/>
<circle cx="419.2" cy="1884.1" r="4.3" fill="#fc8d62" fill-opacity="0.5"/>
<circle cx="471.0" cy="1884.1" r="4.3" fill="#fc8d62" fill-opacity="0.5"/>
<circle cx="464.0" cy="1919.4" r="4.3" fill="#fc8d62" fill-opacity="0.5"/>
<circle cx="429.0" cy="1928.2" r="4.3" fill="#fc8d62" fill-opacity="0.5"/>
<circle cx="443.6" cy="1945.8" r="4.3" fill="#fc8d62" fill-opacity="0.5"/>
<circle cx="450.4" cy="1954.7" r="4.3" fill="#fc8d62" fill-opacity="0.5"/>
<circle cx="462.2" cy="1954.7" r="4.3" fill="#fc8d62" fill-opacity="0.5"/>
<circle cx="447.0" cy="1954.7" r="4.3" fill="#fc8d62" fill-opacity="0.5"/>
<circle cx="457.8" cy="1963.5" r="4.3" fill="#fc8d62" fill-opacity="0.5"/>
<circle cx="423.0" cy="1963.5" r="4.3" fill="#fc8d62" fill-opacity="0.5"/>
<circle cx="457.0" cy="2377.7" r="4.3" fill="#fc8d62" fill-opacity="0.5"/>
<circle cx="432.5" cy="2368.9" r="4.3" fill="#fc8d62" fill-opacity="0.5"/>
<circle cx="418.0" cy="2342.5" r="4.3" fill="#fc8d62" fill-opacity="0.5"/>
<circle cx="456.0" cy="2342.5" r="4.3" fill="#fc8d62" fill-opacity="0.5"/>
<circle cx="480.8" cy="2351.3" r="4.3" fill="#fc8d62" fill-opacity="0.5"/>
<circle cx="480.8" cy="2333.7" r="4.3" fill="#fc8d62" fill-opacity="0.5"/>
<circle cx="459.5" cy="2324.8" r="4.3" fill="#fc8d62" fill-opacity="0.5"/>
<circle cx="463.0" cy="2324.8" r="4.3" fill="#fc8d62" fill-opacity="0.5"/>
<circle cx="457.5" cy="2307.2" r="4.3" fill="#fc8d62" fill-opacity="0.5"/>
<circle cx="476.0" cy="2307.2" r="4.3" fill="#fc8d62" fill-opacity="0.5"/>
<circle cx="653.7" cy="1954.7" r="4.3" fill="#8da0cb" fill-opacity="0.5"/>
<circle cx="649.8" cy="1972.3" r="4.3" fill="#8da0cb" fill-opacity="0.5"/>
<circle cx="650.0" cy="1989.9" r="4.3" fill="#8da0cb" fill-opacity="0.5"/>
<circle cx="646.3" cy="2060.4" r="4.3" fill="#8da0cb" fill-opacity="0.5"/>
<circle cx="598.7" cy="1919.4" r="4.3" fill="#8da0cb" fill-opacity="0.5"/>
<circle cx="616.3" cy="2025.2" r="4.3" fill="#8da0cb" fill-opacity="0.5"/>
<circle cx="592.7" cy="1954.7" r="4.3" fill="#8da0cb" fill-opacity="0.5"/>
<circle cx="639.3" cy="1963.5" r="4.3" fill="#8da0cb" fill-opacity="0.5"/>
<circle cx="628.2" cy="1963.5" r="4.3" fill="#8da0cb" fill-opacity="0.5"/>
<circle cx="640.9" cy="1972.3" r="4.3" fill="#8da0cb" fill-opacity="0.5"/>
<circle cx="606.1" cy="2016.4" r="4.3" fill="#8da0cb" fill-opacity="0.5"/>
<circle cx="590.6" cy="1989.9" r="4.3" fill="#8da0cb" fill-opacity="0.5"/>
<circle cx="619.1" cy="2007.5" r="4.3" fill="#8da0cb" fill-opacity="0.5"/>
<circle cx="648.6" cy="1954.7" r="4.3" fill="#8da0cb" fill-opacity="0.5"/>
<circle cx="653.3" cy="1972.3" r="4.3" fill="#8da0cb" fill-opacity="0.5"/>
<circle cx="632.0" cy="2016.4" r="4.3" fill="#8da0cb" fill-opacity="0.5"/>
<circle cx="600.2" cy="1919.4" r="4.3" fill="#8da0cb" fill-opacity="0.5"/>
<circle cx="639.5" cy="1928.2" r="4.3" fill="#8da0cb" fill-opacity="0.5"/>
<circle cx="599.5" cy="1972.3" r="4.3" fill="#8da0cb" fill-opacity="0.5"/>
<circle cx="588.4" cy="1919.4" r="4.3" fill="#8da0cb" fill-opacity="0.5"/>
<circle cx="642.5" cy="2042.8" r="4.3" fill="#8da0cb" fill-opacity="0.5"/>
<circle cx="609.9" cy="1981.1" r="4.3" fill="#8da0cb" fill-opacity="0.5"/>
<circle cx="645.2" cy="1919.4" r="4.3" fill="#8da0cb" fill-opacity="0.5"/>
<circle cx="651.7" cy="1945.8" r="4.3" fill="#8da0cb" fill-opacity="0.5"/>
<circle cx="592.3" cy="1963.5" r="4.3" fill="#8da0cb" fill-opacity="0.5"/>
<circle cx="612.1" cy="1981.1" r="4.3" fill="#8da0cb" fill-opacity="0.5"/>
<circle cx="609.6" cy="1928.2" r="4.3" fill="#8da0cb" fill-opacity="0.5"/>
<circle cx="605.9" cy="1937.0" r="4.3" fill="#8da0cb" fill-opacity="0.5"/>
<circle cx="604.2" cy="1963.5" r="4.3" fill="#8da0cb" fill-opacity="0.5"/>
<circle cx="617.8" cy="1989.9" r="4.3" fill="#8da0cb" fill-opacity="0.5"/>
<circle cx="617.8" cy="1919.4" r="4.3" fill="#8da0cb" fill-opacity="0.5"/>
<circle cx="602.0" cy="1963.5" r="4.3" fill="#8da0cb" fill-opacity="0.5"/>
<circle cx="620.2" cy="1989.9" r="4.3" fill="#8da0cb" fill-opacity="0.5"/>
<circle cx="585.0" cy="1998.7" r="4.3" fill="#8da0cb" fill-opacity="0.5"/>
<circle cx="643.2" cy="1945.8" r="4.3" fill="#8da0cb" fill-opacity="0.5"/>
<circle cx="612.3" cy="1981.1" r="4.3" fill="#8da0cb" fill-opacity="0.5"/>
<circle cx="608.0" cy="1972.3" r="4.3" fill="#8da0cb" fill-opacity="0.5"/>
<circle cx="625.7" cy="1954.7" r="4.3" fill="#8da0cb" fill-opacity="0.5"/>
<circle cx="594.8" cy="1972.3" r="4.3" fill="#8da0cb" fill-opacity="0.5"/>
<circle cx="650.9" cy="1928.2" r="4.3" fill="#8da0cb" fill-opacity="0.5"/>
<circle cx="633.2" cy="1945.8" r="4.3" fill="#8da0cb" fill-opacity="0.5"/>
<circle cx="615.9" cy="2007.5" r="4.3" fill="#8da0cb" fill-opacity="0.5"/>
<circle cx="588.9" cy="1963.5" r="4.3" fill="#8da0cb" fill-opacity="0.5"/>
<circle cx="603.7" cy="2034.0" r="4.3" fill="#8da0cb" fill-opacity="0.5"/>
<circle cx="599.7" cy="1963.5" r="4.3" fill="#8da0cb" fill-opacity="0.5"/>
<circle cx="604.2" cy="1972.3" r="4.3" fill="#8da0cb" fill-opacity="0.5"/>
<circle cx="625.6" cy="2034.0" r="4.3" fill="#8da0cb" fill-opacity="0.5"/>
<circle cx="608.4" cy="1972.3" r="4.3" fill="#8da0cb" fill-opacity="0.5"/>
<circle cx="647.6" cy="2025.2" r="4.3" fill="#8da0cb" fill-opacity="0.5"/>
<circle cx="639.3" cy="1937.0" r="4.3" fill="#8da0cb" fill-opacity="0.5"/>
<circle cx="635.9" cy="2034.0" r="4.3" fill="#8da0cb" fill-opacity="0.5"/>
<circle cx="595.3" cy="1989.9" r="4.3" fill="#8da0cb" fill-opacity="0.5"/>
<circle cx="630.1" cy="1937.0" r="4.3" fill="#8da0cb" fill-opacity="0.5"/>
<circle cx="627.7" cy="1981.1" r="4.3" fill="#8da0cb" fill-opacity="0.5"/>
<circle cx="647.4" cy="1954.7" r="4.3" fill="#8da0cb" fill-opacity="0.5"/>
<circle cx="623.2" cy="1910.6" r="4.3" fill="#8da0cb" fill-opacity="0.5"/>
<circle cx="598.7" cy="1963.5" r="4.3" fill="#8da0cb" fill-opacity="0.5"/>
<circle cx="608.4" cy="1963.5" r="4.3" fill="#8da0cb" fill-opacity="0.5"/>
<circle cx="612.2" cy="1901.8" r="4.3" fill="#8da0cb" fill-opacity="0.5"/>
<circle cx="590.0" cy="1928.2" r="4.3" fill="#8da0cb" fill-opacity="0.5"/>
<circle cx="652.9" cy="1901.8" r="4.3" fill="#8da0cb" fill-opacity="0.5"/>
<circle cx="595.2" cy="1945.8" r="4.3" fill="#8da0cb" fill-opacity="0.5"/>
<circle cx="626.1" cy="1954.7" r="4.3" fill="#8da0cb" fill-opacity="0.5"/>
<circle cx="630.7" cy="1910.6" r="4.3" fill="#8da0cb" fill-opacity="0.5"/>
<circle cx="635.1" cy="1928.2" r="4.3" fill="#8da0cb" fill-opacity="0.5"/>
<circle cx="636.2" cy="1954.7" r="4.3" fill="#8da0cb" fill-opacity="0.5"/>
<circle cx="602.1" cy="1937.0" r="4.3" fill="#8da0cb" fill-opacity="0.5"/>
<circle cx="588.9" cy="1945.8" r="4.3" fill="#8da0cb" fill-opacity="0.5"/>
<circle cx="650.9" cy="1928.2" r="4.3" fill="#8da0cb" fill-opacity="0.5"/>
<circle cx="646.0" cy="1972.3" r="4.3" fill="#8da0cb" fill-opacity="0.5"/>
<circle cx="607.4" cy="2042.8" r="4.3" fill="#8da0cb" fill-opacity="0.5"/>
<circle cx="609.2" cy="1963.5" r="4.3" fill="#8da0cb" fill-opacity="0.5"/>
<circle cx="598.0" cy="1884.1" r="4.3" fill="#8da0cb" fill-opacity="0.5"/>
<circle cx="602.0" cy="1884.1" r="4.3" fill="#8da0cb" fill-opacity="0.5"/>
<circle cx="607.0" cy="1884.1" r="4.3" fill="#8da0cb" fill-opacity="0.5"/>
<circle cx="611.0" cy="1884.1" r="4.3" fill="#8da0cb" fill-opacity="0.5"/>
<circle cx="615.0" cy="1884.1" r="4.3" fill="#8da0cb" fill-opacity="0.5"/>
<circle cx="619.0" cy="1884.1" r="4.3" fill="#8da0cb" fill-opacity="0.5"/>
<circle cx="620.0" cy="1884.1" r="4.3" fill="#8da0cb" fill-opacity="0.5"/>
<circle cx="623.0" cy="1884.1" r="4.3" fill="#8da0cb" fill-opacity="0.5"/>
<circle cx="633.0" cy="1884.1" r="4.3" fill="#8da0cb" fill-opacity="0.5"/>
<circle cx="636.0" cy="1884.1" r="4.3" fill="#8da0cb" fill-opacity="0.5"/>
<circle cx="639.0" cy="1884.1" r="4.3" fill="#8da0cb" fill-opacity="0.5"/>
<circle cx="642.0" cy="1884.1" r="4.3" fill="#8da0cb" fill-opacity="0.5"/>
<circle cx="646.0" cy="1884.1" r="4.3" fill="#8da0cb" fill-opacity="0.5"/>
<circle cx="650.0" cy="1884.1" r="4.3" fill="#8da0cb" fill-opacity="0.5"/>
<circle cx="654.0" cy="1884.1" r="4.3" fill="#8da0cb" fill-opacity="0.5"/>
<circle cx="616.0" cy="1893.0" r="4.3" fill="#8da0cb" fill-opacity="0.5"/>
<circle cx="587.5" cy="2148.6" r="4.3" fill="#8da0cb" fill-opacity="0.5"/>
<circle cx="647.0" cy="2157.4" r="4.3" fill="#8da0cb" fill-opacity="0.5"/>
<circle cx="622.5" cy="2122.1" r="4.3" fill="#8da0cb" fill-opacity="0.5"/>
<circle cx="601.5" cy="2113.3" r="4.3" fill="#8da0cb" fill-opacity="0.5"/>
<circle cx="649.6" cy="2104.5" r="4.3" fill="#8da0cb" fill-opacity="0.5"/>
<circle cx="592.5" cy="2086.9" r="4.3" fill="#8da0cb" fill-opacity="0.5"/>
<circle cx="635.0" cy="2086.9" r="4.3" fill="#8da0cb" fill-opacity="0.5"/>
<circle cx="616.5" cy="2078.0" r="4.3" fill="#8da0cb" fill-opacity="0.5"/>
<circle cx="629.5" cy="2078.0" r="4.3" fill="#8da0cb" fill-opacity="0.5"/>
<circle cx="635.0" cy="2069.2" r="4.3" fill="#8da0cb" fill-opacity="0.5"/>
</g>
<g stroke="#66c2a5" stroke-width="3.6" fill="none">
<line x1="278.5" y1="2007.5" x2="278.5" y2="2139.7"/>
<line x1="278.5" y1="2227.9" x2="278.5" y2="2360.1"/>
<rect x="243.5" y="2139.7" width="70" height="88.1"/>
<line x1="243.5" y1="2183.8" x2="313.5" y2="2183.8"/>
</g>
<g stroke="#fc8d62" stroke-width="3.6" fill="none">
<line x1="449" y1="1884.1" x2="449" y2="2025.2"/>
<line x1="449" y1="2177.6" x2="449" y2="2377.7"/>
<rect x="414.0" y="2025.2" width="70" height="152.5"/>
<line x1="414.0" y1="2095.7" x2="484.0" y2="2095.7"/>
</g>
<g stroke="#8da0cb" stroke-width="3.6" fill="none">
<line x1="620" y1="1884.1" x2="620" y2="1897.4"/>
<line x1="620" y1="1998.7" x2="620" y2="2148.6"/>
<rect x="585.0" y="1897.4" width="70" height="101.4"/>
<line x1="585.0" y1="1954.7" x2="655.0" y2="1954.7"/>
</g>
<g stroke="#000" stroke-width="3.5" fill="none">
<path d="M143,1794 L143,2457.5 L757,2457.5"/>
<line x1="136" y1="2413.0" x2="143" y2="2413.0"/>
<line x1="136" y1="2324.8" x2="143" y2="2324.8"/>
<line x1="136" y1="2236.7" x2="143" y2="2236.7"/>
<line x1="136" y1="2148.6" x2="143" y2="2148.6"/>
<line x1="136" y1="2060.4" x2="143" y2="2060.4"/>
<line x1="136" y1="1972.3" x2="143" y2="1972.3"/>
<line x1="136" y1="1884.1" x2="143" y2="1884.1"/>
<line x1="136" y1="1796.0" x2="143" y2="1796.0"/>
<line x1="278.5" y1="2457.5" x2="278.5" y2="2464.5"/>
<line x1="449" y1="2457.5" x2="449" y2="2464.5"/>
<line x1="620" y1="2457.5" x2="620" y2="2464.5"/>
</g>
<g font-family='"Liberation Sans", sans-serif' font-size="27.5" fill="#000" text-anchor="end">
<text x="131" y="2421.9">0.4</text>
<text x="131" y="2333.7">0.5</text>
<text x="131" y="2245.6">0.6</text>
<text x="131" y="2157.5">0.7</text>
<text x="131" y="2069.3">0.8</text>
<text x="131" y="1981.2">0.9</text>
<text x="131" y="1893.0">1</text>
<text x="131" y="1804.9">1.1</text>
</g>
<g font-family='"Liberation Sans", sans-serif' font-size="28.2" font-weight="bold" fill="#000" text-anchor="middle">
<text x="278.5" y="2491.5">ACS</text>
<text x="449" y="2491.5">SAP</text>
<text x="620" y="2491.5">Control</text>
</g>
<path d="M449,1819 L449,1810 L620,1810 L620,1819" stroke="#000" stroke-width="3.4" fill="none"/>
<text x="531.1" y="1809" font-family='"Liberation Sans", sans-serif' font-size="20" text-anchor="middle" fill="#000" stroke="#000" stroke-width="0.5">***</text>
<path d="M278.5,1849 L278.5,1840 L620,1840 L620,1849" stroke="#000" stroke-width="3.4" fill="none"/>
<text x="445.85" y="1839" font-family='"Liberation Sans", sans-serif' font-size="20" text-anchor="middle" fill="#000" stroke="#000" stroke-width="0.5">***</text>
<path d="M278.5,1879 L278.5,1870 L449,1870 L449,1879" stroke="#000" stroke-width="3.4" fill="none"/>
<text x="360.35" y="1869" font-family='"Liberation Sans", sans-serif' font-size="20" text-anchor="middle" fill="#000" stroke="#000" stroke-width="0.5">***</text>
<text x="740" y="1760" font-family='"Liberation Sans", sans-serif' font-size="52" fill="#000">(E)</text>
<text x="1166" y="1787.5" font-family='"Liberation Sans", sans-serif' font-size="28.4" font-weight="bold" text-anchor="middle">%Calcified</text>
<g>
<circle cx="984.6" cy="2451.0" r="4.3" fill="#66c2a5" fill-opacity="0.5"/>
<circle cx="1021.4" cy="2294.5" r="4.3" fill="#66c2a5" fill-opacity="0.5"/>
<circle cx="966.0" cy="2457.0" r="4.3" fill="#66c2a5" fill-opacity="0.5"/>
<circle cx="966.9" cy="2414.9" r="4.3" fill="#66c2a5" fill-opacity="0.5"/>
<circle cx="1007.2" cy="2451.0" r="4.3" fill="#66c2a5" fill-opacity="0.5"/>
<circle cx="960.4" cy="2414.9" r="4.3" fill="#66c2a5" fill-opacity="0.5"/>
<circle cx="1020.7" cy="2372.7" r="4.3" fill="#66c2a5" fill-opacity="0.5"/>
<circle cx="959.6" cy="2402.8" r="4.3" fill="#66c2a5" fill-opacity="0.5"/>
<circle cx="973.2" cy="2252.4" r="4.3" fill="#66c2a5" fill-opacity="0.5"/>
<circle cx="1000.8" cy="2457.0" r="4.3" fill="#66c2a5" fill-opacity="0.5"/>
<circle cx="1019.5" cy="2451.0" r="4.3" fill="#66c2a5" fill-opacity="0.5"/>
<circle cx="1013.7" cy="2408.9" r="4.3" fill="#66c2a5" fill-opacity="0.5"/>
<circle cx="981.8" cy="2457.0" r="4.3" fill="#66c2a5" fill-opacity="0.5"/>
<circle cx="977.7" cy="2451.0" r="4.3" fill="#66c2a5" fill-opacity="0.5"/>
<circle cx="981.7" cy="2390.8" r="4.3" fill="#66c2a5" fill-opacity="0.5"/>
<circle cx="1010.4" cy="2420.9" r="4.3" fill="#66c2a5" fill-opacity="0.5"/>
<circle cx="963.6" cy="2451.0" r="4.3" fill="#66c2a5" fill-opacity="0.5"/>
<circle cx="985.4" cy="2451.0" r="4.3" fill="#66c2a5" fill-opacity="0.5"/>
<circle cx="1004.2" cy="2366.7" r="4.3" fill="#66c2a5" fill-opacity="0.5"/>
<circle cx="1004.3" cy="2396.8" r="4.3" fill="#66c2a5" fill-opacity="0.5"/>
<circle cx="1008.4" cy="2276.5" r="4.3" fill="#66c2a5" fill-opacity="0.5"/>
<circle cx="996.8" cy="2354.7" r="4.3" fill="#66c2a5" fill-opacity="0.5"/>
<circle cx="1013.5" cy="2451.0" r="4.3" fill="#66c2a5" fill-opacity="0.5"/>
<circle cx="1016.3" cy="2445.0" r="4.3" fill="#66c2a5" fill-opacity="0.5"/>
<circle cx="969.9" cy="2445.0" r="4.3" fill="#66c2a5" fill-opacity="0.5"/>
<circle cx="1007.5" cy="2457.0" r="4.3" fill="#66c2a5" fill-opacity="0.5"/>
<circle cx="992.9" cy="2451.0" r="4.3" fill="#66c2a5" fill-opacity="0.5"/>
<circle cx="1025.4" cy="2451.0" r="4.3" fill="#66c2a5" fill-opacity="0.5"/>
<circle cx="969.7" cy="2318.6" r="4.3" fill="#66c2a5" fill-opacity="0.5"/>
<circle cx="980.3" cy="2451.0" r="4.3" fill="#66c2a5" fill-opacity="0.5"/>
<circle cx="1020.0" cy="2438.9" r="4.3" fill="#66c2a5" fill-opacity="0.5"/>
<circle cx="991.7" cy="2354.7" r="4.3" fill="#66c2a5" fill-opacity="0.5"/>
<circle cx="977.3" cy="2451.0" r="4.3" fill="#66c2a5" fill-opacity="0.5"/>
<circle cx="1001.3" cy="2451.0" r="4.3" fill="#66c2a5" fill-opacity="0.5"/>
<circle cx="980.6" cy="2414.9" r="4.3" fill="#66c2a5" fill-opacity="0.5"/>
<circle cx="999.0" cy="2451.0" r="4.3" fill="#66c2a5" fill-opacity="0.5"/>
<circle cx="1004.7" cy="2438.9" r="4.3" fill="#66c2a5" fill-opacity="0.5"/>
<circle cx="995.9" cy="2451.0" r="4.3" fill="#66c2a5" fill-opacity="0.5"/>
<circle cx="968.8" cy="2451.0" r="4.3" fill="#66c2a5" fill-opacity="0.5"/>
<circle cx="998.0" cy="2372.7" r="4.3" fill="#66c2a5" fill-opacity="0.5"/>
<circle cx="1002.8" cy="2366.7" r="4.3" fill="#66c2a5" fill-opacity="0.5"/>
<circle cx="1029.4" cy="2408.9" r="4.3" fill="#66c2a5" fill-opacity="0.5"/>
<circle cx="1022.6" cy="2451.0" r="4.3" fill="#66c2a5" fill-opacity="0.5"/>
<circle cx="997.3" cy="2451.0" r="4.3" fill="#66c2a5" fill-opacity="0.5"/>
<circle cx="967.0" cy="2451.0" r="4.3" fill="#66c2a5" fill-opacity="0.5"/>
<circle cx="986.2" cy="2445.0" r="4.3" fill="#66c2a5" fill-opacity="0.5"/>
<circle cx="1003.9" cy="2360.7" r="4.3" fill="#66c2a5" fill-opacity="0.5"/>
<circle cx="995.6" cy="2396.8" r="4.3" fill="#66c2a5" fill-opacity="0.5"/>
<circle cx="1025.7" cy="2426.9" r="4.3" fill="#66c2a5" fill-opacity="0.5"/>
<circle cx="968.6" cy="2246.4" r="4.3" fill="#66c2a5" fill-opacity="0.5"/>
<circle cx="1025.4" cy="2414.9" r="4.3" fill="#66c2a5" fill-opacity="0.5"/>
<circle cx="961.9" cy="2457.0" r="4.3" fill="#66c2a5" fill-opacity="0.5"/>
<circle cx="1004.9" cy="2360.7" r="4.3" fill="#66c2a5" fill-opacity="0.5"/>
<circle cx="971.5" cy="2264.4" r="4.3" fill="#66c2a5" fill-opacity="0.5"/>
<circle cx="966.3" cy="2445.0" r="4.3" fill="#66c2a5" fill-opacity="0.5"/>
<circle cx="995.5" cy="2432.9" r="4.3" fill="#66c2a5" fill-opacity="0.5"/>
<circle cx="966.7" cy="2414.9" r="4.3" fill="#66c2a5" fill-opacity="0.5"/>
<circle cx="1022.6" cy="2360.7" r="4.3" fill="#66c2a5" fill-opacity="0.5"/>
<circle cx="1020.1" cy="2276.5" r="4.3" fill="#66c2a5" fill-opacity="0.5"/>
<circle cx="965.7" cy="2348.7" r="4.3" fill="#66c2a5" fill-opacity="0.5"/>
<circle cx="972.0" cy="2451.0" r="4.3" fill="#66c2a5" fill-opacity="0.5"/>
<circle cx="994.5" cy="2420.9" r="4.3" fill="#66c2a5" fill-opacity="0.5"/>
<circle cx="973.1" cy="2276.5" r="4.3" fill="#66c2a5" fill-opacity="0.5"/>
<circle cx="969.6" cy="2451.0" r="4.3" fill="#66c2a5" fill-opacity="0.5"/>
<circle cx="1020.1" cy="2252.4" r="4.3" fill="#66c2a5" fill-opacity="0.5"/>
<circle cx="984.3" cy="2451.0" r="4.3" fill="#66c2a5" fill-opacity="0.5"/>
<circle cx="973.1" cy="2457.0" r="4.3" fill="#66c2a5" fill-opacity="0.5"/>
<circle cx="1021.7" cy="2414.9" r="4.3" fill="#66c2a5" fill-opacity="0.5"/>
<circle cx="1015.5" cy="2457.0" r="4.3" fill="#66c2a5" fill-opacity="0.5"/>
<circle cx="988.2" cy="2451.0" r="4.3" fill="#66c2a5" fill-opacity="0.5"/>
<circle cx="1012.5" cy="2336.6" r="4.3" fill="#66c2a5" fill-opacity="0.5"/>
<circle cx="1021.5" cy="2438.9" r="4.3" fill="#66c2a5" fill-opacity="0.5"/>
<circle cx="1008.2" cy="2426.9" r="4.3" fill="#66c2a5" fill-opacity="0.5"/>
<circle cx="970.8" cy="2438.9" r="4.3" fill="#66c2a5" fill-opacity="0.5"/>
<circle cx="975.4" cy="2270.4" r="4.3" fill="#66c2a5" fill-opacity="0.5"/>
<circle cx="963.1" cy="2408.9" r="4.3" fill="#66c2a5" fill-opacity="0.5"/>
<circle cx="962.3" cy="2390.8" r="4.3" fill="#66c2a5" fill-opacity="0.5"/>
<circle cx="973.1" cy="2445.0" r="4.3" fill="#66c2a5" fill-opacity="0.5"/>
<circle cx="997.6" cy="2457.0" r="4.3" fill="#66c2a5" fill-opacity="0.5"/>
<circle cx="1001.7" cy="2420.9" r="4.3" fill="#66c2a5" fill-opacity="0.5"/>
<circle cx="1001.9" cy="2288.5" r="4.3" fill="#66c2a5" fill-opacity="0.5"/>
<circle cx="973.0" cy="2426.9" r="4.3" fill="#66c2a5" fill-opacity="0.5"/>
<circle cx="1002.6" cy="2318.6" r="4.3" fill="#66c2a5" fill-opacity="0.5"/>
<circle cx="987.0" cy="2426.9" r="4.3" fill="#66c2a5" fill-opacity="0.5"/>
<circle cx="988.0" cy="2451.0" r="4.3" fill="#66c2a5" fill-opacity="0.5"/>
<circle cx="977.1" cy="2300.5" r="4.3" fill="#66c2a5" fill-opacity="0.5"/>
<circle cx="977.7" cy="2360.7" r="4.3" fill="#66c2a5" fill-opacity="0.5"/>
<circle cx="971.1" cy="2457.0" r="4.3" fill="#66c2a5" fill-opacity="0.5"/>
<circle cx="982.1" cy="2354.7" r="4.3" fill="#66c2a5" fill-opacity="0.5"/>
<circle cx="967.8" cy="2318.6" r="4.3" fill="#66c2a5" fill-opacity="0.5"/>
<circle cx="975.4" cy="2451.0" r="4.3" fill="#66c2a5" fill-opacity="0.5"/>
<circle cx="992.5" cy="2451.0" r="4.3" fill="#66c2a5" fill-opacity="0.5"/>
<circle cx="965.0" cy="2432.9" r="4.3" fill="#66c2a5" fill-opacity="0.5"/>
<circle cx="968.8" cy="2438.9" r="4.3" fill="#66c2a5" fill-opacity="0.5"/>
<circle cx="1012.5" cy="2420.9" r="4.3" fill="#66c2a5" fill-opacity="0.5"/>
<circle cx="970.1" cy="2342.7" r="4.3" fill="#66c2a5" fill-opacity="0.5"/>
<circle cx="966.1" cy="2378.8" r="4.3" fill="#66c2a5" fill-opacity="0.5"/>
<circle cx="999.0" cy="2451.0" r="4.3" fill="#66c2a5" fill-opacity="0.5"/>
<circle cx="985.6" cy="2312.6" r="4.3" fill="#66c2a5" fill-opacity="0.5"/>
<circle cx="998.1" cy="2234.3" r="4.3" fill="#66c2a5" fill-opacity="0.5"/>
<circle cx="984.1" cy="2414.9" r="4.3" fill="#66c2a5" fill-opacity="0.5"/>
<circle cx="991.1" cy="2451.0" r="4.3" fill="#66c2a5" fill-opacity="0.5"/>
<circle cx="1008.3" cy="2445.0" r="4.3" fill="#66c2a5" fill-opacity="0.5"/>
<circle cx="1018.2" cy="2414.9" r="4.3" fill="#66c2a5" fill-opacity="0.5"/>
<circle cx="1011.7" cy="2366.7" r="4.3" fill="#66c2a5" fill-opacity="0.5"/>
<circle cx="961.1" cy="2451.0" r="4.3" fill="#66c2a5" fill-opacity="0.5"/>
<circle cx="1020.9" cy="2366.7" r="4.3" fill="#66c2a5" fill-opacity="0.5"/>
<circle cx="990.3" cy="2438.9" r="4.3" fill="#66c2a5" fill-opacity="0.5"/>
<circle cx="982.4" cy="2408.9" r="4.3" fill="#66c2a5" fill-opacity="0.5"/>
<circle cx="1017.1" cy="2457.0" r="4.3" fill="#66c2a5" fill-opacity="0.5"/>
<circle cx="963.4" cy="2451.0" r="4.3" fill="#66c2a5" fill-opacity="0.5"/>
<circle cx="1005.9" cy="2451.0" r="4.3" fill="#66c2a5" fill-opacity="0.5"/>
<circle cx="1022.1" cy="2264.4" r="4.3" fill="#66c2a5" fill-opacity="0.5"/>
<circle cx="1004.4" cy="2445.0" r="4.3" fill="#66c2a5" fill-opacity="0.5"/>
<circle cx="973.2" cy="2457.0" r="4.3" fill="#66c2a5" fill-opacity="0.5"/>
<circle cx="1013.0" cy="2451.0" r="4.3" fill="#66c2a5" fill-opacity="0.5"/>
<circle cx="972.4" cy="2414.9" r="4.3" fill="#66c2a5" fill-opacity="0.5"/>
<circle cx="996.7" cy="2330.6" r="4.3" fill="#66c2a5" fill-opacity="0.5"/>
<circle cx="976.2" cy="1855.2" r="4.3" fill="#66c2a5" fill-opacity="0.5"/>
<circle cx="1017.9" cy="1903.3" r="4.3" fill="#66c2a5" fill-opacity="0.5"/>
<circle cx="962.2" cy="1940.1" r="4.3" fill="#66c2a5" fill-opacity="0.5"/>
<circle cx="968.2" cy="1933.4" r="4.3" fill="#66c2a5" fill-opacity="0.5"/>
<circle cx="1003.5" cy="1933.4" r="4.3" fill="#66c2a5" fill-opacity="0.5"/>
<circle cx="1012.5" cy="1940.1" r="4.3" fill="#66c2a5" fill-opacity="0.5"/>
<circle cx="999.5" cy="1945.5" r="4.3" fill="#66c2a5" fill-opacity="0.5"/>
<circle cx="989.0" cy="1957.5" r="4.3" fill="#66c2a5" fill-opacity="0.5"/>
<circle cx="983.0" cy="1975.6" r="4.3" fill="#66c2a5" fill-opacity="0.5"/>
<circle cx="998.5" cy="1981.6" r="4.3" fill="#66c2a5" fill-opacity="0.5"/>
<circle cx="999.5" cy="2011.7" r="4.3" fill="#66c2a5" fill-opacity="0.5"/>
<circle cx="1020.5" cy="2017.7" r="4.3" fill="#66c2a5" fill-opacity="0.5"/>
<circle cx="967.2" cy="2029.7" r="4.3" fill="#66c2a5" fill-opacity="0.5"/>
<circle cx="974.0" cy="2029.7" r="4.3" fill="#66c2a5" fill-opacity="0.5"/>
<circle cx="1004.3" cy="2029.7" r="4.3" fill="#66c2a5" fill-opacity="0.5"/>
<circle cx="1016.2" cy="2029.7" r="4.3" fill="#66c2a5" fill-opacity="0.5"/>
<circle cx="982.2" cy="2023.7" r="4.3" fill="#66c2a5" fill-opacity="0.5"/>
<circle cx="1016.5" cy="2035.7" r="4.3" fill="#66c2a5" fill-opacity="0.5"/>
<circle cx="993.5" cy="2041.8" r="4.3" fill="#66c2a5" fill-opacity="0.5"/>
<circle cx="961.5" cy="2059.8" r="4.3" fill="#66c2a5" fill-opacity="0.5"/>
<circle cx="1028.5" cy="2059.8" r="4.3" fill="#66c2a5" fill-opacity="0.5"/>
<circle cx="986.8" cy="2071.8" r="4.3" fill="#66c2a5" fill-opacity="0.5"/>
<circle cx="1015.7" cy="2071.8" r="4.3" fill="#66c2a5" fill-opacity="0.5"/>
<circle cx="984.5" cy="2089.9" r="4.3" fill="#66c2a5" fill-opacity="0.5"/>
<circle cx="989.5" cy="2095.9" r="4.3" fill="#66c2a5" fill-opacity="0.5"/>
<circle cx="969.5" cy="2114.0" r="4.3" fill="#66c2a5" fill-opacity="0.5"/>
<circle cx="969.5" cy="2120.0" r="4.3" fill="#66c2a5" fill-opacity="0.5"/>
<circle cx="995.5" cy="2120.0" r="4.3" fill="#66c2a5" fill-opacity="0.5"/>
<circle cx="1024.5" cy="2138.0" r="4.3" fill="#66c2a5" fill-opacity="0.5"/>
<circle cx="989.8" cy="2150.1" r="4.3" fill="#66c2a5" fill-opacity="0.5"/>
<circle cx="996.5" cy="2180.2" r="4.3" fill="#66c2a5" fill-opacity="0.5"/>
<circle cx="962.8" cy="2186.2" r="4.3" fill="#66c2a5" fill-opacity="0.5"/>
<circle cx="1017.0" cy="2186.2" r="4.3" fill="#66c2a5" fill-opacity="0.5"/>
<circle cx="968.5" cy="2204.2" r="4.3" fill="#66c2a5" fill-opacity="0.5"/>
<circle cx="1017.5" cy="2216.3" r="4.3" fill="#66c2a5" fill-opacity="0.5"/>
<circle cx="1024.5" cy="2216.3" r="4.3" fill="#66c2a5" fill-opacity="0.5"/>
<circle cx="980.5" cy="2228.3" r="4.3" fill="#66c2a5" fill-opacity="0.5"/>
<circle cx="1016.5" cy="2228.3" r="4.3" fill="#66c2a5" fill-opacity="0.5"/>
<circle cx="1020.1" cy="2228.3" r="4.3" fill="#66c2a5" fill-opacity="0.5"/>
<circle cx="1166.6" cy="2396.8" r="4.3" fill="#fc8d62" fill-opacity="0.5"/>
<circle cx="1186.8" cy="2451.0" r="4.3" fill="#fc8d62" fill-opacity="0.5"/>
<circle cx="1187.0" cy="2420.9" r="4.3" fill="#fc8d62" fill-opacity="0.5"/>
<circle cx="1135.4" cy="2457.0" r="4.3" fill="#fc8d62" fill-opacity="0.5"/>
<circle cx="1173.7" cy="2451.0" r="4.3" fill="#fc8d62" fill-opacity="0.5"/>
<circle cx="1146.6" cy="2451.0" r="4.3" fill="#fc8d62" fill-opacity="0.5"/>
<circle cx="1184.9" cy="2457.0" r="4.3" fill="#fc8d62" fill-opacity="0.5"/>
<circle cx="1188.6" cy="2384.8" r="4.3" fill="#fc8d62" fill-opacity="0.5"/>
<circle cx="1146.9" cy="2252.4" r="4.3" fill="#fc8d62" fill-opacity="0.5"/>
<circle cx="1181.6" cy="2162.1" r="4.3" fill="#fc8d62" fill-opacity="0.5"/>
<circle cx="1138.5" cy="2451.0" r="4.3" fill="#fc8d62" fill-opacity="0.5"/>
<circle cx="1132.1" cy="2445.0" r="4.3" fill="#fc8d62" fill-opacity="0.5"/>
<circle cx="1194.1" cy="2457.0" r="4.3" fill="#fc8d62" fill-opacity="0.5"/>
<circle cx="1184.7" cy="2451.0" r="4.3" fill="#fc8d62" fill-opacity="0.5"/>
<circle cx="1169.6" cy="2451.0" r="4.3" fill="#fc8d62" fill-opacity="0.5"/>
<circle cx="1185.2" cy="2360.7" r="4.3" fill="#fc8d62" fill-opacity="0.5"/>
<circle cx="1162.5" cy="2150.1" r="4.3" fill="#fc8d62" fill-opacity="0.5"/>
<circle cx="1183.1" cy="2330.6" r="4.3" fill="#fc8d62" fill-opacity="0.5"/>
<circle cx="1158.5" cy="2282.5" r="4.3" fill="#fc8d62" fill-opacity="0.5"/>
<circle cx="1195.5" cy="2445.0" r="4.3" fill="#fc8d62" fill-opacity="0.5"/>
<circle cx="1188.0" cy="2451.0" r="4.3" fill="#fc8d62" fill-opacity="0.5"/>
<circle cx="1174.5" cy="2101.9" r="4.3" fill="#fc8d62" fill-opacity="0.5"/>
<circle cx="1145.8" cy="2457.0" r="4.3" fill="#fc8d62" fill-opacity="0.5"/>
<circle cx="1187.8" cy="2318.6" r="4.3" fill="#fc8d62" fill-opacity="0.5"/>
<circle cx="1135.4" cy="2270.4" r="4.3" fill="#fc8d62" fill-opacity="0.5"/>
<circle cx="1174.5" cy="2186.2" r="4.3" fill="#fc8d62" fill-opacity="0.5"/>
<circle cx="1177.2" cy="2451.0" r="4.3" fill="#fc8d62" fill-opacity="0.5"/>
<circle cx="1157.5" cy="2457.0" r="4.3" fill="#fc8d62" fill-opacity="0.5"/>
<circle cx="1181.1" cy="2348.7" r="4.3" fill="#fc8d62" fill-opacity="0.5"/>
<circle cx="1133.2" cy="2120.0" r="4.3" fill="#fc8d62" fill-opacity="0.5"/>
<circle cx="1136.6" cy="2451.0" r="4.3" fill="#fc8d62" fill-opacity="0.5"/>
<circle cx="1149.0" cy="2445.0" r="4.3" fill="#fc8d62" fill-opacity="0.5"/>
<circle cx="1190.7" cy="2457.0" r="4.3" fill="#fc8d62" fill-opacity="0.5"/>
<circle cx="1174.7" cy="2451.0" r="4.3" fill="#fc8d62" fill-opacity="0.5"/>
<circle cx="1145.5" cy="2451.0" r="4.3" fill="#fc8d62" fill-opacity="0.5"/>
<circle cx="1197.3" cy="2132.0" r="4.3" fill="#fc8d62" fill-opacity="0.5"/>
<circle cx="1189.4" cy="2210.3" r="4.3" fill="#fc8d62" fill-opacity="0.5"/>
<circle cx="1178.8" cy="2451.0" r="4.3" fill="#fc8d62" fill-opacity="0.5"/>
<circle cx="1146.0" cy="2432.9" r="4.3" fill="#fc8d62" fill-opacity="0.5"/>
<circle cx="1198.9" cy="2114.0" r="4.3" fill="#fc8d62" fill-opacity="0.5"/>
<circle cx="1196.8" cy="2457.0" r="4.3" fill="#fc8d62" fill-opacity="0.5"/>
<circle cx="1148.8" cy="2457.0" r="4.3" fill="#fc8d62" fill-opacity="0.5"/>
<circle cx="1154.1" cy="2300.5" r="4.3" fill="#fc8d62" fill-opacity="0.5"/>
<circle cx="1153.6" cy="2126.0" r="4.3" fill="#fc8d62" fill-opacity="0.5"/>
<circle cx="1161.7" cy="2445.0" r="4.3" fill="#fc8d62" fill-opacity="0.5"/>
<circle cx="1159.9" cy="2246.4" r="4.3" fill="#fc8d62" fill-opacity="0.5"/>
<circle cx="1177.9" cy="2432.9" r="4.3" fill="#fc8d62" fill-opacity="0.5"/>
<circle cx="1191.1" cy="2451.0" r="4.3" fill="#fc8d62" fill-opacity="0.5"/>
<circle cx="1192.6" cy="2451.0" r="4.3" fill="#fc8d62" fill-opacity="0.5"/>
<circle cx="1132.9" cy="2408.9" r="4.3" fill="#fc8d62" fill-opacity="0.5"/>
<circle cx="1136.9" cy="2445.0" r="4.3" fill="#fc8d62" fill-opacity="0.5"/>
<circle cx="1178.5" cy="2451.0" r="4.3" fill="#fc8d62" fill-opacity="0.5"/>
<circle cx="1193.2" cy="2270.4" r="4.3" fill="#fc8d62" fill-opacity="0.5"/>
<circle cx="1156.1" cy="2138.0" r="4.3" fill="#fc8d62" fill-opacity="0.5"/>
<circle cx="1199.4" cy="2402.8" r="4.3" fill="#fc8d62" fill-opacity="0.5"/>
<circle cx="1188.5" cy="2264.4" r="4.3" fill="#fc8d62" fill-opacity="0.5"/>
<circle cx="1137.9" cy="2342.7" r="4.3" fill="#fc8d62" fill-opacity="0.5"/>
<circle cx="1138.1" cy="2451.0" r="4.3" fill="#fc8d62" fill-opacity="0.5"/>
<circle cx="1176.1" cy="2222.3" r="4.3" fill="#fc8d62" fill-opacity="0.5"/>
<circle cx="1169.3" cy="2360.7" r="4.3" fill="#fc8d62" fill-opacity="0.5"/>
<circle cx="1174.9" cy="2144.1" r="4.3" fill="#fc8d62" fill-opacity="0.5"/>
<circle cx="1133.2" cy="2420.9" r="4.3" fill="#fc8d62" fill-opacity="0.5"/>
<circle cx="1171.7" cy="2228.3" r="4.3" fill="#fc8d62" fill-opacity="0.5"/>
<circle cx="1147.0" cy="2264.4" r="4.3" fill="#fc8d62" fill-opacity="0.5"/>
<circle cx="1166.5" cy="2101.9" r="4.3" fill="#fc8d62" fill-opacity="0.5"/>
<circle cx="1161.0" cy="2336.6" r="4.3" fill="#fc8d62" fill-opacity="0.5"/>
<circle cx="1137.1" cy="2270.4" r="4.3" fill="#fc8d62" fill-opacity="0.5"/>
<circle cx="1166.5" cy="2234.3" r="4.3" fill="#fc8d62" fill-opacity="0.5"/>
<circle cx="1162.8" cy="2132.0" r="4.3" fill="#fc8d62" fill-opacity="0.5"/>
<circle cx="1157.1" cy="2162.1" r="4.3" fill="#fc8d62" fill-opacity="0.5"/>
<circle cx="1181.8" cy="2240.4" r="4.3" fill="#fc8d62" fill-opacity="0.5"/>
<circle cx="1187.4" cy="2282.5" r="4.3" fill="#fc8d62" fill-opacity="0.5"/>
<circle cx="1138.7" cy="2114.0" r="4.3" fill="#fc8d62" fill-opacity="0.5"/>
<circle cx="1171.2" cy="2354.7" r="4.3" fill="#fc8d62" fill-opacity="0.5"/>
<circle cx="1175.1" cy="2451.0" r="4.3" fill="#fc8d62" fill-opacity="0.5"/>
<circle cx="1170.1" cy="2318.6" r="4.3" fill="#fc8d62" fill-opacity="0.5"/>
<circle cx="1175.0" cy="2174.2" r="4.3" fill="#fc8d62" fill-opacity="0.5"/>
<circle cx="1133.3" cy="2451.0" r="4.3" fill="#fc8d62" fill-opacity="0.5"/>
<circle cx="1170.9" cy="2336.6" r="4.3" fill="#fc8d62" fill-opacity="0.5"/>
<circle cx="1181.3" cy="2457.0" r="4.3" fill="#fc8d62" fill-opacity="0.5"/>
<circle cx="1158.9" cy="2451.0" r="4.3" fill="#fc8d62" fill-opacity="0.5"/>
<circle cx="1170.5" cy="2324.6" r="4.3" fill="#fc8d62" fill-opacity="0.5"/>
<circle cx="1195.5" cy="2366.7" r="4.3" fill="#fc8d62" fill-opacity="0.5"/>
<circle cx="1179.0" cy="2114.0" r="4.3" fill="#fc8d62" fill-opacity="0.5"/>
<circle cx="1168.7" cy="2108.0" r="4.3" fill="#fc8d62" fill-opacity="0.5"/>
<circle cx="1193.4" cy="2451.0" r="4.3" fill="#fc8d62" fill-opacity="0.5"/>
<circle cx="1168.8" cy="2445.0" r="4.3" fill="#fc8d62" fill-opacity="0.5"/>
<circle cx="1136.8" cy="2451.0" r="4.3" fill="#fc8d62" fill-opacity="0.5"/>
<circle cx="1196.0" cy="2438.9" r="4.3" fill="#fc8d62" fill-opacity="0.5"/>
<circle cx="1190.3" cy="2457.0" r="4.3" fill="#fc8d62" fill-opacity="0.5"/>
<circle cx="1187.4" cy="2445.0" r="4.3" fill="#fc8d62" fill-opacity="0.5"/>
<circle cx="1156.3" cy="2445.0" r="4.3" fill="#fc8d62" fill-opacity="0.5"/>
<circle cx="1163.4" cy="2120.0" r="4.3" fill="#fc8d62" fill-opacity="0.5"/>
<circle cx="1185.5" cy="2451.0" r="4.3" fill="#fc8d62" fill-opacity="0.5"/>
<circle cx="1135.1" cy="2138.0" r="4.3" fill="#fc8d62" fill-opacity="0.5"/>
<circle cx="1151.8" cy="2348.7" r="4.3" fill="#fc8d62" fill-opacity="0.5"/>
<circle cx="1132.5" cy="2282.5" r="4.3" fill="#fc8d62" fill-opacity="0.5"/>
<circle cx="1165.2" cy="2457.0" r="4.3" fill="#fc8d62" fill-opacity="0.5"/>
<circle cx="1182.1" cy="2216.3" r="4.3" fill="#fc8d62" fill-opacity="0.5"/>
<circle cx="1182.2" cy="2120.0" r="4.3" fill="#fc8d62" fill-opacity="0.5"/>
<circle cx="1156.6" cy="2451.0" r="4.3" fill="#fc8d62" fill-opacity="0.5"/>
<circle cx="1177.2" cy="2372.7" r="4.3" fill="#fc8d62" fill-opacity="0.5"/>
<circle cx="1180.2" cy="2138.0" r="4.3" fill="#fc8d62" fill-opacity="0.5"/>
<circle cx="1155.9" cy="2360.7" r="4.3" fill="#fc8d62" fill-opacity="0.5"/>
<circle cx="1182.0" cy="2451.0" r="4.3" fill="#fc8d62" fill-opacity="0.5"/>
<circle cx="1167.0" cy="2240.4" r="4.3" fill="#fc8d62" fill-opacity="0.5"/>
<circle cx="1136.0" cy="2186.2" r="4.3" fill="#fc8d62" fill-opacity="0.5"/>
<circle cx="1173.3" cy="2457.0" r="4.3" fill="#fc8d62" fill-opacity="0.5"/>
<circle cx="1132.0" cy="2451.0" r="4.3" fill="#fc8d62" fill-opacity="0.5"/>
<circle cx="1178.8" cy="2438.9" r="4.3" fill="#fc8d62" fill-opacity="0.5"/>
<circle cx="1183.1" cy="2132.0" r="4.3" fill="#fc8d62" fill-opacity="0.5"/>
<circle cx="1152.5" cy="2348.7" r="4.3" fill="#fc8d62" fill-opacity="0.5"/>
<circle cx="1157.3" cy="2330.6" r="4.3" fill="#fc8d62" fill-opacity="0.5"/>
<circle cx="1199.9" cy="2451.0" r="4.3" fill="#fc8d62" fill-opacity="0.5"/>
<circle cx="1163.9" cy="2101.9" r="4.3" fill="#fc8d62" fill-opacity="0.5"/>
<circle cx="1148.6" cy="2451.0" r="4.3" fill="#fc8d62" fill-opacity="0.5"/>
<circle cx="1174.7" cy="2312.6" r="4.3" fill="#fc8d62" fill-opacity="0.5"/>
<circle cx="1166.7" cy="2457.0" r="4.3" fill="#fc8d62" fill-opacity="0.5"/>
<circle cx="1170.5" cy="1873.3" r="4.3" fill="#fc8d62" fill-opacity="0.5"/>
<circle cx="1156.5" cy="1891.3" r="4.3" fill="#fc8d62" fill-opacity="0.5"/>
<circle cx="1193.3" cy="1891.3" r="4.3" fill="#fc8d62" fill-opacity="0.5"/>
<circle cx="1148.5" cy="1903.3" r="4.3" fill="#fc8d62" fill-opacity="0.5"/>
<circle cx="1199.5" cy="1897.3" r="4.3" fill="#fc8d62" fill-opacity="0.5"/>
<circle cx="1169.5" cy="1909.4" r="4.3" fill="#fc8d62" fill-opacity="0.5"/>
<circle cx="1199.5" cy="1909.4" r="4.3" fill="#fc8d62" fill-opacity="0.5"/>
<circle cx="1166.5" cy="1915.4" r="4.3" fill="#fc8d62" fill-opacity="0.5"/>
<circle cx="1188.8" cy="1915.4" r="4.3" fill="#fc8d62" fill-opacity="0.5"/>
<circle cx="1164.0" cy="1927.4" r="4.3" fill="#fc8d62" fill-opacity="0.5"/>
<circle cx="1173.5" cy="1933.4" r="4.3" fill="#fc8d62" fill-opacity="0.5"/>
<circle cx="1188.0" cy="1933.4" r="4.3" fill="#fc8d62" fill-opacity="0.5"/>
<circle cx="1194.5" cy="1933.4" r="4.3" fill="#fc8d62" fill-opacity="0.5"/>
<circle cx="1183.5" cy="1921.4" r="4.3" fill="#fc8d62" fill-opacity="0.5"/>
<circle cx="1195.0" cy="1921.4" r="4.3" fill="#fc8d62" fill-opacity="0.5"/>
<circle cx="1135.5" cy="1951.5" r="4.3" fill="#fc8d62" fill-opacity="0.5"/>
<circle cx="1184.0" cy="1945.5" r="4.3" fill="#fc8d62" fill-opacity="0.5"/>
<circle cx="1163.5" cy="1963.5" r="4.3" fill="#fc8d62" fill-opacity="0.5"/>
<circle cx="1143.5" cy="1987.6" r="4.3" fill="#fc8d62" fill-opacity="0.5"/>
<circle cx="1160.0" cy="1981.6" r="4.3" fill="#fc8d62" fill-opacity="0.5"/>
<circle cx="1182.5" cy="1975.6" r="4.3" fill="#fc8d62" fill-opacity="0.5"/>
<circle cx="1191.5" cy="1975.6" r="4.3" fill="#fc8d62" fill-opacity="0.5"/>
<circle cx="1199.0" cy="1975.6" r="4.3" fill="#fc8d62" fill-opacity="0.5"/>
<circle cx="1198.2" cy="1969.5" r="4.3" fill="#fc8d62" fill-opacity="0.5"/>
<circle cx="1166.5" cy="2011.7" r="4.3" fill="#fc8d62" fill-opacity="0.5"/>
<circle cx="1144.5" cy="2029.7" r="4.3" fill="#fc8d62" fill-opacity="0.5"/>
<circle cx="1163.1" cy="2029.7" r="4.3" fill="#fc8d62" fill-opacity="0.5"/>
<circle cx="1142.5" cy="2035.7" r="4.3" fill="#fc8d62" fill-opacity="0.5"/>
<circle cx="1198.2" cy="2035.7" r="4.3" fill="#fc8d62" fill-opacity="0.5"/>
<circle cx="1178.5" cy="2041.8" r="4.3" fill="#fc8d62" fill-opacity="0.5"/>
<circle cx="1160.5" cy="2059.8" r="4.3" fill="#fc8d62" fill-opacity="0.5"/>
<circle cx="1140.5" cy="2071.8" r="4.3" fill="#fc8d62" fill-opacity="0.5"/>
<circle cx="1141.5" cy="2083.9" r="4.3" fill="#fc8d62" fill-opacity="0.5"/>
<circle cx="1174.5" cy="2083.9" r="4.3" fill="#fc8d62" fill-opacity="0.5"/>
<circle cx="1305.1" cy="1855.2" r="4.3" fill="#8da0cb" fill-opacity="0.5"/>
<circle cx="1331.8" cy="1855.2" r="4.3" fill="#8da0cb" fill-opacity="0.5"/>
<circle cx="1370.9" cy="1855.2" r="4.3" fill="#8da0cb" fill-opacity="0.5"/>
<circle cx="1313.5" cy="1861.2" r="4.3" fill="#8da0cb" fill-opacity="0.5"/>
<circle cx="1322.1" cy="1909.4" r="4.3" fill="#8da0cb" fill-opacity="0.5"/>
<circle cx="1369.2" cy="1903.3" r="4.3" fill="#8da0cb" fill-opacity="0.5"/>
<circle cx="1364.5" cy="1915.4" r="4.3" fill="#8da0cb" fill-opacity="0.5"/>
<circle cx="1351.5" cy="1921.4" r="4.3" fill="#8da0cb" fill-opacity="0.5"/>
<circle cx="1305.5" cy="1939.5" r="4.3" fill="#8da0cb" fill-opacity="0.5"/>
<circle cx="1332.7" cy="1939.5" r="4.3" fill="#8da0cb" fill-opacity="0.5"/>
<circle cx="1332.7" cy="1969.5" r="4.3" fill="#8da0cb" fill-opacity="0.5"/>
<circle cx="1319.5" cy="1987.6" r="4.3" fill="#8da0cb" fill-opacity="0.5"/>
<circle cx="1337.5" cy="2005.7" r="4.3" fill="#8da0cb" fill-opacity="0.5"/>
<circle cx="1355.5" cy="2011.7" r="4.3" fill="#8da0cb" fill-opacity="0.5"/>
<circle cx="1356.5" cy="2017.7" r="4.3" fill="#8da0cb" fill-opacity="0.5"/>
<circle cx="1355.5" cy="2029.7" r="4.3" fill="#8da0cb" fill-opacity="0.5"/>
<circle cx="1355.5" cy="2035.7" r="4.3" fill="#8da0cb" fill-opacity="0.5"/>
<circle cx="1370.5" cy="2047.8" r="4.3" fill="#8da0cb" fill-opacity="0.5"/>
<circle cx="1320.5" cy="2023.7" r="4.3" fill="#8da0cb" fill-opacity="0.5"/>
<circle cx="1342.5" cy="2029.7" r="4.3" fill="#8da0cb" fill-opacity="0.5"/>
<circle cx="1362.5" cy="2101.9" r="4.3" fill="#8da0cb" fill-opacity="0.5"/>
<circle cx="1311.9" cy="2120.0" r="4.3" fill="#8da0cb" fill-opacity="0.5"/>
<circle cx="1320.8" cy="2126.0" r="4.3" fill="#8da0cb" fill-opacity="0.5"/>
<circle cx="1354.5" cy="2114.0" r="4.3" fill="#8da0cb" fill-opacity="0.5"/>
<circle cx="1355.5" cy="2132.0" r="4.3" fill="#8da0cb" fill-opacity="0.5"/>
<circle cx="1342.5" cy="2144.1" r="4.3" fill="#8da0cb" fill-opacity="0.5"/>
<circle cx="1356.0" cy="2144.1" r="4.3" fill="#8da0cb" fill-opacity="0.5"/>
<circle cx="1366.5" cy="2150.1" r="4.3" fill="#8da0cb" fill-opacity="0.5"/>
<circle cx="1342.5" cy="2156.1" r="4.3" fill="#8da0cb" fill-opacity="0.5"/>
<circle cx="1328.9" cy="2222.3" r="4.3" fill="#8da0cb" fill-opacity="0.5"/>
<circle cx="1355.5" cy="2240.4" r="4.3" fill="#8da0cb" fill-opacity="0.5"/>
<circle cx="1361.5" cy="2258.4" r="4.3" fill="#8da0cb" fill-opacity="0.5"/>
<circle cx="1313.5" cy="2294.5" r="4.3" fill="#8da0cb" fill-opacity="0.5"/>
<circle cx="1321.5" cy="2294.5" r="4.3" fill="#8da0cb" fill-opacity="0.5"/>
<circle cx="1349.2" cy="2288.5" r="4.3" fill="#8da0cb" fill-opacity="0.5"/>
<circle cx="1360.5" cy="2288.5" r="4.3" fill="#8da0cb" fill-opacity="0.5"/>
<circle cx="1304.2" cy="2336.6" r="4.3" fill="#8da0cb" fill-opacity="0.5"/>
<circle cx="1317.5" cy="2330.6" r="4.3" fill="#8da0cb" fill-opacity="0.5"/>
<circle cx="1358.2" cy="2336.6" r="4.3" fill="#8da0cb" fill-opacity="0.5"/>
<circle cx="1321.2" cy="2348.7" r="4.3" fill="#8da0cb" fill-opacity="0.5"/>
<circle cx="1352.5" cy="2360.7" r="4.3" fill="#8da0cb" fill-opacity="0.5"/>
<circle cx="1339.0" cy="2390.8" r="4.3" fill="#8da0cb" fill-opacity="0.5"/>
<circle cx="1337.8" cy="2432.9" r="4.3" fill="#8da0cb" fill-opacity="0.5"/>
<circle cx="1370.1" cy="2438.9" r="4.3" fill="#8da0cb" fill-opacity="0.5"/>
<circle cx="1305.5" cy="2451.0" r="4.3" fill="#8da0cb" fill-opacity="0.5"/>
<circle cx="1333.1" cy="2451.0" r="4.3" fill="#8da0cb" fill-opacity="0.5"/>
<circle cx="1366.5" cy="2451.0" r="4.3" fill="#8da0cb" fill-opacity="0.5"/>
<circle cx="1326.1" cy="2457.0" r="4.3" fill="#8da0cb" fill-opacity="0.5"/>
<circle cx="1316.5" cy="2457.0" r="4.3" fill="#8da0cb" fill-opacity="0.5"/>
<circle cx="1357.6" cy="2457.0" r="4.3" fill="#8da0cb" fill-opacity="0.5"/>
<circle cx="1328.3" cy="2457.0" r="4.3" fill="#8da0cb" fill-opacity="0.5"/>
<circle cx="1352.4" cy="2457.0" r="4.3" fill="#8da0cb" fill-opacity="0.5"/>
<circle cx="1361.5" cy="2457.0" r="4.3" fill="#8da0cb" fill-opacity="0.5"/>
<circle cx="1324.8" cy="2457.0" r="4.3" fill="#8da0cb" fill-opacity="0.5"/>
<circle cx="1363.9" cy="2457.0" r="4.3" fill="#8da0cb" fill-opacity="0.5"/>
<circle cx="1363.6" cy="2457.0" r="4.3" fill="#8da0cb" fill-opacity="0.5"/>
<circle cx="1351.9" cy="2457.0" r="4.3" fill="#8da0cb" fill-opacity="0.5"/>
<circle cx="1353.6" cy="2457.0" r="4.3" fill="#8da0cb" fill-opacity="0.5"/>
<circle cx="1332.8" cy="2457.0" r="4.3" fill="#8da0cb" fill-opacity="0.5"/>
<circle cx="1346.9" cy="2457.0" r="4.3" fill="#8da0cb" fill-opacity="0.5"/>
<circle cx="1325.8" cy="2457.0" r="4.3" fill="#8da0cb" fill-opacity="0.5"/>
<circle cx="1347.5" cy="2457.0" r="4.3" fill="#8da0cb" fill-opacity="0.5"/>
<circle cx="1328.9" cy="2457.0" r="4.3" fill="#8da0cb" fill-opacity="0.5"/>
<circle cx="1321.5" cy="2457.0" r="4.3" fill="#8da0cb" fill-opacity="0.5"/>
<circle cx="1366.4" cy="2457.0" r="4.3" fill="#8da0cb" fill-opacity="0.5"/>
<circle cx="1361.3" cy="2457.0" r="4.3" fill="#8da0cb" fill-opacity="0.5"/>
<circle cx="1345.8" cy="2457.0" r="4.3" fill="#8da0cb" fill-opacity="0.5"/>
<circle cx="1306.3" cy="2457.0" r="4.3" fill="#8da0cb" fill-opacity="0.5"/>
<circle cx="1309.0" cy="2457.0" r="4.3" fill="#8da0cb" fill-opacity="0.5"/>
<circle cx="1369.8" cy="2457.0" r="4.3" fill="#8da0cb" fill-opacity="0.5"/>
<circle cx="1366.7" cy="2457.0" r="4.3" fill="#8da0cb" fill-opacity="0.5"/>
<circle cx="1344.3" cy="2457.0" r="4.3" fill="#8da0cb" fill-opacity="0.5"/>
<circle cx="1344.6" cy="2457.0" r="4.3" fill="#8da0cb" fill-opacity="0.5"/>
<circle cx="1330.3" cy="2457.0" r="4.3" fill="#8da0cb" fill-opacity="0.5"/>
<circle cx="1316.8" cy="2457.0" r="4.3" fill="#8da0cb" fill-opacity="0.5"/>
<circle cx="1367.2" cy="2457.0" r="4.3" fill="#8da0cb" fill-opacity="0.5"/>
<circle cx="1311.9" cy="2457.0" r="4.3" fill="#8da0cb" fill-opacity="0.5"/>
<circle cx="1355.1" cy="2457.0" r="4.3" fill="#8da0cb" fill-opacity="0.5"/>
<circle cx="1320.4" cy="2457.0" r="4.3" fill="#8da0cb" fill-opacity="0.5"/>
<circle cx="1348.0" cy="2457.0" r="4.3" fill="#8da0cb" fill-opacity="0.5"/>
<circle cx="1310.1" cy="2457.0" r="4.3" fill="#8da0cb" fill-opacity="0.5"/>
<circle cx="1338.3" cy="2457.0" r="4.3" fill="#8da0cb" fill-opacity="0.5"/>
<circle cx="1368.6" cy="2457.0" r="4.3" fill="#8da0cb" fill-opacity="0.5"/>
<circle cx="1330.8" cy="2457.0" r="4.3" fill="#8da0cb" fill-opacity="0.5"/>
<circle cx="1361.0" cy="2457.0" r="4.3" fill="#8da0cb" fill-opacity="0.5"/>
<circle cx="1308.2" cy="2457.0" r="4.3" fill="#8da0cb" fill-opacity="0.5"/>
<circle cx="1367.7" cy="2457.0" r="4.3" fill="#8da0cb" fill-opacity="0.5"/>
<circle cx="1368.0" cy="2457.0" r="4.3" fill="#8da0cb" fill-opacity="0.5"/>
<circle cx="1339.7" cy="2457.0" r="4.3" fill="#8da0cb" fill-opacity="0.5"/>
<circle cx="1307.3" cy="2457.0" r="4.3" fill="#8da0cb" fill-opacity="0.5"/>
<circle cx="1341.2" cy="2457.0" r="4.3" fill="#8da0cb" fill-opacity="0.5"/>
<circle cx="1348.4" cy="2457.0" r="4.3" fill="#8da0cb" fill-opacity="0.5"/>
<circle cx="1368.7" cy="2457.0" r="4.3" fill="#8da0cb" fill-opacity="0.5"/>
</g>
<g stroke="#66c2a5" stroke-width="3.6" fill="none">
<line x1="994.5" y1="1910.6" x2="994.5" y2="2234.3"/>
<line x1="994.5" y1="2451.0" x2="994.5" y2="2457.0"/>
<rect x="959.5" y="2234.3" width="70" height="216.6"/>
<line x1="959.5" y1="2405.8" x2="1029.5" y2="2405.8"/>
</g>
<g stroke="#fc8d62" stroke-width="3.6" fill="none">
<line x1="1165.5" y1="1873.3" x2="1165.5" y2="2095.9"/>
<line x1="1165.5" y1="2445.0" x2="1165.5" y2="2457.0"/>
<rect x="1130.5" y="2095.9" width="70" height="349.0"/>
<line x1="1130.5" y1="2273.5" x2="1200.5" y2="2273.5"/>
</g>
<g stroke="#8da0cb" stroke-width="3.6" fill="none">
<line x1="1336.5" y1="1927.4" x2="1336.5" y2="2243.4"/>
<line x1="1336.5" y1="2457.0" x2="1336.5" y2="2457.0"/>
<rect x="1301.5" y="2243.4" width="70" height="213.6"/>
<line x1="1301.5" y1="2457.0" x2="1371.5" y2="2457.0"/>
</g>
<g stroke="#000" stroke-width="3.5" fill="none">
<path d="M858.5,1795 L858.5,2457 L1472,2457"/>
<line x1="851.5" y1="2457.0" x2="858.5" y2="2457.0"/>
<line x1="851.5" y1="2396.8" x2="858.5" y2="2396.8"/>
<line x1="851.5" y1="2336.6" x2="858.5" y2="2336.6"/>
<line x1="851.5" y1="2276.5" x2="858.5" y2="2276.5"/>
<line x1="851.5" y1="2216.3" x2="858.5" y2="2216.3"/>
<line x1="851.5" y1="2156.1" x2="858.5" y2="2156.1"/>
<line x1="851.5" y1="2095.9" x2="858.5" y2="2095.9"/>
<line x1="851.5" y1="2035.7" x2="858.5" y2="2035.7"/>
<line x1="851.5" y1="1975.6" x2="858.5" y2="1975.6"/>
<line x1="851.5" y1="1915.4" x2="858.5" y2="1915.4"/>
<line x1="851.5" y1="1855.2" x2="858.5" y2="1855.2"/>
<line x1="851.5" y1="1795.0" x2="858.5" y2="1795.0"/>
<line x1="994.5" y1="2457" x2="994.5" y2="2464"/>
<line x1="1165.5" y1="2457" x2="1165.5" y2="2464"/>
<line x1="1336.5" y1="2457" x2="1336.5" y2="2464"/>
</g>
<g font-family='"Liberation Sans", sans-serif' font-size="27.5" fill="#000" text-anchor="end">
<text x="846.5" y="2465.9">0</text>
<text x="846.5" y="2405.7">10</text>
<text x="846.5" y="2345.5">20</text>
<text x="846.5" y="2285.4">30</text>
<text x="846.5" y="2225.2">40</text>
<text x="846.5" y="2165.0">50</text>
<text x="846.5" y="2104.8">60</text>
<text x="846.5" y="2044.6">70</text>
<text x="846.5" y="1984.5">80</text>
<text x="846.5" y="1924.3">90</text>
<text x="846.5" y="1864.1">100</text>
<text x="846.5" y="1803.9">110</text>
</g>
<g font-family='"Liberation Sans", sans-serif' font-size="28.2" font-weight="bold" fill="#000" text-anchor="middle">
<text x="994.5" y="2491">ACS</text>
<text x="1165.5" y="2491">SAP</text>
<text x="1336.5" y="2491">Control</text>
</g>
<path d="M1165.5,1838 L1165.5,1829 L1336.5,1829 L1336.5,1838" stroke="#000" stroke-width="3.4" fill="none"/>
<text x="1247.6" y="1828" font-family='"Liberation Sans", sans-serif' font-size="20" text-anchor="middle" fill="#000" stroke="#000" stroke-width="0.5">**</text>
<path d="M994.5,1867.5 L994.5,1858.5 L1165.5,1858.5 L1165.5,1867.5" stroke="#000" stroke-width="3.4" fill="none"/>
<text x="1076.6" y="1857.5" font-family='"Liberation Sans", sans-serif' font-size="20" text-anchor="middle" fill="#000" stroke="#000" stroke-width="0.5">**</text>
</svg>
</body></html>
